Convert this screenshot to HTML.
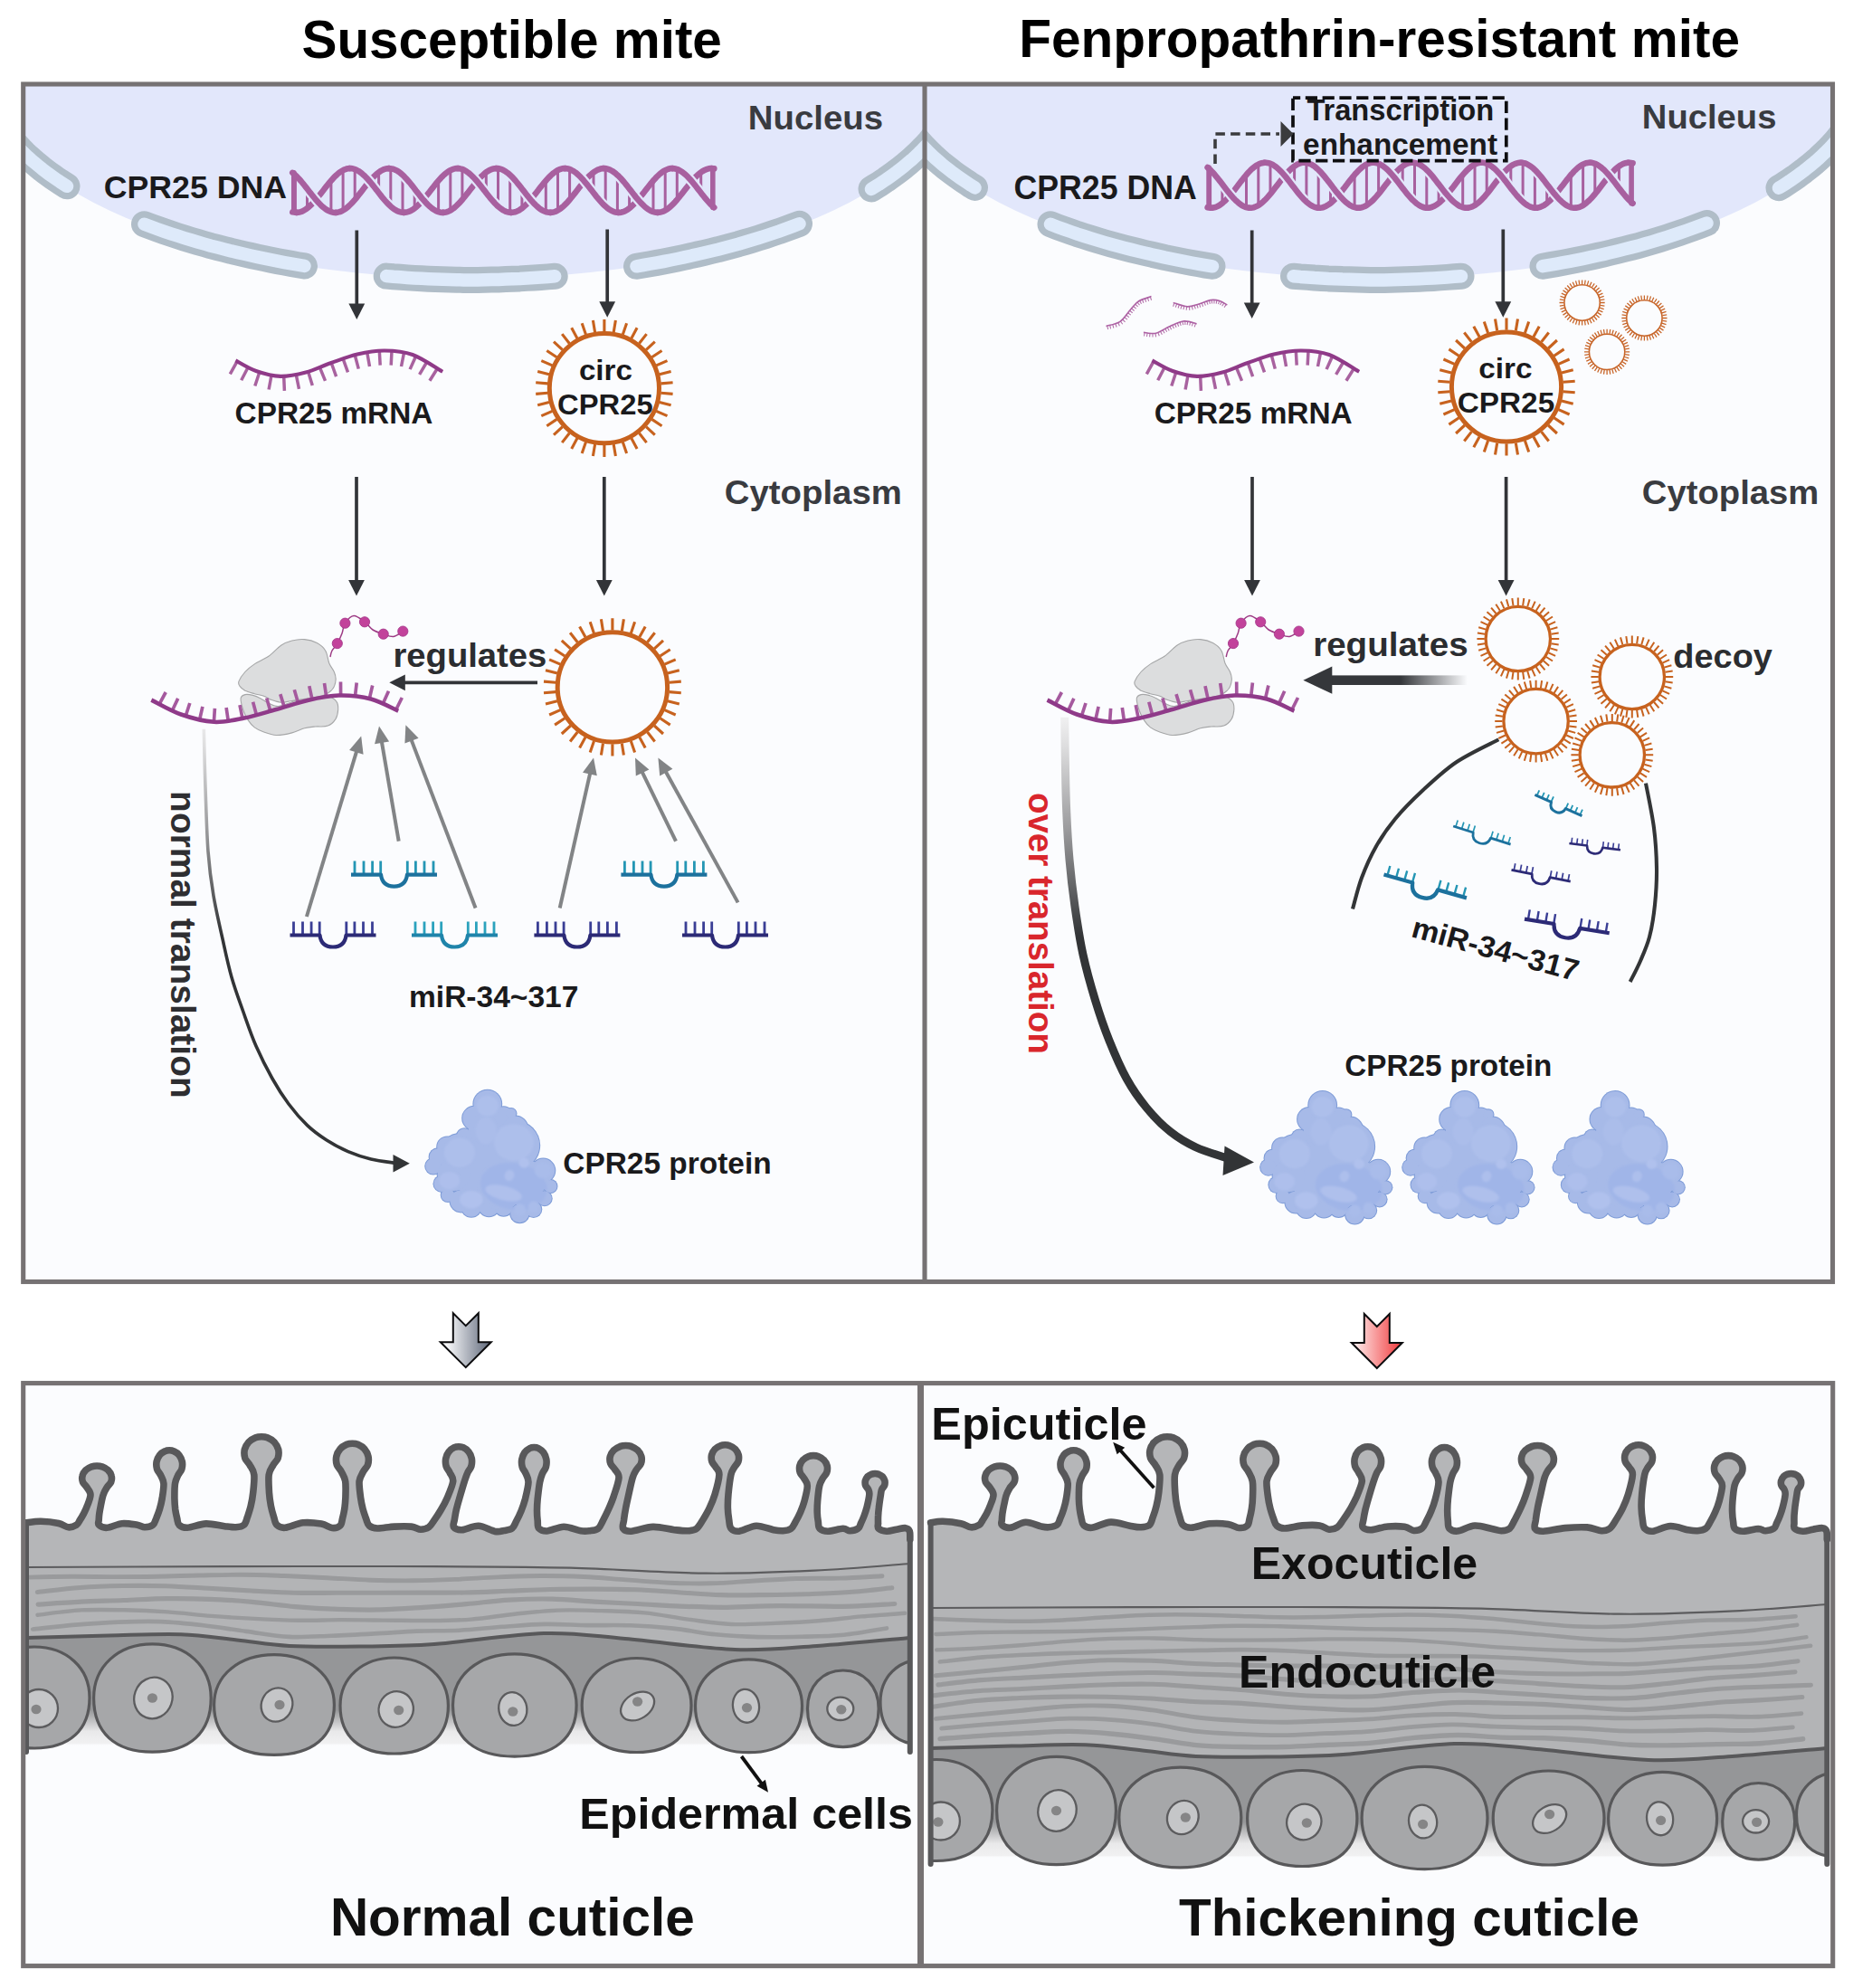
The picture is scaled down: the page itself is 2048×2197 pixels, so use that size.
<!DOCTYPE html>
<html><head><meta charset="utf-8"><title>circCPR25 model</title>
<style>html,body{margin:0;padding:0;background:#fff}svg{display:block}text{font-family:"Liberation Sans",sans-serif}</style></head>
<body>
<svg width="2048" height="2197" viewBox="0 0 2048 2197">
<defs>
<clipPath id="clipL"><rect x="25.5" y="93" width="996.5" height="400"/></clipPath>
<clipPath id="clipR"><rect x="1022" y="93" width="1003.5" height="400"/></clipPath>
<linearGradient id="fadeR" gradientUnits="userSpaceOnUse" x1="1548" y1="0" x2="1622" y2="0"><stop offset="0" stop-color="#35373b"/><stop offset="1" stop-color="#35373b" stop-opacity="0"/></linearGradient>
<linearGradient id="gcurve" gradientUnits="userSpaceOnUse" x1="0" y1="795" x2="0" y2="1035"><stop offset="0" stop-color="#efeff0"/><stop offset="0.12" stop-color="#dededf"/><stop offset="0.5" stop-color="#9c9c9e"/><stop offset="1" stop-color="#323436"/></linearGradient>
<clipPath id="protclip"><circle cx="98.8" cy="38.5" r="15.4"/><circle cx="84.2" cy="54.2" r="13"/><circle cx="116.6" cy="52.6" r="11"/><circle cx="125" cy="48.9" r="5.5"/><circle cx="97.1" cy="68" r="19.4"/><circle cx="129.5" cy="84.2" r="26.7"/><circle cx="68" cy="91.5" r="20.2"/><circle cx="54.2" cy="85.8" r="11"/><circle cx="44" cy="97.1" r="9.4"/><circle cx="38.9" cy="107.2" r="8.7"/><circle cx="48.2" cy="126.6" r="8.7"/><circle cx="55" cy="139.2" r="7.3"/><circle cx="69.6" cy="145.7" r="12.1"/><circle cx="80.9" cy="152.2" r="11"/><circle cx="100.4" cy="150.9" r="11.7"/><circle cx="116.6" cy="152.2" r="10"/><circle cx="134.4" cy="159.5" r="10.2"/><circle cx="149.7" cy="154.9" r="8.6"/><circle cx="142.5" cy="140.8" r="14.6"/><circle cx="161.9" cy="142.8" r="7.8"/><circle cx="168.4" cy="129.5" r="7.1"/><circle cx="160.3" cy="112" r="13"/><circle cx="145.7" cy="121.4" r="19.4"/><circle cx="97.1" cy="113.3" r="35.6"/><circle cx="113.3" cy="129.5" r="25.9"/><circle cx="61.5" cy="116.6" r="17.8"/><circle cx="129.5" cy="65.6" r="13.8"/><circle cx="73.2" cy="74.1" r="8.4"/></clipPath>
<filter id="protblur" x="-20%" y="-20%" width="140%" height="140%"><feGaussianBlur stdDeviation="1.1"/></filter>
<g id="prot"><circle cx="98.8" cy="38.5" r="16.4" fill="#7d9bd7"/><circle cx="84.2" cy="54.2" r="14" fill="#7d9bd7"/><circle cx="116.6" cy="52.6" r="12" fill="#7d9bd7"/><circle cx="125" cy="48.9" r="6.5" fill="#7d9bd7"/><circle cx="97.1" cy="68" r="20.4" fill="#7d9bd7"/><circle cx="129.5" cy="84.2" r="27.7" fill="#7d9bd7"/><circle cx="68" cy="91.5" r="21.2" fill="#7d9bd7"/><circle cx="54.2" cy="85.8" r="12" fill="#7d9bd7"/><circle cx="44" cy="97.1" r="10.4" fill="#7d9bd7"/><circle cx="38.9" cy="107.2" r="9.7" fill="#7d9bd7"/><circle cx="48.2" cy="126.6" r="9.7" fill="#7d9bd7"/><circle cx="55" cy="139.2" r="8.3" fill="#7d9bd7"/><circle cx="69.6" cy="145.7" r="13.1" fill="#7d9bd7"/><circle cx="80.9" cy="152.2" r="12" fill="#7d9bd7"/><circle cx="100.4" cy="150.9" r="12.7" fill="#7d9bd7"/><circle cx="116.6" cy="152.2" r="11" fill="#7d9bd7"/><circle cx="134.4" cy="159.5" r="11.2" fill="#7d9bd7"/><circle cx="149.7" cy="154.9" r="9.6" fill="#7d9bd7"/><circle cx="142.5" cy="140.8" r="15.6" fill="#7d9bd7"/><circle cx="161.9" cy="142.8" r="8.8" fill="#7d9bd7"/><circle cx="168.4" cy="129.5" r="8.1" fill="#7d9bd7"/><circle cx="160.3" cy="112" r="14" fill="#7d9bd7"/><circle cx="145.7" cy="121.4" r="20.4" fill="#7d9bd7"/><circle cx="97.1" cy="113.3" r="36.6" fill="#7d9bd7"/><circle cx="113.3" cy="129.5" r="26.9" fill="#7d9bd7"/><circle cx="61.5" cy="116.6" r="18.8" fill="#7d9bd7"/><circle cx="129.5" cy="65.6" r="14.8" fill="#7d9bd7"/><circle cx="73.2" cy="74.1" r="9.4" fill="#7d9bd7"/><circle cx="98.8" cy="38.5" r="15.4" fill="#a7bae8"/><circle cx="84.2" cy="54.2" r="13" fill="#a7bae8"/><circle cx="116.6" cy="52.6" r="11" fill="#a7bae8"/><circle cx="125" cy="48.9" r="5.5" fill="#a7bae8"/><circle cx="97.1" cy="68" r="19.4" fill="#a7bae8"/><circle cx="129.5" cy="84.2" r="26.7" fill="#a7bae8"/><circle cx="68" cy="91.5" r="20.2" fill="#a7bae8"/><circle cx="54.2" cy="85.8" r="11" fill="#a7bae8"/><circle cx="44" cy="97.1" r="9.4" fill="#a7bae8"/><circle cx="38.9" cy="107.2" r="8.7" fill="#a7bae8"/><circle cx="48.2" cy="126.6" r="8.7" fill="#a7bae8"/><circle cx="55" cy="139.2" r="7.3" fill="#a7bae8"/><circle cx="69.6" cy="145.7" r="12.1" fill="#a7bae8"/><circle cx="80.9" cy="152.2" r="11" fill="#a7bae8"/><circle cx="100.4" cy="150.9" r="11.7" fill="#a7bae8"/><circle cx="116.6" cy="152.2" r="10" fill="#a7bae8"/><circle cx="134.4" cy="159.5" r="10.2" fill="#a7bae8"/><circle cx="149.7" cy="154.9" r="8.6" fill="#a7bae8"/><circle cx="142.5" cy="140.8" r="14.6" fill="#a7bae8"/><circle cx="161.9" cy="142.8" r="7.8" fill="#a7bae8"/><circle cx="168.4" cy="129.5" r="7.1" fill="#a7bae8"/><circle cx="160.3" cy="112" r="13" fill="#a7bae8"/><circle cx="145.7" cy="121.4" r="19.4" fill="#a7bae8"/><circle cx="97.1" cy="113.3" r="35.6" fill="#a7bae8"/><circle cx="113.3" cy="129.5" r="25.9" fill="#a7bae8"/><circle cx="61.5" cy="116.6" r="17.8" fill="#a7bae8"/><circle cx="129.5" cy="65.6" r="13.8" fill="#a7bae8"/><circle cx="73.2" cy="74.1" r="8.4" fill="#a7bae8"/><g clip-path="url(#protclip)"><g filter="url(#protblur)"><ellipse cx="127.9" cy="129.5" rx="37.2" ry="25.9" fill="#a0b5e8" transform="rotate(10 127.9 129.5)"/><ellipse cx="98.8" cy="40.5" rx="12.1" ry="11.3" fill="#adbfeb" transform="rotate(0 98.8 40.5)"/><ellipse cx="127.9" cy="80.9" rx="21.9" ry="20.2" fill="#adbfeb" transform="rotate(0 127.9 80.9)"/><ellipse cx="68" cy="92.3" rx="17" ry="16.2" fill="#adbfeb" transform="rotate(0 68 92.3)"/><ellipse cx="97.1" cy="68" rx="11.3" ry="14.6" fill="#abbdea" transform="rotate(0 97.1 68)"/><ellipse cx="116.6" cy="136.8" rx="20.7" ry="7.8" fill="#afc0ec" transform="rotate(14 116.6 136.8)"/><ellipse cx="80.9" cy="144.1" rx="12.6" ry="9.7" fill="#b0c1ed" transform="rotate(0 80.9 144.1)"/><ellipse cx="56.7" cy="123" rx="11.3" ry="9.7" fill="#aebfec" transform="rotate(0 56.7 123)"/><ellipse cx="160.3" cy="111.7" rx="9.4" ry="9.1" fill="#a9bcea" transform="rotate(0 160.3 111.7)"/><ellipse cx="139.2" cy="103.6" rx="5.8" ry="5.5" fill="#b0c1ed" transform="rotate(0 139.2 103.6)"/><ellipse cx="123" cy="117.4" rx="5.2" ry="6.2" fill="#adbfec" transform="rotate(20 123 117.4)"/><ellipse cx="134.4" cy="155.4" rx="6.5" ry="6.8" fill="#a9bcea" transform="rotate(0 134.4 155.4)"/><ellipse cx="149.7" cy="152.2" rx="5.8" ry="6.2" fill="#a9bcea" transform="rotate(0 149.7 152.2)"/></g></g></g>
<linearGradient id="gGray" x1="0" y1="0" x2="1" y2="0"><stop offset="0.15" stop-color="#f4f5f7"/><stop offset="1" stop-color="#5d6678"/></linearGradient>
<linearGradient id="gRed" x1="0" y1="0" x2="1" y2="0"><stop offset="0.1" stop-color="#fde3e3"/><stop offset="1" stop-color="#f0383a"/></linearGradient>
<linearGradient id="cl_fade" x1="0" y1="0" x2="0" y2="1"><stop offset="0" stop-color="#959698"/><stop offset="0.6" stop-color="#e9e9ea"/><stop offset="0.93" stop-color="#f1f1f2"/><stop offset="1" stop-color="#fbfcfe" stop-opacity="0"/></linearGradient>
<clipPath id="cl_clip"><rect x="29" y="1540" width="976.8" height="640"/></clipPath>
<linearGradient id="cr_fade" x1="0" y1="0" x2="0" y2="1"><stop offset="0" stop-color="#959698"/><stop offset="0.6" stop-color="#e9e9ea"/><stop offset="0.93" stop-color="#f1f1f2"/><stop offset="1" stop-color="#fbfcfe" stop-opacity="0"/></linearGradient>
<clipPath id="cr_clip"><rect x="1028.6" y="1540" width="990.7" height="640"/></clipPath>
</defs>
<rect x="25.5" y="93" width="996.5" height="1323.5" fill="#fbfcfe"/>
<rect x="1022" y="93" width="1003.5" height="1323.5" fill="#fbfcfe"/>
<rect x="25.5" y="1528.5" width="992" height="643.5" fill="#fbfcfe"/>
<rect x="1017.5" y="1528.5" width="1007.5" height="644.5" fill="#fbfcfe"/>
<g clip-path="url(#clipL)">
<ellipse cx="521" cy="78" rx="540" ry="230" fill="#e2e7fb"/>
<path d="M-20 76.8L-16.1 100.7L-12.2 113.3L-8.2 122.5L-4.3 130L-0.4 136.6L3.5 142.5L7.4 147.9L11.3 152.8L15.2 157.4L19.2 161.7L23.1 165.8L27 169.7L30.9 173.4L34.8 176.9L38.8 180.3L42.7 183.5L46.6 186.7L50.5 189.7L54.4 192.6L58.3 195.4L62.2 198.1L66.2 200.8L70.1 203.3L74 205.8" stroke="#b0bdc8" stroke-width="29" stroke-linecap="round" stroke-linejoin="round" fill="none"/>
<path d="M-20 76.8L-16.1 100.7L-12.2 113.3L-8.2 122.5L-4.3 130L-0.4 136.6L3.5 142.5L7.4 147.9L11.3 152.8L15.2 157.4L19.2 161.7L23.1 165.8L27 169.7L30.9 173.4L34.8 176.9L38.8 180.3L42.7 183.5L46.6 186.7L50.5 189.7L54.4 192.6L58.3 195.4L62.2 198.1L66.2 200.8L70.1 203.3L74 205.8" stroke="#deeafa" stroke-width="14.5" stroke-linecap="round" stroke-linejoin="round" fill="none"/>
<path d="M159.5 247.7L166.9 250.5L174.2 253.2L181.6 255.8L189 258.3L196.4 260.7L203.8 263.1L211.1 265.3L218.5 267.5L225.9 269.6L233.2 271.7L240.6 273.6L248 275.5L255.4 277.4L262.8 279.1L270.1 280.8L277.5 282.5L284.9 284.1L292.2 285.7L299.6 287.2L307 288.7L314.4 290.1L321.8 291.4L329.1 292.7L336.5 293.9" stroke="#b0bdc8" stroke-width="29" stroke-linecap="round" stroke-linejoin="round" fill="none"/>
<path d="M159.5 247.7L166.9 250.5L174.2 253.2L181.6 255.8L189 258.3L196.4 260.7L203.8 263.1L211.1 265.3L218.5 267.5L225.9 269.6L233.2 271.7L240.6 273.6L248 275.5L255.4 277.4L262.8 279.1L270.1 280.8L277.5 282.5L284.9 284.1L292.2 285.7L299.6 287.2L307 288.7L314.4 290.1L321.8 291.4L329.1 292.7L336.5 293.9" stroke="#deeafa" stroke-width="14.5" stroke-linecap="round" stroke-linejoin="round" fill="none"/>
<path d="M427.2 305.1L434.9 305.8L442.7 306.3L450.4 306.9L458.2 307.4L465.9 307.8L473.7 308.2L481.4 308.5L489.2 308.8L496.9 309L504.7 309.2L512.5 309.4L520.2 309.5L528 309.4L535.7 309.3L543.5 309.1L551.2 308.9L559 308.6L566.7 308.2L574.5 307.9L582.2 307.4L590 307L597.7 306.5L605.5 305.9L613.2 305.3" stroke="#b0bdc8" stroke-width="29" stroke-linecap="round" stroke-linejoin="round" fill="none"/>
<path d="M427.2 305.1L434.9 305.8L442.7 306.3L450.4 306.9L458.2 307.4L465.9 307.8L473.7 308.2L481.4 308.5L489.2 308.8L496.9 309L504.7 309.2L512.5 309.4L520.2 309.5L528 309.4L535.7 309.3L543.5 309.1L551.2 308.9L559 308.6L566.7 308.2L574.5 307.9L582.2 307.4L590 307L597.7 306.5L605.5 305.9L613.2 305.3" stroke="#deeafa" stroke-width="14.5" stroke-linecap="round" stroke-linejoin="round" fill="none"/>
<path d="M703.5 294.3L711 293L718.5 291.7L726 290.4L733.5 289L741 287.5L748.5 286L756 284.4L763.5 282.7L771 281L778.5 279.3L786 277.5L793.5 275.7L801 273.7L808.5 271.7L816 269.7L823.5 267.5L831 265.3L838.5 263L846 260.6L853.5 258.1L861 255.6L868.5 252.9L876 250.1L883.5 247.3" stroke="#b0bdc8" stroke-width="29" stroke-linecap="round" stroke-linejoin="round" fill="none"/>
<path d="M703.5 294.3L711 293L718.5 291.7L726 290.4L733.5 289L741 287.5L748.5 286L756 284.4L763.5 282.7L771 281L778.5 279.3L786 277.5L793.5 275.7L801 273.7L808.5 271.7L816 269.7L823.5 267.5L831 265.3L838.5 263L846 260.6L853.5 258.1L861 255.6L868.5 252.9L876 250.1L883.5 247.3" stroke="#deeafa" stroke-width="14.5" stroke-linecap="round" stroke-linejoin="round" fill="none"/>
<path d="M963 208.9L967 206.4L971.1 203.9L975.1 201.2L979.2 198.5L983.2 195.7L987.2 192.8L991.3 189.8L995.3 186.7L999.4 183.5L1003.4 180.1L1007.5 176.7L1011.5 173L1015.5 169.2L1019.6 165.1L1023.6 160.9L1027.7 156.4L1031.7 151.5L1035.8 146.3L1039.8 140.6L1043.8 134.3L1047.9 127.2L1051.9 118.8L1056 108.2L1060 90.8" stroke="#b0bdc8" stroke-width="29" stroke-linecap="round" stroke-linejoin="round" fill="none"/>
<path d="M963 208.9L967 206.4L971.1 203.9L975.1 201.2L979.2 198.5L983.2 195.7L987.2 192.8L991.3 189.8L995.3 186.7L999.4 183.5L1003.4 180.1L1007.5 176.7L1011.5 173L1015.5 169.2L1019.6 165.1L1023.6 160.9L1027.7 156.4L1031.7 151.5L1035.8 146.3L1039.8 140.6L1043.8 134.3L1047.9 127.2L1051.9 118.8L1056 108.2L1060 90.8" stroke="#deeafa" stroke-width="14.5" stroke-linecap="round" stroke-linejoin="round" fill="none"/>
</g>
<g clip-path="url(#clipR)">
<ellipse cx="1522" cy="78" rx="540" ry="230" fill="#e2e7fb"/>
<path d="M980 76.8L984.1 96.9L988.1 111.3L992.2 121.3L996.2 129.3L1000.3 136.2L1004.4 142.3L1008.4 147.9L1012.5 153L1016.6 157.8L1020.6 162.2L1024.7 166.4L1028.8 170.4L1032.8 174.2L1036.9 177.8L1040.9 181.3L1045 184.6L1049.1 187.8L1053.1 190.9L1057.2 193.9L1061.2 196.7L1065.3 199.5L1069.4 202.2L1073.4 204.9L1077.5 207.4" stroke="#b0bdc8" stroke-width="29" stroke-linecap="round" stroke-linejoin="round" fill="none"/>
<path d="M980 76.8L984.1 96.9L988.1 111.3L992.2 121.3L996.2 129.3L1000.3 136.2L1004.4 142.3L1008.4 147.9L1012.5 153L1016.6 157.8L1020.6 162.2L1024.7 166.4L1028.8 170.4L1032.8 174.2L1036.9 177.8L1040.9 181.3L1045 184.6L1049.1 187.8L1053.1 190.9L1057.2 193.9L1061.2 196.7L1065.3 199.5L1069.4 202.2L1073.4 204.9L1077.5 207.4" stroke="#deeafa" stroke-width="14.5" stroke-linecap="round" stroke-linejoin="round" fill="none"/>
<path d="M1161 247.8L1168.5 250.7L1175.9 253.4L1183.4 256L1190.8 258.6L1198.3 261L1205.8 263.4L1213.2 265.7L1220.7 267.9L1228.1 270L1235.6 272L1243 274L1250.5 275.9L1258 277.7L1265.4 279.5L1272.9 281.2L1280.3 282.9L1287.8 284.6L1295.2 286.1L1302.7 287.6L1310.2 289.1L1317.6 290.5L1325.1 291.8L1332.5 293.1L1340 294.3" stroke="#b0bdc8" stroke-width="29" stroke-linecap="round" stroke-linejoin="round" fill="none"/>
<path d="M1161 247.8L1168.5 250.7L1175.9 253.4L1183.4 256L1190.8 258.6L1198.3 261L1205.8 263.4L1213.2 265.7L1220.7 267.9L1228.1 270L1235.6 272L1243 274L1250.5 275.9L1258 277.7L1265.4 279.5L1272.9 281.2L1280.3 282.9L1287.8 284.6L1295.2 286.1L1302.7 287.6L1310.2 289.1L1317.6 290.5L1325.1 291.8L1332.5 293.1L1340 294.3" stroke="#deeafa" stroke-width="14.5" stroke-linecap="round" stroke-linejoin="round" fill="none"/>
<path d="M1429.5 305.2L1437.2 305.9L1445 306.4L1452.7 307L1460.4 307.4L1468.1 307.9L1475.9 308.2L1483.6 308.6L1491.3 308.8L1499.1 309.1L1506.8 309.3L1514.5 309.4L1522.2 309.5L1530 309.4L1537.7 309.3L1545.4 309.1L1553.2 308.8L1560.9 308.5L1568.6 308.2L1576.4 307.8L1584.1 307.4L1591.8 306.9L1599.5 306.4L1607.3 305.8L1615 305.2" stroke="#b0bdc8" stroke-width="29" stroke-linecap="round" stroke-linejoin="round" fill="none"/>
<path d="M1429.5 305.2L1437.2 305.9L1445 306.4L1452.7 307L1460.4 307.4L1468.1 307.9L1475.9 308.2L1483.6 308.6L1491.3 308.8L1499.1 309.1L1506.8 309.3L1514.5 309.4L1522.2 309.5L1530 309.4L1537.7 309.3L1545.4 309.1L1553.2 308.8L1560.9 308.5L1568.6 308.2L1576.4 307.8L1584.1 307.4L1591.8 306.9L1599.5 306.4L1607.3 305.8L1615 305.2" stroke="#deeafa" stroke-width="14.5" stroke-linecap="round" stroke-linejoin="round" fill="none"/>
<path d="M1705 294.2L1712.6 292.9L1720.1 291.6L1727.7 290.2L1735.2 288.8L1742.8 287.3L1750.4 285.8L1757.9 284.2L1765.5 282.5L1773.1 280.8L1780.6 279L1788.2 277.2L1795.8 275.3L1803.3 273.4L1810.9 271.4L1818.4 269.3L1826 267.1L1833.6 264.8L1841.1 262.5L1848.7 260L1856.2 257.5L1863.8 254.9L1871.4 252.2L1878.9 249.4L1886.5 246.5" stroke="#b0bdc8" stroke-width="29" stroke-linecap="round" stroke-linejoin="round" fill="none"/>
<path d="M1705 294.2L1712.6 292.9L1720.1 291.6L1727.7 290.2L1735.2 288.8L1742.8 287.3L1750.4 285.8L1757.9 284.2L1765.5 282.5L1773.1 280.8L1780.6 279L1788.2 277.2L1795.8 275.3L1803.3 273.4L1810.9 271.4L1818.4 269.3L1826 267.1L1833.6 264.8L1841.1 262.5L1848.7 260L1856.2 257.5L1863.8 254.9L1871.4 252.2L1878.9 249.4L1886.5 246.5" stroke="#deeafa" stroke-width="14.5" stroke-linecap="round" stroke-linejoin="round" fill="none"/>
<path d="M1966 207.7L1969.9 205.3L1973.8 202.8L1977.8 200.2L1981.7 197.5L1985.6 194.8L1989.5 191.9L1993.4 189L1997.3 185.9L2001.2 182.8L2005.2 179.5L2009.1 176.1L2013 172.5L2016.9 168.8L2020.8 164.9L2024.8 160.7L2028.7 156.4L2032.6 151.7L2036.5 146.6L2040.4 141.2L2044.3 135.2L2048.2 128.4L2052.2 120.5L2056.1 110.8L2060 96.6" stroke="#b0bdc8" stroke-width="29" stroke-linecap="round" stroke-linejoin="round" fill="none"/>
<path d="M1966 207.7L1969.9 205.3L1973.8 202.8L1977.8 200.2L1981.7 197.5L1985.6 194.8L1989.5 191.9L1993.4 189L1997.3 185.9L2001.2 182.8L2005.2 179.5L2009.1 176.1L2013 172.5L2016.9 168.8L2020.8 164.9L2024.8 160.7L2028.7 156.4L2032.6 151.7L2036.5 146.6L2040.4 141.2L2044.3 135.2L2048.2 128.4L2052.2 120.5L2056.1 110.8L2060 96.6" stroke="#deeafa" stroke-width="14.5" stroke-linecap="round" stroke-linejoin="round" fill="none"/>
</g>
<text x="333.4" y="63.5" font-size="59.5" font-weight="bold" fill="#000" text-anchor="start" textLength="464.5" lengthAdjust="spacingAndGlyphs" >Susceptible mite</text>
<text x="1126.2" y="63" font-size="59.5" font-weight="bold" fill="#000" text-anchor="start" textLength="796.8" lengthAdjust="spacingAndGlyphs" >Fenpropathrin-resistant mite</text>
<text x="826.8" y="143.3" font-size="37" font-weight="bold" fill="#393b40" text-anchor="start" textLength="149.3" lengthAdjust="spacingAndGlyphs" >Nucleus</text>
<text x="1814.8" y="142" font-size="37" font-weight="bold" fill="#393b40" text-anchor="start" textLength="148.6" lengthAdjust="spacingAndGlyphs" >Nucleus</text>
<text x="114.8" y="219.4" font-size="35.7" font-weight="bold" fill="#1a1a1c" text-anchor="start" textLength="202.2" lengthAdjust="spacingAndGlyphs" >CPR25 DNA</text>
<text x="1120.5" y="219.6" font-size="36" font-weight="bold" fill="#1a1a1c" text-anchor="start" textLength="202.2" lengthAdjust="spacingAndGlyphs" >CPR25 DNA</text>
<path d="M326.3 194.4V233.8M339.5 209.6V229.2M365.9 200.7V233.1M379.1 189.2V231.5M392.2 188.1V219.6M418.6 191.4V212.1M431.8 187.2V227.1M445 194.4V233.8M458.2 209.6V229.2M484.6 200.7V233.1M497.8 189.2V231.5M510.9 188.1V219.6M537.3 191.4V212.1M550.5 187.2V227.1M563.7 194.4V233.8M576.9 209.6V229.2M603.3 200.7V233.1M616.5 189.2V231.5M629.6 188.1V219.6M656 191.4V212.1M669.2 187.2V227.1M682.4 194.4V233.8M695.6 209.6V229.2M722 200.7V233.1M735.2 189.2V231.5M748.3 188.1V219.6M774.7 191.4V212.1M787.9 187.2V227.1" stroke="#a8609f" stroke-width="3" fill="none"/>
<path d="M327.8 234.9L329.3 234.8L330.8 234.5L332.3 234.1L333.8 233.6L335.3 232.9L336.8 232L338.3 231.1L339.8 229.9L341.3 228.7L342.8 227.4L344.3 225.9L345.8 224.4L347.3 222.7L348.8 221L350.3 219.2L351.8 217.4L353.3 215.5L354.8 213.6L356.3 211.7L357.8 209.8L359.3 207.8L360.8 205.9L362.3 204L363.8 202.2L365.3 200.4L366.8 198.7L368.3 197L369.8 195.4L371.3 194L372.8 192.6L374.3 191.3L375.8 190.2L377.3 189.2L378.8 188.3L380.3 187.6L381.8 187L383.3 186.5L384.8 186.3L386.3 186.1" stroke="#a8609f" stroke-width="6.6" fill="none" stroke-linecap="round"/>
<path d="M446.3 234.9L447.8 234.8L449.3 234.6L450.8 234.2L452.3 233.7L453.8 233L455.3 232.2L456.8 231.2L458.3 230.1L459.8 228.9L461.3 227.6L462.8 226.1L464.3 224.6L465.8 223L467.3 221.3L468.8 219.5L470.3 217.7L471.8 215.8L473.3 213.9L474.8 212L476.3 210L477.8 208.1L479.3 206.2L480.8 204.3L482.3 202.4L483.8 200.6L485.3 198.9L486.8 197.2L488.3 195.6L489.8 194.1L491.3 192.8L492.8 191.5L494.3 190.3L495.8 189.3L497.3 188.4L498.8 187.7L500.3 187.1L501.8 186.6L503.3 186.3L504.8 186.1L506.3 186.1" stroke="#a8609f" stroke-width="6.6" fill="none" stroke-linecap="round"/>
<path d="M564.8 234.9L566.3 234.8L567.8 234.6L569.3 234.3L570.8 233.7L572.3 233.1L573.8 232.3L575.3 231.3L576.8 230.3L578.3 229.1L579.8 227.7L581.3 226.3L582.8 224.8L584.3 223.2L585.8 221.5L587.3 219.7L588.8 217.9L590.3 216L591.8 214.1L593.3 212.2L594.8 210.3L596.3 208.3L597.8 206.4L599.3 204.5L600.8 202.7L602.3 200.9L603.8 199.1L605.3 197.4L606.8 195.8L608.3 194.3L609.8 192.9L611.3 191.7L612.8 190.5L614.3 189.4L615.8 188.5L617.3 187.8L618.8 187.1L620.3 186.6L621.8 186.3L623.3 186.1L624.8 186.1" stroke="#a8609f" stroke-width="6.6" fill="none" stroke-linecap="round"/>
<path d="M683.3 234.9L684.8 234.9L686.3 234.7L687.8 234.3L689.3 233.8L690.8 233.2L692.3 232.4L693.8 231.5L695.3 230.4L696.8 229.2L698.3 227.9L699.8 226.5L701.3 225L702.8 223.4L704.3 221.7L705.8 220L707.3 218.2L708.8 216.3L710.3 214.4L711.8 212.5L713.3 210.5L714.8 208.6L716.3 206.7L717.8 204.8L719.3 202.9L720.8 201.1L722.3 199.3L723.8 197.7L725.3 196L726.8 194.5L728.3 193.1L729.8 191.8L731.3 190.6L732.8 189.6L734.3 188.6L735.8 187.9L737.3 187.2L738.8 186.7L740.3 186.3L741.8 186.1L743.3 186.1" stroke="#a8609f" stroke-width="6.6" fill="none" stroke-linecap="round"/>
<path d="M371.3 234.9L372.8 234.7L374.3 234.4L375.8 234L377.3 233.4L378.8 232.7L380.3 231.8L381.8 230.8L383.3 229.6L384.8 228.4L386.3 227L387.8 225.5L389.3 223.9L390.8 222.3L392.3 220.6L393.8 218.8L395.3 216.9L396.8 215L398.3 213.1L399.8 211.2L401.3 209.2L402.8 207.3L404.3 205.4L405.8 203.5L407.3 201.7L408.8 199.9L410.3 198.2L411.8 196.6L413.3 195L414.8 193.6L416.3 192.2L417.8 191L419.3 189.9L420.8 188.9L422.3 188.1L423.8 187.4L425.3 186.9L426.8 186.4L428.3 186.2L429.8 186.1" stroke="#a8609f" stroke-width="6.6" fill="none" stroke-linecap="round"/>
<path d="M489.8 234.9L491.3 234.8L492.8 234.5L494.3 234.1L495.8 233.5L497.3 232.8L498.8 231.9L500.3 230.9L501.8 229.8L503.3 228.5L504.8 227.2L506.3 225.7L507.8 224.2L509.3 222.5L510.8 220.8L512.3 219L513.8 217.2L515.3 215.3L516.8 213.4L518.3 211.4L519.8 209.5L521.3 207.6L522.8 205.7L524.3 203.8L525.8 201.9L527.3 200.2L528.8 198.4L530.3 196.8L531.8 195.2L533.3 193.8L534.8 192.4L536.3 191.2L537.8 190L539.3 189.1L540.8 188.2L542.3 187.5L543.8 186.9L545.3 186.5L546.8 186.2L548.3 186.1" stroke="#a8609f" stroke-width="6.6" fill="none" stroke-linecap="round"/>
<path d="M608.3 234.9L609.8 234.8L611.3 234.5L612.8 234.1L614.3 233.6L615.8 232.9L617.3 232L618.8 231.1L620.3 229.9L621.8 228.7L623.3 227.4L624.8 225.9L626.3 224.4L627.8 222.7L629.3 221L630.8 219.2L632.3 217.4L633.8 215.5L635.3 213.6L636.8 211.7L638.3 209.8L639.8 207.8L641.3 205.9L642.8 204L644.3 202.2L645.8 200.4L647.3 198.7L648.8 197L650.3 195.4L651.8 194L653.3 192.6L654.8 191.3L656.3 190.2L657.8 189.2L659.3 188.3L660.8 187.6L662.3 187L663.8 186.5L665.3 186.3L666.8 186.1" stroke="#a8609f" stroke-width="6.6" fill="none" stroke-linecap="round"/>
<path d="M726.8 234.9L728.3 234.8L729.8 234.6L731.3 234.2L732.8 233.7L734.3 233L735.8 232.2L737.3 231.2L738.8 230.1L740.3 228.9L741.8 227.6L743.3 226.1L744.8 224.6L746.3 223L747.8 221.3L749.3 219.5L750.8 217.7L752.3 215.8L753.8 213.9L755.3 212L756.8 210L758.3 208.1L759.8 206.2L761.3 204.3L762.8 202.4L764.3 200.6L765.8 198.9L767.3 197.2L768.8 195.6L770.3 194.1L771.8 192.8L773.3 191.5L774.8 190.3L776.3 189.3L777.8 188.4L779.3 187.7L780.8 187.1L782.3 186.6L783.8 186.3L785.3 186.1L786.8 186.1" stroke="#a8609f" stroke-width="6.6" fill="none" stroke-linecap="round"/>
<path d="M323.3 234.3L324.8 234.6L326.3 234.8" stroke="#e2e7fb" stroke-width="11.1" fill="none"/>
<path d="M399.8 191.6L401.3 192.9L402.8 194.2L404.3 195.7L405.8 197.3L407.3 199L408.8 200.7L410.3 202.5L411.8 204.4L413.3 206.3L414.8 208.2L416.3 210.1L417.8 212.1L419.3 214L420.8 215.9L422.3 217.8L423.8 219.6L425.3 221.4L426.8 223.1L428.3 224.7L429.8 226.2L431.3 227.7" stroke="#e2e7fb" stroke-width="11.1" fill="none"/>
<path d="M518.3 191.4L519.8 192.7L521.3 194.1L522.8 195.5L524.3 197.1L525.8 198.8L527.3 200.5L528.8 202.3L530.3 204.1L531.8 206L533.3 208L534.8 209.9L536.3 211.8L537.8 213.8L539.3 215.7L540.8 217.5L542.3 219.4L543.8 221.1L545.3 222.8L546.8 224.5L548.3 226L549.8 227.5L551.3 228.8" stroke="#e2e7fb" stroke-width="11.1" fill="none"/>
<path d="M636.8 191.2L638.3 192.5L639.8 193.9L641.3 195.3L642.8 196.9L644.3 198.5L645.8 200.3L647.3 202.1L648.8 203.9L650.3 205.8L651.8 207.7L653.3 209.6L654.8 211.6L656.3 213.5L657.8 215.4L659.3 217.3L660.8 219.1L662.3 220.9L663.8 222.6L665.3 224.3L666.8 225.8L668.3 227.3L669.8 228.6" stroke="#e2e7fb" stroke-width="11.1" fill="none"/>
<path d="M753.8 190L755.3 191.1L756.8 192.3L758.3 193.7L759.8 195.1L761.3 196.7L762.8 198.3L764.3 200L765.8 201.8L767.3 203.7L768.8 205.5L770.3 207.4L771.8 209.4L773.3 211.3L774.8 213.2L776.3 215.2L777.8 217" stroke="#e2e7fb" stroke-width="11.1" fill="none"/>
<path d="M333.8 201.5L335.3 203.3L336.8 205.2L338.3 207.1L339.8 209L341.3 210.9L342.8 212.9L344.3 214.8L345.8 216.7L347.3 218.5L348.8 220.3L350.3 222.1L351.8 223.7L353.3 225.3L354.8 226.8L356.3 228.2L357.8 229.5L359.3 230.6" stroke="#e2e7fb" stroke-width="11.1" fill="none"/>
<path d="M443.3 191.9L444.8 193.2L446.3 194.6L447.8 196.2L449.3 197.8L450.8 199.5L452.3 201.2L453.8 203L455.3 204.9L456.8 206.8L458.3 208.7L459.8 210.7L461.3 212.6L462.8 214.5L464.3 216.4L465.8 218.3L467.3 220.1L468.8 221.8L470.3 223.5L471.8 225.1L473.3 226.6L474.8 228" stroke="#e2e7fb" stroke-width="11.1" fill="none"/>
<path d="M561.8 191.7L563.3 193L564.8 194.4L566.3 195.9L567.8 197.5L569.3 199.2L570.8 201L572.3 202.8L573.8 204.6L575.3 206.5L576.8 208.5L578.3 210.4L579.8 212.3L581.3 214.3L582.8 216.2L584.3 218L585.8 219.8L587.3 221.6L588.8 223.3L590.3 224.9L591.8 226.4L593.3 227.8" stroke="#e2e7fb" stroke-width="11.1" fill="none"/>
<path d="M680.3 191.6L681.8 192.9L683.3 194.2L684.8 195.7L686.3 197.3L687.8 199L689.3 200.7L690.8 202.5L692.3 204.4L693.8 206.3L695.3 208.2L696.8 210.1L698.3 212.1L699.8 214L701.3 215.9L702.8 217.8L704.3 219.6L705.8 221.4L707.3 223.1L708.8 224.7L710.3 226.2L711.8 227.7" stroke="#e2e7fb" stroke-width="11.1" fill="none"/>
<path d="M786.8 186.1L788.3 186.3" stroke="#e2e7fb" stroke-width="11.1" fill="none"/>
<path d="M323.3 234.3L324.8 234.6L326.3 234.8L327.8 234.9" stroke="#a8609f" stroke-width="6.6" fill="none" stroke-linecap="round"/>
<path d="M386.3 186.1L387.8 186.1L389.3 186.3L390.8 186.6L392.3 187.1L393.8 187.7L395.3 188.5L396.8 189.4L398.3 190.4L399.8 191.6L401.3 192.9L402.8 194.2L404.3 195.7L405.8 197.3L407.3 199L408.8 200.7L410.3 202.5L411.8 204.4L413.3 206.3L414.8 208.2L416.3 210.1L417.8 212.1L419.3 214L420.8 215.9L422.3 217.8L423.8 219.6L425.3 221.4L426.8 223.1L428.3 224.7L429.8 226.2L431.3 227.7L432.8 229L434.3 230.2L435.8 231.3L437.3 232.2L438.8 233L440.3 233.7L441.8 234.2L443.3 234.6L444.8 234.8L446.3 234.9" stroke="#a8609f" stroke-width="6.6" fill="none" stroke-linecap="round"/>
<path d="M506.3 186.1L507.8 186.3L509.3 186.6L510.8 187L512.3 187.6L513.8 188.4L515.3 189.2L516.8 190.3L518.3 191.4L519.8 192.7L521.3 194.1L522.8 195.5L524.3 197.1L525.8 198.8L527.3 200.5L528.8 202.3L530.3 204.1L531.8 206L533.3 208L534.8 209.9L536.3 211.8L537.8 213.8L539.3 215.7L540.8 217.5L542.3 219.4L543.8 221.1L545.3 222.8L546.8 224.5L548.3 226L549.8 227.5L551.3 228.8L552.8 230L554.3 231.1L555.8 232.1L557.3 232.9L558.8 233.6L560.3 234.2L561.8 234.6L563.3 234.8L564.8 234.9" stroke="#a8609f" stroke-width="6.6" fill="none" stroke-linecap="round"/>
<path d="M624.8 186.1L626.3 186.2L627.8 186.5L629.3 186.9L630.8 187.5L632.3 188.3L633.8 189.1L635.3 190.1L636.8 191.2L638.3 192.5L639.8 193.9L641.3 195.3L642.8 196.9L644.3 198.5L645.8 200.3L647.3 202.1L648.8 203.9L650.3 205.8L651.8 207.7L653.3 209.6L654.8 211.6L656.3 213.5L657.8 215.4L659.3 217.3L660.8 219.1L662.3 220.9L663.8 222.6L665.3 224.3L666.8 225.8L668.3 227.3L669.8 228.6L671.3 229.9L672.8 231L674.3 232L675.8 232.8L677.3 233.5L678.8 234.1L680.3 234.5L681.8 234.8L683.3 234.9" stroke="#a8609f" stroke-width="6.6" fill="none" stroke-linecap="round"/>
<path d="M743.3 186.1L744.8 186.2L746.3 186.5L747.8 186.9L749.3 187.4L750.8 188.2L752.3 189L753.8 190L755.3 191.1L756.8 192.3L758.3 193.7L759.8 195.1L761.3 196.7L762.8 198.3L764.3 200L765.8 201.8L767.3 203.7L768.8 205.5L770.3 207.4L771.8 209.4L773.3 211.3L774.8 213.2L776.3 215.2L777.8 217L779.3 218.9L780.8 220.7L782.3 222.4L783.8 224.1L785.3 225.6L786.8 227.1L788.3 228.5L789.3 229.3" stroke="#a8609f" stroke-width="6.6" fill="none" stroke-linecap="round"/>
<path d="M323.3 190.9L324.8 192.1L326.3 193.4L327.8 194.8L329.3 196.4L330.8 198L332.3 199.7L333.8 201.5L335.3 203.3L336.8 205.2L338.3 207.1L339.8 209L341.3 210.9L342.8 212.9L344.3 214.8L345.8 216.7L347.3 218.5L348.8 220.3L350.3 222.1L351.8 223.7L353.3 225.3L354.8 226.8L356.3 228.2L357.8 229.5L359.3 230.6L360.8 231.7L362.3 232.6L363.8 233.3L365.3 233.9L366.8 234.4L368.3 234.7L369.8 234.9L371.3 234.9" stroke="#a8609f" stroke-width="6.6" fill="none" stroke-linecap="round"/>
<path d="M429.8 186.1L431.3 186.2L432.8 186.4L434.3 186.7L435.8 187.2L437.3 187.9L438.8 188.7L440.3 189.6L441.8 190.7L443.3 191.9L444.8 193.2L446.3 194.6L447.8 196.2L449.3 197.8L450.8 199.5L452.3 201.2L453.8 203L455.3 204.9L456.8 206.8L458.3 208.7L459.8 210.7L461.3 212.6L462.8 214.5L464.3 216.4L465.8 218.3L467.3 220.1L468.8 221.8L470.3 223.5L471.8 225.1L473.3 226.6L474.8 228L476.3 229.3L477.8 230.5L479.3 231.5L480.8 232.4L482.3 233.2L483.8 233.9L485.3 234.3L486.8 234.7L488.3 234.9L489.8 234.9" stroke="#a8609f" stroke-width="6.6" fill="none" stroke-linecap="round"/>
<path d="M548.3 186.1L549.8 186.1L551.3 186.3L552.8 186.7L554.3 187.2L555.8 187.8L557.3 188.6L558.8 189.5L560.3 190.6L561.8 191.7L563.3 193L564.8 194.4L566.3 195.9L567.8 197.5L569.3 199.2L570.8 201L572.3 202.8L573.8 204.6L575.3 206.5L576.8 208.5L578.3 210.4L579.8 212.3L581.3 214.3L582.8 216.2L584.3 218L585.8 219.8L587.3 221.6L588.8 223.3L590.3 224.9L591.8 226.4L593.3 227.8L594.8 229.1L596.3 230.3L597.8 231.4L599.3 232.3L600.8 233.1L602.3 233.8L603.8 234.3L605.3 234.6L606.8 234.8L608.3 234.9" stroke="#a8609f" stroke-width="6.6" fill="none" stroke-linecap="round"/>
<path d="M666.8 186.1L668.3 186.1L669.8 186.3L671.3 186.6L672.8 187.1L674.3 187.7L675.8 188.5L677.3 189.4L678.8 190.4L680.3 191.6L681.8 192.9L683.3 194.2L684.8 195.7L686.3 197.3L687.8 199L689.3 200.7L690.8 202.5L692.3 204.4L693.8 206.3L695.3 208.2L696.8 210.1L698.3 212.1L699.8 214L701.3 215.9L702.8 217.8L704.3 219.6L705.8 221.4L707.3 223.1L708.8 224.7L710.3 226.2L711.8 227.7L713.3 229L714.8 230.2L716.3 231.3L717.8 232.2L719.3 233L720.8 233.7L722.3 234.2L723.8 234.6L725.3 234.8L726.8 234.9" stroke="#a8609f" stroke-width="6.6" fill="none" stroke-linecap="round"/>
<path d="M786.8 186.1L788.3 186.3L789.3 186.4" stroke="#a8609f" stroke-width="6.6" fill="none" stroke-linecap="round"/>
<path d="M324.8 190.9V234.3M787.8 186.4V229.3" stroke="#a8609f" stroke-width="5.6" stroke-linecap="round" fill="none"/>
<path d="M1337.6 188.7V228.7M1350.9 204.5V223.6M1377.5 194.2V228.1M1390.8 182.6V225.9M1404 181.8V213.4M1430.6 184.7V206.9M1443.9 180.9V222.1M1457.2 188.7V228.7M1470.5 204.5V223.6M1497.1 194.2V228.1M1510.4 182.6V225.9M1523.6 181.8V213.4M1550.2 184.7V206.9M1563.5 180.9V222.1M1576.8 188.7V228.7M1590.1 204.5V223.6M1616.7 194.2V228.1M1630 182.6V225.9M1643.2 181.8V213.4M1669.8 184.7V206.9M1683.1 180.9V222.1M1696.4 188.7V228.7M1709.7 204.5V223.6M1736.3 194.2V228.1M1749.6 182.6V225.9M1762.8 181.8V213.4M1789.4 184.7V206.9M1802.7 180.9V222.1" stroke="#a8609f" stroke-width="3" fill="none"/>
<path d="M1339.1 229.7L1340.6 229.5L1342.1 229.3L1343.6 228.8L1345.1 228.2L1346.6 227.5L1348.1 226.6L1349.6 225.6L1351.1 224.4L1352.6 223.1L1354.1 221.8L1355.6 220.3L1357.1 218.7L1358.6 217L1360.1 215.3L1361.6 213.4L1363.1 211.6L1364.6 209.7L1366.1 207.7L1367.6 205.8L1369.1 203.8L1370.6 201.8L1372.1 199.9L1373.6 198L1375.1 196.1L1376.6 194.3L1378.1 192.5L1379.6 190.8L1381.1 189.2L1382.6 187.7L1384.1 186.3L1385.6 185.1L1387.1 183.9L1388.6 182.9L1390.1 182L1391.6 181.2L1393.1 180.6L1394.6 180.2L1396.1 179.9L1397.6 179.7" stroke="#a8609f" stroke-width="6.6" fill="none" stroke-linecap="round"/>
<path d="M1457.6 229.7L1459.1 229.7L1460.6 229.5L1462.1 229.2L1463.6 228.7L1465.1 228L1466.6 227.2L1468.1 226.3L1469.6 225.3L1471.1 224.1L1472.6 222.8L1474.1 221.4L1475.6 219.9L1477.1 218.2L1478.6 216.6L1480.1 214.8L1481.6 212.9L1483.1 211.1L1484.6 209.1L1486.1 207.2L1487.6 205.2L1489.1 203.3L1490.6 201.3L1492.1 199.4L1493.6 197.5L1495.1 195.6L1496.6 193.8L1498.1 192L1499.6 190.4L1501.1 188.8L1502.6 187.4L1504.1 186L1505.6 184.7L1507.1 183.6L1508.6 182.6L1510.1 181.8L1511.6 181.1L1513.1 180.5L1514.6 180.1L1516.1 179.8L1517.6 179.7" stroke="#a8609f" stroke-width="6.6" fill="none" stroke-linecap="round"/>
<path d="M1577.6 229.7L1579.1 229.6L1580.6 229.4L1582.1 229L1583.6 228.5L1585.1 227.8L1586.6 227L1588.1 226.1L1589.6 225L1591.1 223.8L1592.6 222.4L1594.1 221L1595.6 219.4L1597.1 217.8L1598.6 216.1L1600.1 214.3L1601.6 212.5L1603.1 210.6L1604.6 208.6L1606.1 206.7L1607.6 204.7L1609.1 202.7L1610.6 200.8L1612.1 198.8L1613.6 196.9L1615.1 195.1L1616.6 193.3L1618.1 191.6L1619.6 190L1621.1 188.4L1622.6 187L1624.1 185.6L1625.6 184.4L1627.1 183.3L1628.6 182.4L1630.1 181.6L1631.6 180.9L1633.1 180.4L1634.6 180L1636.1 179.8L1637.6 179.7" stroke="#a8609f" stroke-width="6.6" fill="none" stroke-linecap="round"/>
<path d="M1697.6 229.7L1699.1 229.6L1700.6 229.3L1702.1 228.9L1703.6 228.3L1705.1 227.6L1706.6 226.8L1708.1 225.8L1709.6 224.7L1711.1 223.4L1712.6 222L1714.1 220.6L1715.6 219L1717.1 217.4L1718.6 215.6L1720.1 213.8L1721.6 211.9L1723.1 210L1724.6 208.1L1726.1 206.1L1727.6 204.2L1729.1 202.2L1730.6 200.3L1732.1 198.3L1733.6 196.5L1735.1 194.6L1736.6 192.8L1738.1 191.2L1739.6 189.5L1741.1 188L1742.6 186.6L1744.1 185.3L1745.6 184.1L1747.1 183.1L1748.6 182.2L1750.1 181.4L1751.6 180.7L1753.1 180.2L1754.6 179.9L1756.1 179.7L1757.6 179.7" stroke="#a8609f" stroke-width="6.6" fill="none" stroke-linecap="round"/>
<path d="M1381.1 229.7L1382.6 229.7L1384.1 229.5L1385.6 229.2L1387.1 228.7L1388.6 228.1L1390.1 227.3L1391.6 226.4L1393.1 225.3L1394.6 224.2L1396.1 222.9L1397.6 221.5L1399.1 220L1400.6 218.4L1402.1 216.7L1403.6 214.9L1405.1 213.1L1406.6 211.2L1408.1 209.3L1409.6 207.3L1411.1 205.4L1412.6 203.4L1414.1 201.4L1415.6 199.5L1417.1 197.6L1418.6 195.7L1420.1 193.9L1421.6 192.2L1423.1 190.5L1424.6 188.9L1426.1 187.4L1427.6 186.1L1429.1 184.8L1430.6 183.7L1432.1 182.7L1433.6 181.8L1435.1 181.1L1436.6 180.5L1438.1 180.1L1439.6 179.8L1441.1 179.7" stroke="#a8609f" stroke-width="6.6" fill="none" stroke-linecap="round"/>
<path d="M1501.1 229.7L1502.6 229.6L1504.1 229.4L1505.6 229.1L1507.1 228.5L1508.6 227.9L1510.1 227.1L1511.6 226.1L1513.1 225L1514.6 223.8L1516.1 222.5L1517.6 221.1L1519.1 219.5L1520.6 217.9L1522.1 216.2L1523.6 214.4L1525.1 212.6L1526.6 210.7L1528.1 208.8L1529.6 206.8L1531.1 204.8L1532.6 202.9L1534.1 200.9L1535.6 199L1537.1 197.1L1538.6 195.2L1540.1 193.4L1541.6 191.7L1543.1 190.1L1544.6 188.5L1546.1 187.1L1547.6 185.7L1549.1 184.5L1550.6 183.4L1552.1 182.4L1553.6 181.6L1555.1 180.9L1556.6 180.4L1558.1 180L1559.6 179.8L1561.1 179.7" stroke="#a8609f" stroke-width="6.6" fill="none" stroke-linecap="round"/>
<path d="M1621.1 229.7L1622.6 229.6L1624.1 229.3L1625.6 228.9L1627.1 228.4L1628.6 227.7L1630.1 226.8L1631.6 225.9L1633.1 224.7L1634.6 223.5L1636.1 222.1L1637.6 220.7L1639.1 219.1L1640.6 217.5L1642.1 215.7L1643.6 213.9L1645.1 212.1L1646.6 210.2L1648.1 208.2L1649.6 206.3L1651.1 204.3L1652.6 202.3L1654.1 200.4L1655.6 198.5L1657.1 196.6L1658.6 194.7L1660.1 193L1661.6 191.3L1663.1 189.6L1664.6 188.1L1666.1 186.7L1667.6 185.4L1669.1 184.2L1670.6 183.1L1672.1 182.2L1673.6 181.4L1675.1 180.8L1676.6 180.3L1678.1 179.9L1679.6 179.7L1681.1 179.7" stroke="#a8609f" stroke-width="6.6" fill="none" stroke-linecap="round"/>
<path d="M1741.1 229.7L1742.6 229.5L1744.1 229.3L1745.6 228.8L1747.1 228.2L1748.6 227.5L1750.1 226.6L1751.6 225.6L1753.1 224.4L1754.6 223.1L1756.1 221.8L1757.6 220.3L1759.1 218.7L1760.6 217L1762.1 215.3L1763.6 213.4L1765.1 211.6L1766.6 209.7L1768.1 207.7L1769.6 205.8L1771.1 203.8L1772.6 201.8L1774.1 199.9L1775.6 198L1777.1 196.1L1778.6 194.3L1780.1 192.5L1781.6 190.8L1783.1 189.2L1784.6 187.7L1786.1 186.3L1787.6 185.1L1789.1 183.9L1790.6 182.9L1792.1 182L1793.6 181.2L1795.1 180.6L1796.6 180.2L1798.1 179.9L1799.6 179.7" stroke="#a8609f" stroke-width="6.6" fill="none" stroke-linecap="round"/>
<path d="M1334.6 229.2L1336.1 229.5L1337.6 229.7" stroke="#e2e7fb" stroke-width="11.1" fill="none"/>
<path d="M1411.1 185.1L1412.6 186.4L1414.1 187.8L1415.6 189.3L1417.1 190.9L1418.6 192.6L1420.1 194.4L1421.6 196.2L1423.1 198.1L1424.6 200L1426.1 201.9L1427.6 203.9L1429.1 205.9L1430.6 207.8L1432.1 209.8L1433.6 211.7L1435.1 213.6L1436.6 215.4L1438.1 217.1L1439.6 218.8L1441.1 220.4L1442.6 221.9" stroke="#e2e7fb" stroke-width="11.1" fill="none"/>
<path d="M1531.1 185.5L1532.6 186.8L1534.1 188.2L1535.6 189.8L1537.1 191.4L1538.6 193.1L1540.1 194.9L1541.6 196.7L1543.1 198.6L1544.6 200.5L1546.1 202.5L1547.6 204.4L1549.1 206.4L1550.6 208.4L1552.1 210.3L1553.6 212.2L1555.1 214.1L1556.6 215.9L1558.1 217.6L1559.6 219.2L1561.1 220.8L1562.6 222.2" stroke="#e2e7fb" stroke-width="11.1" fill="none"/>
<path d="M1651.1 185.8L1652.6 187.2L1654.1 188.6L1655.6 190.2L1657.1 191.8L1658.6 193.5L1660.1 195.3L1661.6 197.2L1663.1 199.1L1664.6 201L1666.1 203L1667.6 205L1669.1 206.9L1670.6 208.9L1672.1 210.8L1673.6 212.7L1675.1 214.5L1676.6 216.3L1678.1 218L1679.6 219.6L1681.1 221.2L1682.6 222.6" stroke="#e2e7fb" stroke-width="11.1" fill="none"/>
<path d="M1768.1 183.8L1769.6 184.9L1771.1 186.2L1772.6 187.5L1774.1 189L1775.6 190.6L1777.1 192.3L1778.6 194L1780.1 195.8L1781.6 197.7L1783.1 199.6L1784.6 201.6L1786.1 203.5L1787.6 205.5L1789.1 207.5L1790.6 209.4L1792.1 211.3L1793.6 213.2" stroke="#e2e7fb" stroke-width="11.1" fill="none"/>
<path d="M1345.1 196.1L1346.6 198L1348.1 199.9L1349.6 201.8L1351.1 203.8L1352.6 205.8L1354.1 207.7L1355.6 209.7L1357.1 211.6L1358.6 213.4L1360.1 215.3L1361.6 217L1363.1 218.7L1364.6 220.3L1366.1 221.8L1367.6 223.1L1369.1 224.4" stroke="#e2e7fb" stroke-width="11.1" fill="none"/>
<path d="M1454.6 185.4L1456.1 186.7L1457.6 188.1L1459.1 189.6L1460.6 191.3L1462.1 193L1463.6 194.7L1465.1 196.6L1466.6 198.5L1468.1 200.4L1469.6 202.3L1471.1 204.3L1472.6 206.3L1474.1 208.2L1475.6 210.2L1477.1 212.1L1478.6 213.9L1480.1 215.7L1481.6 217.5L1483.1 219.1L1484.6 220.7L1486.1 222.1" stroke="#e2e7fb" stroke-width="11.1" fill="none"/>
<path d="M1574.6 185.7L1576.1 187.1L1577.6 188.5L1579.1 190.1L1580.6 191.7L1582.1 193.4L1583.6 195.2L1585.1 197.1L1586.6 199L1588.1 200.9L1589.6 202.9L1591.1 204.8L1592.6 206.8L1594.1 208.8L1595.6 210.7L1597.1 212.6L1598.6 214.4L1600.1 216.2L1601.6 217.9L1603.1 219.5L1604.6 221.1L1606.1 222.5" stroke="#e2e7fb" stroke-width="11.1" fill="none"/>
<path d="M1694.6 186.1L1696.1 187.4L1697.6 188.9L1699.1 190.5L1700.6 192.2L1702.1 193.9L1703.6 195.7L1705.1 197.6L1706.6 199.5L1708.1 201.4L1709.6 203.4L1711.1 205.4L1712.6 207.3L1714.1 209.3L1715.6 211.2L1717.1 213.1L1718.6 214.9L1720.1 216.7L1721.6 218.4L1723.1 220L1724.6 221.5L1726.1 222.9" stroke="#e2e7fb" stroke-width="11.1" fill="none"/>
<path d="M1801.1 179.7L1802.6 179.9" stroke="#e2e7fb" stroke-width="11.1" fill="none"/>
<path d="M1334.6 229.2L1336.1 229.5L1337.6 229.7L1339.1 229.7" stroke="#a8609f" stroke-width="6.6" fill="none" stroke-linecap="round"/>
<path d="M1397.6 179.7L1399.1 179.7L1400.6 179.9L1402.1 180.2L1403.6 180.7L1405.1 181.3L1406.6 182L1408.1 182.9L1409.6 184L1411.1 185.1L1412.6 186.4L1414.1 187.8L1415.6 189.3L1417.1 190.9L1418.6 192.6L1420.1 194.4L1421.6 196.2L1423.1 198.1L1424.6 200L1426.1 201.9L1427.6 203.9L1429.1 205.9L1430.6 207.8L1432.1 209.8L1433.6 211.7L1435.1 213.6L1436.6 215.4L1438.1 217.1L1439.6 218.8L1441.1 220.4L1442.6 221.9L1444.1 223.2L1445.6 224.5L1447.1 225.6L1448.6 226.7L1450.1 227.5L1451.6 228.3L1453.1 228.8L1454.6 229.3L1456.1 229.6L1457.6 229.7" stroke="#a8609f" stroke-width="6.6" fill="none" stroke-linecap="round"/>
<path d="M1517.6 179.7L1519.1 179.7L1520.6 180L1522.1 180.3L1523.6 180.8L1525.1 181.5L1526.6 182.3L1528.1 183.2L1529.6 184.3L1531.1 185.5L1532.6 186.8L1534.1 188.2L1535.6 189.8L1537.1 191.4L1538.6 193.1L1540.1 194.9L1541.6 196.7L1543.1 198.6L1544.6 200.5L1546.1 202.5L1547.6 204.4L1549.1 206.4L1550.6 208.4L1552.1 210.3L1553.6 212.2L1555.1 214.1L1556.6 215.9L1558.1 217.6L1559.6 219.2L1561.1 220.8L1562.6 222.2L1564.1 223.6L1565.6 224.8L1567.1 225.9L1568.6 226.9L1570.1 227.7L1571.6 228.4L1573.1 229L1574.6 229.4L1576.1 229.6L1577.6 229.7" stroke="#a8609f" stroke-width="6.6" fill="none" stroke-linecap="round"/>
<path d="M1637.6 179.7L1639.1 179.8L1640.6 180L1642.1 180.4L1643.6 181L1645.1 181.7L1646.6 182.5L1648.1 183.5L1649.6 184.6L1651.1 185.8L1652.6 187.2L1654.1 188.6L1655.6 190.2L1657.1 191.8L1658.6 193.5L1660.1 195.3L1661.6 197.2L1663.1 199.1L1664.6 201L1666.1 203L1667.6 205L1669.1 206.9L1670.6 208.9L1672.1 210.8L1673.6 212.7L1675.1 214.5L1676.6 216.3L1678.1 218L1679.6 219.6L1681.1 221.2L1682.6 222.6L1684.1 223.9L1685.6 225.1L1687.1 226.2L1688.6 227.1L1690.1 227.9L1691.6 228.6L1693.1 229.1L1694.6 229.4L1696.1 229.7L1697.6 229.7" stroke="#a8609f" stroke-width="6.6" fill="none" stroke-linecap="round"/>
<path d="M1757.6 179.7L1759.1 179.8L1760.6 180.1L1762.1 180.6L1763.6 181.1L1765.1 181.9L1766.6 182.7L1768.1 183.8L1769.6 184.9L1771.1 186.2L1772.6 187.5L1774.1 189L1775.6 190.6L1777.1 192.3L1778.6 194L1780.1 195.8L1781.6 197.7L1783.1 199.6L1784.6 201.6L1786.1 203.5L1787.6 205.5L1789.1 207.5L1790.6 209.4L1792.1 211.3L1793.6 213.2L1795.1 215L1796.6 216.8L1798.1 218.5L1799.6 220.1L1801.1 221.6L1802.6 223L1804.1 224.3L1804.6 224.7" stroke="#a8609f" stroke-width="6.6" fill="none" stroke-linecap="round"/>
<path d="M1334.6 185.1L1336.1 186.3L1337.6 187.7L1339.1 189.2L1340.6 190.8L1342.1 192.5L1343.6 194.3L1345.1 196.1L1346.6 198L1348.1 199.9L1349.6 201.8L1351.1 203.8L1352.6 205.8L1354.1 207.7L1355.6 209.7L1357.1 211.6L1358.6 213.4L1360.1 215.3L1361.6 217L1363.1 218.7L1364.6 220.3L1366.1 221.8L1367.6 223.1L1369.1 224.4L1370.6 225.6L1372.1 226.6L1373.6 227.5L1375.1 228.2L1376.6 228.8L1378.1 229.3L1379.6 229.5L1381.1 229.7" stroke="#a8609f" stroke-width="6.6" fill="none" stroke-linecap="round"/>
<path d="M1441.1 179.7L1442.6 179.7L1444.1 179.9L1445.6 180.3L1447.1 180.8L1448.6 181.4L1450.1 182.2L1451.6 183.1L1453.1 184.2L1454.6 185.4L1456.1 186.7L1457.6 188.1L1459.1 189.6L1460.6 191.3L1462.1 193L1463.6 194.7L1465.1 196.6L1466.6 198.5L1468.1 200.4L1469.6 202.3L1471.1 204.3L1472.6 206.3L1474.1 208.2L1475.6 210.2L1477.1 212.1L1478.6 213.9L1480.1 215.7L1481.6 217.5L1483.1 219.1L1484.6 220.7L1486.1 222.1L1487.6 223.5L1489.1 224.7L1490.6 225.9L1492.1 226.8L1493.6 227.7L1495.1 228.4L1496.6 228.9L1498.1 229.3L1499.6 229.6L1501.1 229.7" stroke="#a8609f" stroke-width="6.6" fill="none" stroke-linecap="round"/>
<path d="M1561.1 179.7L1562.6 179.8L1564.1 180L1565.6 180.4L1567.1 180.9L1568.6 181.6L1570.1 182.4L1571.6 183.4L1573.1 184.5L1574.6 185.7L1576.1 187.1L1577.6 188.5L1579.1 190.1L1580.6 191.7L1582.1 193.4L1583.6 195.2L1585.1 197.1L1586.6 199L1588.1 200.9L1589.6 202.9L1591.1 204.8L1592.6 206.8L1594.1 208.8L1595.6 210.7L1597.1 212.6L1598.6 214.4L1600.1 216.2L1601.6 217.9L1603.1 219.5L1604.6 221.1L1606.1 222.5L1607.6 223.8L1609.1 225L1610.6 226.1L1612.1 227.1L1613.6 227.9L1615.1 228.5L1616.6 229.1L1618.1 229.4L1619.6 229.6L1621.1 229.7" stroke="#a8609f" stroke-width="6.6" fill="none" stroke-linecap="round"/>
<path d="M1681.1 179.7L1682.6 179.8L1684.1 180.1L1685.6 180.5L1687.1 181.1L1688.6 181.8L1690.1 182.7L1691.6 183.7L1693.1 184.8L1694.6 186.1L1696.1 187.4L1697.6 188.9L1699.1 190.5L1700.6 192.2L1702.1 193.9L1703.6 195.7L1705.1 197.6L1706.6 199.5L1708.1 201.4L1709.6 203.4L1711.1 205.4L1712.6 207.3L1714.1 209.3L1715.6 211.2L1717.1 213.1L1718.6 214.9L1720.1 216.7L1721.6 218.4L1723.1 220L1724.6 221.5L1726.1 222.9L1727.6 224.2L1729.1 225.3L1730.6 226.4L1732.1 227.3L1733.6 228.1L1735.1 228.7L1736.6 229.2L1738.1 229.5L1739.6 229.7L1741.1 229.7" stroke="#a8609f" stroke-width="6.6" fill="none" stroke-linecap="round"/>
<path d="M1799.6 179.7L1801.1 179.7L1802.6 179.9L1804.1 180.2L1804.6 180.3" stroke="#a8609f" stroke-width="6.6" fill="none" stroke-linecap="round"/>
<path d="M1336.1 185.1V229.2M1803.1 180.3V224.7" stroke="#a8609f" stroke-width="5.6" stroke-linecap="round" fill="none"/>
<rect x="1429" y="108.2" width="235.8" height="69.4" fill="none" stroke="#0e0e10" stroke-width="3.7" stroke-dasharray="13.2 5.6" stroke-dashoffset="5"/>
<text x="1444.4" y="133.2" font-size="32.3" font-weight="bold" fill="#1a1a1c" text-anchor="start" textLength="206.7" lengthAdjust="spacingAndGlyphs" >Transcription</text>
<text x="1440.1" y="171" font-size="32.3" font-weight="bold" fill="#1a1a1c" text-anchor="start" textLength="214.9" lengthAdjust="spacingAndGlyphs" >enhancement</text>
<path d="M1343 181V148H1414" fill="none" stroke="#3a3b3d" stroke-width="3.6" stroke-dasharray="10.5 6.2"/>
<path d="M1429.5 148L1415.5 134V162Z" fill="#3a3b3d"/>
<line x1="394.3" y1="254.5" x2="394.3" y2="336.5" stroke="#323438" stroke-width="3.7" />
<path d="M394.3 353L385.4 335.5L403.2 335.5Z" fill="#323438"/>
<line x1="671.2" y1="253.5" x2="671.2" y2="334.3" stroke="#323438" stroke-width="3.7" />
<path d="M671.2 350.8L662.3 333.3L680.1 333.3Z" fill="#323438"/>
<line x1="1383.7" y1="254.5" x2="1383.7" y2="335.5" stroke="#323438" stroke-width="3.7" />
<path d="M1383.7 352L1374.8 334.5L1392.6 334.5Z" fill="#323438"/>
<line x1="1661.3" y1="253.5" x2="1661.3" y2="334.3" stroke="#323438" stroke-width="3.7" />
<path d="M1661.3 350.8L1652.4 333.3L1670.2 333.3Z" fill="#323438"/>
<line x1="394" y1="527" x2="394" y2="642" stroke="#323438" stroke-width="3.7" />
<path d="M394 658.5L385.1 641L402.9 641Z" fill="#323438"/>
<line x1="667.8" y1="527" x2="667.8" y2="642" stroke="#323438" stroke-width="3.7" />
<path d="M667.8 658.5L658.9 641L676.7 641Z" fill="#323438"/>
<line x1="1384" y1="527" x2="1384" y2="642" stroke="#323438" stroke-width="3.7" />
<path d="M1384 658.5L1375.1 641L1392.9 641Z" fill="#323438"/>
<line x1="1664.6" y1="527" x2="1664.6" y2="642" stroke="#323438" stroke-width="3.7" />
<path d="M1664.6 658.5L1655.7 641L1673.5 641Z" fill="#323438"/>
<path d="M262.1 399.3L254.3 413.3M274.1 406L266.7 420.2M286.8 411.3L281.8 426.5M300 414.8L297.1 430.5M313.7 415.9L314.4 431.9M327.3 414.1L330.5 429.8M340.6 410.8L345.3 426M353.4 406L359.5 420.8M366.2 401L371.6 416.1M379.1 396.3L384.5 411.4M392.2 392.2L396.3 407.6M405.7 389.3L408.5 405M419.3 387.6L420.2 403.6M433 387.7L432.2 403.7M446.6 389.4L443.5 405M459.7 393.5L453.1 408.1M471.8 400L463.6 413.8M483.4 407.2L474.9 420.8" stroke="#a8629f" stroke-width="3.5" fill="none"/>
<path d="M260.4 398.4C264.2 400.3 274.7 407.1 283 410C291.3 412.9 300.8 415.6 310 415.9C319.2 416.1 328.8 413.9 338 411.5C347.2 409.1 355.8 404.6 365.3 401.3C374.8 398 385.1 393.8 395 391.5C404.9 389.2 414.8 387.4 425 387.5C435.2 387.6 445.3 388.1 456 392C466.7 395.9 483.7 407.7 489.2 410.8" stroke="#8f3a88" stroke-width="4.1" fill="none" stroke-linecap="butt"/>
<path d="M1275.1 399.3L1267.3 413.3M1287.1 406L1279.7 420.2M1299.8 411.3L1294.8 426.5M1313 414.8L1310.1 430.5M1326.7 415.9L1327.4 431.9M1340.3 414.1L1343.5 429.8M1353.6 410.8L1358.3 426M1366.4 406L1372.5 420.8M1379.2 401L1384.6 416.1M1392.1 396.3L1397.5 411.4M1405.2 392.2L1409.3 407.6M1418.7 389.3L1421.5 405M1432.3 387.6L1433.2 403.6M1446 387.7L1445.2 403.7M1459.6 389.4L1456.5 405M1472.7 393.5L1466.1 408.1M1484.8 400L1476.6 413.8M1496.4 407.2L1487.9 420.8" stroke="#a8629f" stroke-width="3.5" fill="none"/>
<path d="M1273.4 398.4C1277.2 400.3 1287.7 407.1 1296 410C1304.3 412.9 1313.8 415.6 1323 415.9C1332.2 416.1 1341.8 413.9 1351 411.5C1360.2 409.1 1368.8 404.6 1378.3 401.3C1387.8 398 1398 393.8 1408 391.5C1418 389.2 1427.8 387.4 1438 387.5C1448.2 387.6 1458.3 388.1 1469 392C1479.7 395.9 1496.7 407.7 1502.2 410.8" stroke="#8f3a88" stroke-width="4.1" fill="none" stroke-linecap="butt"/>
<text x="259.6" y="467.6" font-size="33" font-weight="bold" fill="#1a1a1c" text-anchor="start" textLength="218.8" lengthAdjust="spacingAndGlyphs" >CPR25 mRNA</text>
<text x="1275.7" y="467.8" font-size="33" font-weight="bold" fill="#1a1a1c" text-anchor="start" textLength="219" lengthAdjust="spacingAndGlyphs" >CPR25 mRNA</text>
<path d="M1223.7 360.1L1224.7 364M1226.7 359.4L1227.6 363.3M1229.8 358.6L1230.8 362.5M1232.8 357.7L1234.1 361.5M1235.7 356.6L1237.4 360.2M1238.4 355L1240.7 358.3M1240.7 353L1243.5 355.8M1242.8 350.6L1245.9 353.2M1244.8 348.2L1247.9 350.6M1246.6 345.7L1249.8 348.1M1248.5 343.2L1251.7 345.7M1250.6 340.8L1253.6 343.5M1252.6 338.5L1255.7 341.1M1254.7 336.1L1257.6 338.9M1257 334L1259.5 337.1M1259.6 332.3L1261.5 335.8M1262.4 331L1263.9 334.7M1265.4 329.9L1266.7 333.7M1268.3 328.9L1269.6 332.8M1271.3 328L1272.6 331.8" stroke="#b472ab" stroke-width="1.1" fill="none"/>
<path d="M1222.5 360.4C1225.1 359.5 1233.4 358.4 1238 355.3C1242.6 352.2 1246.5 345.2 1250 341.5C1253.5 337.8 1255 335.1 1258.7 332.8C1262.5 330.5 1270.2 328.5 1272.5 327.6" stroke="#ad62a4" stroke-width="1.6" fill="none" stroke-linecap="butt"/>
<path d="M1297.9 334.9L1296.6 338.7M1300.6 335.8L1299.3 339.6M1303.3 336.8L1302.1 340.5M1306.1 337.6L1304.9 341.5M1308.8 338.3L1307.9 342.2M1311.6 338.8L1311.2 342.8M1314.5 338.9L1314.8 342.9M1317.3 338.4L1318.3 342.3M1320.1 337.6L1321.3 341.4M1322.8 336.7L1324.1 340.5M1325.6 335.8L1326.7 339.7M1328.3 334.9L1329.6 338.7M1330.9 333.9L1332.4 337.6M1333.6 332.9L1335 336.6M1336.4 332L1337.4 335.9M1339.2 331.5L1339.6 335.5M1342 331.4L1341.9 335.4M1344.9 331.7L1344.2 335.6M1347.7 332.4L1346.5 336.2M1350.3 333.5L1348.5 337.1M1352.8 334.9L1350.7 338.3M1355.2 336.4L1353.1 339.8" stroke="#b472ab" stroke-width="1.1" fill="none"/>
<path d="M1296.7 334.5C1299.3 335.2 1307.6 338.6 1312.3 338.9C1317 339.1 1320.7 337.2 1325 336C1329.3 334.8 1334.4 332.2 1338.2 331.6C1342 331 1345 331.6 1348 332.5C1351 333.4 1354.9 336.3 1356.3 337.1" stroke="#ad62a4" stroke-width="1.6" fill="none" stroke-linecap="butt"/>
<path d="M1265.1 367.5L1264.5 371.5M1268.1 368L1267.5 372M1271 368.4L1270.6 372.4M1274 368.6L1274 372.6M1277 368.3L1277.6 372.3M1279.8 367.5L1281.3 371.2M1282.5 366.3L1284.4 369.8M1285.2 364.8L1287.1 368.3M1287.7 363.3L1289.7 366.8M1290.3 361.9L1292.2 365.4M1293 360.5L1294.6 364.2M1295.7 359.3L1297.4 363M1298.4 358.1L1300.1 361.8M1301.2 357L1302.7 360.7M1304 355.9L1305.2 359.8M1306.9 355.2L1307.7 359.1M1309.8 354.9L1309.9 358.9M1312.8 355.1L1312.1 359.1M1315.7 355.8L1314.7 359.7M1318.6 356.6L1317.3 360.4M1321.4 357.6L1320.2 361.4" stroke="#b472ab" stroke-width="1.1" fill="none"/>
<path d="M1263.9 367.4C1266.2 367.5 1272.8 369.4 1277.7 368.2C1282.6 367 1288.1 362.6 1293.3 360.4C1298.5 358.2 1303.9 355.3 1308.8 354.9C1313.7 354.5 1320.3 357.4 1322.6 357.9" stroke="#ad62a4" stroke-width="1.6" fill="none" stroke-linecap="butt"/>
<path d="M667.9 366.3L667.9 353.1M678.2 367.2L680.4 354.1M688.3 369.7L692.6 357.2M697.8 373.9L704.1 362.3M706.5 379.5L714.6 369.1M714.1 386.6L723.8 377.6M720.5 394.8L731.5 387.5M725.4 403.9L737.5 398.6M728.8 413.7L741.6 410.4M730.5 423.9L743.6 422.8M730.5 434.3L743.6 435.4M728.8 444.5L741.6 447.8M725.4 454.3L737.5 459.6M720.5 463.4L731.5 470.7M714.1 471.6L723.8 480.6M706.5 478.7L714.6 489.1M697.8 484.3L704.1 495.9M688.3 488.5L692.6 501M678.2 491L680.4 504.1M667.9 491.9L667.9 505.1M657.6 491L655.4 504.1M647.5 488.5L643.2 501M638 484.3L631.7 495.9M629.3 478.7L621.2 489.1M621.7 471.6L612 480.6M615.3 463.4L604.3 470.7M610.4 454.3L598.3 459.6M607 444.5L594.2 447.8M605.3 434.3L592.2 435.4M605.3 423.9L592.2 422.8M607 413.7L594.2 410.4M610.4 403.9L598.3 398.6M615.3 394.8L604.3 387.5M621.7 386.6L612 377.6M629.3 379.5L621.2 369.1M638 373.9L631.7 362.3M647.5 369.7L643.2 357.2M657.6 367.2L655.4 354.1" stroke="#c7621e" stroke-width="3.1" fill="none"/>
<circle cx="667.9" cy="429.1" r="60.6" stroke="#c7621e" stroke-width="5" fill="none"/>
<path d="M1665 364.7L1665 351.5M1675.3 365.6L1677.5 352.5M1685.4 368.1L1689.7 355.6M1694.9 372.3L1701.2 360.7M1703.6 377.9L1711.7 367.5M1711.2 385L1720.9 376M1717.6 393.2L1728.6 385.9M1722.5 402.3L1734.6 397M1725.9 412.1L1738.7 408.8M1727.6 422.3L1740.7 421.2M1727.6 432.7L1740.7 433.8M1725.9 442.9L1738.7 446.2M1722.5 452.7L1734.6 458M1717.6 461.8L1728.6 469.1M1711.2 470L1720.9 479M1703.6 477.1L1711.7 487.5M1694.9 482.7L1701.2 494.3M1685.4 486.9L1689.7 499.4M1675.3 489.4L1677.5 502.5M1665 490.3L1665 503.5M1654.7 489.4L1652.5 502.5M1644.6 486.9L1640.3 499.4M1635.1 482.7L1628.8 494.3M1626.4 477.1L1618.3 487.5M1618.8 470L1609.1 479M1612.4 461.8L1601.4 469.1M1607.5 452.7L1595.4 458M1604.1 442.9L1591.3 446.2M1602.4 432.7L1589.3 433.8M1602.4 422.3L1589.3 421.2M1604.1 412.1L1591.3 408.8M1607.5 402.3L1595.4 397M1612.4 393.2L1601.4 385.9M1618.8 385L1609.1 376M1626.4 377.9L1618.3 367.5M1635.1 372.3L1628.8 360.7M1644.6 368.1L1640.3 355.6M1654.7 365.6L1652.5 352.5" stroke="#c7621e" stroke-width="3.1" fill="none"/>
<circle cx="1665" cy="427.5" r="60.6" stroke="#c7621e" stroke-width="5" fill="none"/>
<text x="639.9" y="420.1" font-size="32" font-weight="bold" fill="#1a1a1c" text-anchor="start" textLength="59.1" lengthAdjust="spacingAndGlyphs" >circ</text>
<text x="616.1" y="458" font-size="32" font-weight="bold" fill="#1a1a1c" text-anchor="start" textLength="105.6" lengthAdjust="spacingAndGlyphs" >CPR25</text>
<text x="1634.3" y="418.3" font-size="32" font-weight="bold" fill="#1a1a1c" text-anchor="start" textLength="59.3" lengthAdjust="spacingAndGlyphs" >circ</text>
<text x="1610.7" y="455.6" font-size="32" font-weight="bold" fill="#1a1a1c" text-anchor="start" textLength="107.5" lengthAdjust="spacingAndGlyphs" >CPR25</text>
<path d="M1748.6 314.3L1748.6 309.4M1751.5 314.5L1752.2 309.7M1754.3 315.1L1755.7 310.4M1757 316.1L1759 311.7M1759.5 317.5L1762.2 313.4M1761.8 319.2L1765 315.5M1763.9 321.3L1767.6 318.1M1765.6 323.6L1769.7 320.9M1767 326.1L1771.4 324.1M1768 328.8L1772.7 327.4M1768.6 331.6L1773.4 330.9M1768.8 334.5L1773.7 334.5M1768.6 337.4L1773.4 338.1M1768 340.2L1772.7 341.6M1767 342.9L1771.4 344.9M1765.6 345.4L1769.7 348.1M1763.9 347.7L1767.6 350.9M1761.8 349.8L1765 353.5M1759.5 351.5L1762.2 355.6M1757 352.9L1759 357.3M1754.3 353.9L1755.7 358.6M1751.5 354.5L1752.2 359.3M1748.6 354.7L1748.6 359.6M1745.7 354.5L1745 359.3M1742.9 353.9L1741.5 358.6M1740.2 352.9L1738.2 357.3M1737.7 351.5L1735 355.6M1735.4 349.8L1732.2 353.5M1733.3 347.7L1729.6 350.9M1731.6 345.4L1727.5 348.1M1730.2 342.9L1725.8 344.9M1729.2 340.2L1724.5 341.6M1728.6 337.4L1723.8 338.1M1728.4 334.5L1723.5 334.5M1728.6 331.6L1723.8 330.9M1729.2 328.8L1724.5 327.4M1730.2 326.1L1725.8 324.1M1731.6 323.6L1727.5 320.9M1733.3 321.3L1729.6 318.1M1735.4 319.2L1732.2 315.5M1737.7 317.5L1735 313.4M1740.2 316.1L1738.2 311.7M1742.9 315.1L1741.5 310.4M1745.7 314.5L1745 309.7" stroke="#c8662a" stroke-width="1.3" fill="none"/>
<circle cx="1748.6" cy="334.5" r="19.7" stroke="#c8662a" stroke-width="1.6" fill="none"/>
<path d="M1817.4 331.3L1817.4 326.4M1820.3 331.5L1821 326.7M1823.1 332.1L1824.5 327.4M1825.8 333.1L1827.8 328.7M1828.3 334.5L1831 330.4M1830.6 336.2L1833.8 332.5M1832.7 338.3L1836.4 335.1M1834.4 340.6L1838.5 337.9M1835.8 343.1L1840.2 341.1M1836.8 345.8L1841.5 344.4M1837.4 348.6L1842.2 347.9M1837.6 351.5L1842.5 351.5M1837.4 354.4L1842.2 355.1M1836.8 357.2L1841.5 358.6M1835.8 359.9L1840.2 361.9M1834.4 362.4L1838.5 365.1M1832.7 364.7L1836.4 367.9M1830.6 366.8L1833.8 370.5M1828.3 368.5L1831 372.6M1825.8 369.9L1827.8 374.3M1823.1 370.9L1824.5 375.6M1820.3 371.5L1821 376.3M1817.4 371.7L1817.4 376.6M1814.5 371.5L1813.8 376.3M1811.7 370.9L1810.3 375.6M1809 369.9L1807 374.3M1806.5 368.5L1803.8 372.6M1804.2 366.8L1801 370.5M1802.1 364.7L1798.4 367.9M1800.4 362.4L1796.3 365.1M1799 359.9L1794.6 361.9M1798 357.2L1793.3 358.6M1797.4 354.4L1792.6 355.1M1797.2 351.5L1792.3 351.5M1797.4 348.6L1792.6 347.9M1798 345.8L1793.3 344.4M1799 343.1L1794.6 341.1M1800.4 340.6L1796.3 337.9M1802.1 338.3L1798.4 335.1M1804.2 336.2L1801 332.5M1806.5 334.5L1803.8 330.4M1809 333.1L1807 328.7M1811.7 332.1L1810.3 327.4M1814.5 331.5L1813.8 326.7" stroke="#c8662a" stroke-width="1.3" fill="none"/>
<circle cx="1817.4" cy="351.5" r="19.7" stroke="#c8662a" stroke-width="1.6" fill="none"/>
<path d="M1776.1 368.6L1776.1 363.7M1779 368.8L1779.7 364M1781.8 369.4L1783.2 364.7M1784.5 370.4L1786.5 366M1787 371.8L1789.7 367.7M1789.3 373.5L1792.5 369.8M1791.4 375.6L1795.1 372.4M1793.1 377.9L1797.2 375.2M1794.5 380.4L1798.9 378.4M1795.5 383.1L1800.2 381.7M1796.1 385.9L1800.9 385.2M1796.3 388.8L1801.2 388.8M1796.1 391.7L1800.9 392.4M1795.5 394.5L1800.2 395.9M1794.5 397.2L1798.9 399.2M1793.1 399.7L1797.2 402.4M1791.4 402L1795.1 405.2M1789.3 404.1L1792.5 407.8M1787 405.8L1789.7 409.9M1784.5 407.2L1786.5 411.6M1781.8 408.2L1783.2 412.9M1779 408.8L1779.7 413.6M1776.1 409L1776.1 413.9M1773.2 408.8L1772.5 413.6M1770.4 408.2L1769 412.9M1767.7 407.2L1765.7 411.6M1765.2 405.8L1762.5 409.9M1762.9 404.1L1759.7 407.8M1760.8 402L1757.1 405.2M1759.1 399.7L1755 402.4M1757.7 397.2L1753.3 399.2M1756.7 394.5L1752 395.9M1756.1 391.7L1751.3 392.4M1755.9 388.8L1751 388.8M1756.1 385.9L1751.3 385.2M1756.7 383.1L1752 381.7M1757.7 380.4L1753.3 378.4M1759.1 377.9L1755 375.2M1760.8 375.6L1757.1 372.4M1762.9 373.5L1759.7 369.8M1765.2 371.8L1762.5 367.7M1767.7 370.4L1765.7 366M1770.4 369.4L1769 364.7M1773.2 368.8L1772.5 364" stroke="#c8662a" stroke-width="1.3" fill="none"/>
<circle cx="1776.1" cy="388.8" r="19.7" stroke="#c8662a" stroke-width="1.6" fill="none"/>
<text x="800.8" y="556.8" font-size="37.5" font-weight="bold" fill="#393b40" text-anchor="start" textLength="196" lengthAdjust="spacingAndGlyphs" >Cytoplasm</text>
<text x="1814.8" y="557.3" font-size="37.5" font-weight="bold" fill="#393b40" text-anchor="start" textLength="195.5" lengthAdjust="spacingAndGlyphs" >Cytoplasm</text>
<path d="M266.1 771.9C266.4 768.9 268.7 768.2 270.9 767.6C273.1 767 276.7 767.7 279.5 768.4C282.4 769.2 285.3 770.5 288.2 771.9C291 773.3 293.6 775.6 296.8 777.1C300 778.5 303.4 780.5 307.2 780.5C310.9 780.5 314.9 778.5 319.3 777.1C323.6 775.6 328.2 773.3 333.1 771.9C338 770.5 343.7 768.9 348.6 768.4C353.5 768 358.5 768.2 362.4 769.3C366.3 770.5 370.1 772.9 371.9 775.4C373.8 777.8 373.8 780.8 373.7 784C373.5 787.2 372.9 791.3 371.1 794.4C369.2 797.4 366.2 800.7 362.4 802.1C358.7 803.6 352.9 802.6 348.6 803C344.3 803.4 340.8 803.6 336.5 804.7C332.2 805.9 327.9 808.6 322.7 809.9C317.5 811.2 310.6 812.6 305.4 812.5C300.3 812.3 295.7 810.5 291.6 809C287.6 807.6 284.1 806 281.3 803.9C278.4 801.7 276.4 799.1 274.4 796.1C272.3 793.1 270.6 789.7 269.2 785.7C267.8 781.7 265.8 774.9 266.1 771.9Z" fill="#dcddde" stroke="#a6a7a8" stroke-width="1.1"/>
<path d="M264 752.9C265 750.3 268 745.7 270.9 742.5C273.8 739.4 276.9 736.8 281.3 733.9C285.6 731 291.9 728.7 296.8 725.3C301.7 721.8 306.3 716.1 310.6 713.2C314.9 710.3 318.4 709.1 322.7 708C327 706.9 331.9 706.2 336.5 706.6C341.1 707 346.5 708.5 350.3 710.6C354.2 712.7 357.6 715.5 359.8 719.2C362.1 723 362.2 729.2 363.8 733C365.4 736.9 368.1 739.5 369.3 742.5C370.6 745.6 371.4 748 371.1 751.2C370.8 754.3 369.9 758.7 367.6 761.5C365.3 764.4 361.9 766.7 357.3 768.4C352.6 770.2 345.7 770.9 340 771.9C334.2 772.9 327.6 773.8 322.7 774.5C317.8 775.2 314.4 776.4 310.6 776.2C306.9 776.1 303.4 774.8 300.3 773.6C297.1 772.5 294.8 770.5 291.6 769.3C288.5 768.2 284.7 767.7 281.3 766.7C277.8 765.7 273.6 764.7 270.9 763.3C268.2 761.8 266 759.8 264.9 758.1C263.7 756.4 263 755.5 264 752.9Z" fill="#dcddde" stroke="#a6a7a8" stroke-width="1.1"/>
<path d="M176.1 778.2L183.2 765M190.3 785.5L196.7 771.9M205.2 791.3L209.8 777M220.6 795.5L223.9 780.8M236.4 797.8L237.4 782.8M252.3 796.9L250.1 782.1M268 793.9L265 779.2M283.5 790.2L279.6 775.8M298.9 785.9L294.7 771.4M314.2 781.4L309.8 767.1M329.5 776.7L325.3 762.3M345 772.9L341.8 758.2M360.7 769.9L358.5 755M376.6 768.6L376.5 753.6M392.5 769.4L394.2 754.5M408.3 772.1L411.7 757.5M423.3 777.5L429.5 763.8M437.6 784.5L444.3 771" stroke="#a5599e" stroke-width="3.7" fill="none"/>
<path d="M167.3 773.6C172.8 776.2 188.5 785.5 200 789.5C211.5 793.5 224.7 797.1 236.4 797.8C248.1 798.5 258.5 795.8 270 793.5C281.5 791.2 293.7 787.2 305.4 784C317.1 780.8 328.5 776.6 340 774C351.5 771.4 362.8 768.9 374.5 768.6C386.2 768.4 399.1 769.6 410 772.5C420.9 775.4 435.2 783.5 440.2 785.7" stroke="#8f3a89" stroke-width="4.5" fill="none" stroke-linecap="butt"/>
<path d="M365 726C365.3 724.8 365.7 721.5 367 719C368.3 716.5 371 714.3 372.8 711.1C374.6 707.9 376.6 703.7 378 700C379.4 696.3 379.2 692 381.4 688.7C383.6 685.5 387.4 680.7 391 680.5C394.6 680.3 399.5 684.7 403 687.3C406.5 689.9 408.6 693.8 412 696C415.4 698.2 419.9 699.5 423.7 700.7C427.5 702 431.4 704 435 703.5C438.6 703 443.6 698.6 445.3 697.6" fill="none" stroke="#9c3a84" stroke-width="1.5"/>
<circle cx="372.8" cy="711.1" r="5.6" fill="#c2429b" stroke="#a5388a" stroke-width="0.9"/>
<circle cx="381.4" cy="688.7" r="5.6" fill="#c2429b" stroke="#a5388a" stroke-width="0.9"/>
<circle cx="403" cy="687.3" r="5.6" fill="#c2429b" stroke="#a5388a" stroke-width="0.9"/>
<circle cx="423.7" cy="700.7" r="5.6" fill="#c2429b" stroke="#a5388a" stroke-width="0.9"/>
<circle cx="445.3" cy="697.6" r="5.6" fill="#c2429b" stroke="#a5388a" stroke-width="0.9"/>
<path d="M1256.3 771.9C1256.6 768.9 1258.9 768.2 1261.1 767.6C1263.3 767 1266.9 767.7 1269.7 768.4C1272.6 769.2 1275.5 770.5 1278.4 771.9C1281.2 773.3 1283.8 775.6 1287 777.1C1290.2 778.5 1293.6 780.5 1297.4 780.5C1301.1 780.5 1305.1 778.5 1309.5 777.1C1313.8 775.6 1318.4 773.3 1323.3 771.9C1328.2 770.5 1333.9 768.9 1338.8 768.4C1343.7 768 1348.7 768.2 1352.6 769.3C1356.5 770.5 1360.3 772.9 1362.1 775.4C1364 777.8 1364 780.8 1363.9 784C1363.7 787.2 1363.1 791.3 1361.3 794.4C1359.4 797.4 1356.4 800.7 1352.6 802.1C1348.9 803.6 1343.1 802.6 1338.8 803C1334.5 803.4 1331 803.6 1326.7 804.7C1322.4 805.9 1318.1 808.6 1312.9 809.9C1307.7 811.2 1300.8 812.6 1295.6 812.5C1290.5 812.3 1285.9 810.5 1281.8 809C1277.8 807.6 1274.3 806 1271.5 803.9C1268.6 801.7 1266.6 799.1 1264.6 796.1C1262.5 793.1 1260.8 789.7 1259.4 785.7C1258 781.7 1256 774.9 1256.3 771.9Z" fill="#dcddde" stroke="#a6a7a8" stroke-width="1.1"/>
<path d="M1254.2 752.9C1255.2 750.3 1258.2 745.7 1261.1 742.5C1264 739.4 1267.1 736.8 1271.5 733.9C1275.8 731 1282.1 728.7 1287 725.3C1291.9 721.8 1296.5 716.1 1300.8 713.2C1305.1 710.3 1308.6 709.1 1312.9 708C1317.2 706.9 1322.1 706.2 1326.7 706.6C1331.3 707 1336.7 708.5 1340.5 710.6C1344.4 712.7 1347.8 715.5 1350 719.2C1352.3 723 1352.4 729.2 1354 733C1355.6 736.9 1358.3 739.5 1359.5 742.5C1360.8 745.6 1361.6 748 1361.3 751.2C1361 754.3 1360.1 758.7 1357.8 761.5C1355.5 764.4 1352.1 766.7 1347.5 768.4C1342.8 770.2 1335.9 770.9 1330.2 771.9C1324.4 772.9 1317.8 773.8 1312.9 774.5C1308 775.2 1304.6 776.4 1300.8 776.2C1297.1 776.1 1293.6 774.8 1290.5 773.6C1287.3 772.5 1285 770.5 1281.8 769.3C1278.7 768.2 1274.9 767.7 1271.5 766.7C1268 765.7 1263.8 764.7 1261.1 763.3C1258.4 761.8 1256.2 759.8 1255.1 758.1C1253.9 756.4 1253.2 755.5 1254.2 752.9Z" fill="#dcddde" stroke="#a6a7a8" stroke-width="1.1"/>
<path d="M1166.3 778.2L1173.4 765M1180.5 785.5L1186.9 771.9M1195.4 791.3L1200 777M1210.8 795.5L1214.1 780.8M1226.6 797.8L1227.6 782.8M1242.5 796.9L1240.3 782.1M1258.2 793.9L1255.2 779.2M1273.7 790.2L1269.8 775.8M1289.1 785.9L1284.9 771.4M1304.4 781.4L1300 767.1M1319.7 776.7L1315.5 762.3M1335.2 772.9L1332 758.2M1350.9 769.9L1348.7 755M1366.8 768.6L1366.7 753.6M1382.7 769.4L1384.4 754.5M1398.5 772.1L1401.9 757.5M1413.5 777.5L1419.7 763.8M1427.8 784.5L1434.5 771" stroke="#a5599e" stroke-width="3.7" fill="none"/>
<path d="M1157.5 773.6C1163 776.2 1178.7 785.5 1190.2 789.5C1201.7 793.5 1214.9 797.1 1226.6 797.8C1238.3 798.5 1248.7 795.8 1260.2 793.5C1271.7 791.2 1283.9 787.2 1295.6 784C1307.3 780.8 1318.7 776.6 1330.2 774C1341.7 771.4 1353 768.9 1364.7 768.6C1376.4 768.4 1389.2 769.6 1400.2 772.5C1411.2 775.4 1425.4 783.5 1430.4 785.7" stroke="#8f3a89" stroke-width="4.5" fill="none" stroke-linecap="butt"/>
<path d="M1355.2 726C1355.5 724.8 1355.9 721.5 1357.2 719C1358.5 716.5 1361.2 714.3 1363 711.1C1364.8 707.9 1366.8 703.7 1368.2 700C1369.6 696.3 1369.4 692 1371.6 688.7C1373.8 685.5 1377.6 680.7 1381.2 680.5C1384.8 680.3 1389.7 684.7 1393.2 687.3C1396.7 689.9 1398.8 693.8 1402.2 696C1405.7 698.2 1410.1 699.5 1413.9 700.7C1417.7 702 1421.6 704 1425.2 703.5C1428.8 703 1433.8 698.6 1435.5 697.6" fill="none" stroke="#9c3a84" stroke-width="1.5"/>
<circle cx="1363" cy="711.1" r="5.6" fill="#c2429b" stroke="#a5388a" stroke-width="0.9"/>
<circle cx="1371.6" cy="688.7" r="5.6" fill="#c2429b" stroke="#a5388a" stroke-width="0.9"/>
<circle cx="1393.2" cy="687.3" r="5.6" fill="#c2429b" stroke="#a5388a" stroke-width="0.9"/>
<circle cx="1413.9" cy="700.7" r="5.6" fill="#c2429b" stroke="#a5388a" stroke-width="0.9"/>
<circle cx="1435.5" cy="697.6" r="5.6" fill="#c2429b" stroke="#a5388a" stroke-width="0.9"/>
<text x="434.4" y="736.5" font-size="37.2" font-weight="bold" fill="#2b2d30" text-anchor="start" textLength="170" lengthAdjust="spacingAndGlyphs" >regulates</text>
<line x1="594" y1="754.3" x2="446.8" y2="754.3" stroke="#323438" stroke-width="3.7" />
<path d="M430.3 754.3L447.8 745.4L447.8 763.2Z" fill="#323438"/>
<path d="M676.9 696.5L676.9 683.2M687.3 697.4L689.4 684.2M697.3 699.9L701.6 687.3M706.8 704.1L713.2 692.4M715.5 709.8L723.7 699.3M723.2 716.8L733 707.8M729.6 725L740.7 717.7M734.5 734.1L746.7 728.8M737.9 744L750.8 740.7M739.6 754.2L752.8 753.1M739.6 764.6L752.8 765.7M737.9 774.8L750.8 778.1M734.5 784.7L746.7 790M729.6 793.8L740.7 801.1M723.2 802L733 811M715.5 809L723.7 819.5M706.8 814.7L713.2 826.4M697.3 818.9L701.6 831.5M687.3 821.4L689.4 834.6M676.9 822.3L676.9 835.6M666.5 821.4L664.4 834.6M656.5 818.9L652.2 831.5M647 814.7L640.6 826.4M638.3 809L630.1 819.5M630.6 802L620.8 811M624.2 793.8L613.1 801.1M619.3 784.7L607.1 790M615.9 774.8L603 778.1M614.2 764.6L601 765.7M614.2 754.2L601 753.1M615.9 744L603 740.7M619.3 734.1L607.1 728.8M624.2 725L613.1 717.7M630.6 716.8L620.8 707.8M638.3 709.8L630.1 699.3M647 704.1L640.6 692.4M656.5 699.9L652.2 687.3M666.5 697.4L664.4 684.2" stroke="#c7621e" stroke-width="3.1" fill="none"/>
<circle cx="676.9" cy="759.4" r="60.7" stroke="#c7621e" stroke-width="5" fill="none"/>
<text x="1451.2" y="725.3" font-size="37.5" font-weight="bold" fill="#2b2d30" text-anchor="start" textLength="171.4" lengthAdjust="spacingAndGlyphs" >regulates</text>
<rect x="1468" y="746.4" width="156" height="10.6" fill="url(#fadeR)"/>
<path d="M1440.4 751.7L1472.3 736.6V766.8Z" fill="#35373b"/>
<path d="M1677.8 669L1677.8 660.6M1683.1 669.3L1684.3 661.1M1688.2 670.5L1690.6 662.4M1693.2 672.3L1696.7 664.7M1697.8 674.8L1702.3 667.8M1702.1 678L1707.5 671.7M1705.8 681.7L1712.1 676.3M1709 686L1716 681.5M1711.5 690.6L1719.1 687.1M1713.3 695.6L1721.4 693.2M1714.5 700.7L1722.7 699.5M1714.8 706L1723.2 706M1714.5 711.3L1722.7 712.5M1713.3 716.4L1721.4 718.8M1711.5 721.4L1719.1 724.9M1709 726L1716 730.5M1705.8 730.3L1712.1 735.7M1702.1 734L1707.5 740.3M1697.8 737.2L1702.3 744.2M1693.2 739.7L1696.7 747.3M1688.2 741.5L1690.6 749.6M1683.1 742.7L1684.3 750.9M1677.8 743L1677.8 751.4M1672.5 742.7L1671.3 750.9M1667.4 741.5L1665 749.6M1662.4 739.7L1658.9 747.3M1657.8 737.2L1653.3 744.2M1653.5 734L1648.1 740.3M1649.8 730.3L1643.5 735.7M1646.6 726L1639.6 730.5M1644.1 721.4L1636.5 724.9M1642.3 716.4L1634.2 718.8M1641.1 711.3L1632.9 712.5M1640.8 706L1632.4 706M1641.1 700.7L1632.9 699.5M1642.3 695.6L1634.2 693.2M1644.1 690.6L1636.5 687.1M1646.6 686L1639.6 681.5M1649.8 681.7L1643.5 676.3M1653.5 678L1648.1 671.7M1657.8 674.8L1653.3 667.8M1662.4 672.3L1658.9 664.7M1667.4 670.5L1665 662.4M1672.5 669.3L1671.3 661.1" stroke="#c7621e" stroke-width="2" fill="none"/>
<circle cx="1677.8" cy="706" r="35.7" stroke="#c7621e" stroke-width="3.3" fill="#fbfcfe"/>
<path d="M1803.8 711L1803.8 702.6M1809.1 711.3L1810.3 703.1M1814.2 712.5L1816.6 704.4M1819.2 714.3L1822.7 706.7M1823.8 716.8L1828.3 709.8M1828.1 720L1833.5 713.7M1831.8 723.7L1838.1 718.3M1835 728L1842 723.5M1837.5 732.6L1845.1 729.1M1839.3 737.6L1847.4 735.2M1840.5 742.7L1848.7 741.5M1840.8 748L1849.2 748M1840.5 753.3L1848.7 754.5M1839.3 758.4L1847.4 760.8M1837.5 763.4L1845.1 766.9M1835 768L1842 772.5M1831.8 772.3L1838.1 777.7M1828.1 776L1833.5 782.3M1823.8 779.2L1828.3 786.2M1819.2 781.7L1822.7 789.3M1814.2 783.5L1816.6 791.6M1809.1 784.7L1810.3 792.9M1803.8 785L1803.8 793.4M1798.5 784.7L1797.3 792.9M1793.4 783.5L1791 791.6M1788.4 781.7L1784.9 789.3M1783.8 779.2L1779.3 786.2M1779.5 776L1774.1 782.3M1775.8 772.3L1769.5 777.7M1772.6 768L1765.6 772.5M1770.1 763.4L1762.5 766.9M1768.3 758.4L1760.2 760.8M1767.1 753.3L1758.9 754.5M1766.8 748L1758.4 748M1767.1 742.7L1758.9 741.5M1768.3 737.6L1760.2 735.2M1770.1 732.6L1762.5 729.1M1772.6 728L1765.6 723.5M1775.8 723.7L1769.5 718.3M1779.5 720L1774.1 713.7M1783.8 716.8L1779.3 709.8M1788.4 714.3L1784.9 706.7M1793.4 712.5L1791 704.4M1798.5 711.3L1797.3 703.1" stroke="#c7621e" stroke-width="2" fill="none"/>
<circle cx="1803.8" cy="748" r="35.7" stroke="#c7621e" stroke-width="3.3" fill="#fbfcfe"/>
<path d="M1697.6 760.1L1697.6 751.7M1702.9 760.4L1704.1 752.2M1708 761.6L1710.4 753.5M1713 763.4L1716.5 755.8M1717.6 765.9L1722.1 758.9M1721.9 769.1L1727.3 762.8M1725.6 772.8L1731.9 767.4M1728.8 777.1L1735.8 772.6M1731.3 781.7L1738.9 778.2M1733.1 786.7L1741.2 784.3M1734.3 791.8L1742.5 790.6M1734.6 797.1L1743 797.1M1734.3 802.4L1742.5 803.6M1733.1 807.5L1741.2 809.9M1731.3 812.5L1738.9 816M1728.8 817.1L1735.8 821.6M1725.6 821.4L1731.9 826.8M1721.9 825.1L1727.3 831.4M1717.6 828.3L1722.1 835.3M1713 830.8L1716.5 838.4M1708 832.6L1710.4 840.7M1702.9 833.8L1704.1 842M1697.6 834.1L1697.6 842.5M1692.3 833.8L1691.1 842M1687.2 832.6L1684.8 840.7M1682.2 830.8L1678.7 838.4M1677.6 828.3L1673.1 835.3M1673.3 825.1L1667.9 831.4M1669.6 821.4L1663.3 826.8M1666.4 817.1L1659.4 821.6M1663.9 812.5L1656.3 816M1662.1 807.5L1654 809.9M1660.9 802.4L1652.7 803.6M1660.5 797.1L1652.2 797.1M1660.9 791.8L1652.7 790.6M1662.1 786.7L1654 784.3M1663.9 781.7L1656.3 778.2M1666.4 777.1L1659.4 772.6M1669.6 772.8L1663.3 767.4M1673.3 769.1L1667.9 762.8M1677.6 765.9L1673.1 758.9M1682.2 763.4L1678.7 755.8M1687.2 761.6L1684.8 753.5M1692.3 760.4L1691.1 752.2" stroke="#c7621e" stroke-width="2" fill="none"/>
<circle cx="1697.6" cy="797.1" r="35.7" stroke="#c7621e" stroke-width="3.3" fill="#fbfcfe"/>
<path d="M1781.8 797.2L1781.8 788.9M1787.1 797.6L1788.3 789.4M1792.2 798.8L1794.6 790.7M1797.2 800.6L1800.7 793M1801.8 803.1L1806.3 796.1M1806.1 806.3L1811.5 800M1809.8 810L1816.1 804.6M1813 814.3L1820 809.8M1815.5 818.9L1823.1 815.4M1817.3 823.9L1825.4 821.5M1818.5 829L1826.7 827.8M1818.8 834.3L1827.2 834.3M1818.5 839.6L1826.7 840.8M1817.3 844.7L1825.4 847.1M1815.5 849.7L1823.1 853.2M1813 854.3L1820 858.8M1809.8 858.6L1816.1 864M1806.1 862.3L1811.5 868.6M1801.8 865.5L1806.3 872.5M1797.2 868L1800.7 875.6M1792.2 869.8L1794.6 877.9M1787.1 871L1788.3 879.2M1781.8 871.3L1781.8 879.7M1776.5 871L1775.3 879.2M1771.4 869.8L1769 877.9M1766.4 868L1762.9 875.6M1761.8 865.5L1757.3 872.5M1757.5 862.3L1752.1 868.6M1753.8 858.6L1747.5 864M1750.6 854.3L1743.6 858.8M1748.1 849.7L1740.5 853.2M1746.3 844.7L1738.2 847.1M1745.1 839.6L1736.9 840.8M1744.8 834.3L1736.4 834.3M1745.1 829L1736.9 827.8M1746.3 823.9L1738.2 821.5M1748.1 818.9L1740.5 815.4M1750.6 814.3L1743.6 809.8M1753.8 810L1747.5 804.6M1757.5 806.3L1752.1 800M1761.8 803.1L1757.3 796.1M1766.4 800.6L1762.9 793M1771.4 798.8L1769 790.7M1776.5 797.6L1775.3 789.4" stroke="#c7621e" stroke-width="2" fill="none"/>
<circle cx="1781.8" cy="834.3" r="35.7" stroke="#c7621e" stroke-width="3.3" fill="#fbfcfe"/>
<text x="1849.3" y="738.2" font-size="37.5" font-weight="bold" fill="#2b2d30" text-anchor="start" textLength="109.6" lengthAdjust="spacingAndGlyphs" >decoy</text>
<line x1="338.9" y1="1013" x2="394.1" y2="830.4" stroke="#828486" stroke-width="4" />
<path d="M399.2 813.6L401.6 833.7L386.1 829Z" fill="#828486"/>
<line x1="440.7" y1="929.7" x2="421.9" y2="819.9" stroke="#828486" stroke-width="4" />
<path d="M419 802.6L430.1 819.5L414.1 822.2Z" fill="#828486"/>
<line x1="525.6" y1="1003.5" x2="454.6" y2="817.6" stroke="#828486" stroke-width="4" />
<path d="M448.4 801.3L462.6 815.7L447.4 821.5Z" fill="#828486"/>
<line x1="618.7" y1="1003.5" x2="652.2" y2="854.5" stroke="#828486" stroke-width="4" />
<path d="M656 837.4L659.8 857.2L644 853.7Z" fill="#828486"/>
<line x1="747" y1="929.7" x2="709.7" y2="853.1" stroke="#828486" stroke-width="4" />
<path d="M702 837.4L717.4 850.5L702.8 857.6Z" fill="#828486"/>
<line x1="815.6" y1="997.4" x2="735.8" y2="852.7" stroke="#828486" stroke-width="4" />
<path d="M727.4 837.4L743.4 849.7L729.2 857.5Z" fill="#828486"/>
<g transform="translate(320.5 1033.5) rotate(0) scale(1)" fill="none" stroke-linejoin="round"><path d="M4 0V-15M14 0V-15M23.6 0V-15M32.7 0V-15M62.3 0V-15M71.4 0V-15M81 0V-15M91 0V-15" stroke="#3a3e95" stroke-width="2.8"/><path d="M0 0H33C34 9 39.5 13 47.5 13C55.5 13 61 9 62 0H95" stroke="#2c2a76" stroke-width="4.2"/></g>
<g transform="translate(388 966.6) rotate(0) scale(1)" fill="none" stroke-linejoin="round"><path d="M4 0V-15M14 0V-15M23.6 0V-15M32.7 0V-15M62.3 0V-15M71.4 0V-15M81 0V-15M91 0V-15" stroke="#2496b4" stroke-width="2.8"/><path d="M0 0H33C34 9 39.5 13 47.5 13C55.5 13 61 9 62 0H95" stroke="#1c719d" stroke-width="4.2"/></g>
<g transform="translate(455 1033.5) rotate(0) scale(1)" fill="none" stroke-linejoin="round"><path d="M4 0V-15M14 0V-15M23.6 0V-15M32.7 0V-15M62.3 0V-15M71.4 0V-15M81 0V-15M91 0V-15" stroke="#2ba2bd" stroke-width="2.8"/><path d="M0 0H33C34 9 39.5 13 47.5 13C55.5 13 61 9 62 0H95" stroke="#1f84aa" stroke-width="4.2"/></g>
<g transform="translate(590.4 1033.5) rotate(0) scale(1)" fill="none" stroke-linejoin="round"><path d="M4 0V-15M14 0V-15M23.6 0V-15M32.7 0V-15M62.3 0V-15M71.4 0V-15M81 0V-15M91 0V-15" stroke="#3a3e95" stroke-width="2.8"/><path d="M0 0H33C34 9 39.5 13 47.5 13C55.5 13 61 9 62 0H95" stroke="#2c2a76" stroke-width="4.2"/></g>
<g transform="translate(686.4 966.6) rotate(0) scale(1)" fill="none" stroke-linejoin="round"><path d="M4 0V-15M14 0V-15M23.6 0V-15M32.7 0V-15M62.3 0V-15M71.4 0V-15M81 0V-15M91 0V-15" stroke="#2496b4" stroke-width="2.8"/><path d="M0 0H33C34 9 39.5 13 47.5 13C55.5 13 61 9 62 0H95" stroke="#1c719d" stroke-width="4.2"/></g>
<g transform="translate(754 1033.5) rotate(0) scale(1)" fill="none" stroke-linejoin="round"><path d="M4 0V-15M14 0V-15M23.6 0V-15M32.7 0V-15M62.3 0V-15M71.4 0V-15M81 0V-15M91 0V-15" stroke="#3a3e95" stroke-width="2.8"/><path d="M0 0H33C34 9 39.5 13 47.5 13C55.5 13 61 9 62 0H95" stroke="#2c2a76" stroke-width="4.2"/></g>
<text x="452" y="1113.1" font-size="32.5" font-weight="bold" fill="#1a1a1c" text-anchor="start" textLength="187.4" lengthAdjust="spacingAndGlyphs" >miR-34~317</text>
<g transform="translate(1696.4 878.4) rotate(24) scale(0.6)" fill="none" stroke-linejoin="round"><path d="M4 0V-11M14 0V-11M23.6 0V-11M32.7 0V-11M62.3 0V-11M71.4 0V-11M81 0V-11M91 0V-11" stroke="#2496b4" stroke-width="3"/><path d="M0 0H33C34 9 39.5 13 47.5 13C55.5 13 61 9 62 0H95" stroke="#1c719d" stroke-width="5"/></g>
<g transform="translate(1606.2 913) rotate(17.6) scale(0.7)" fill="none" stroke-linejoin="round"><path d="M4 0V-11M14 0V-11M23.6 0V-11M32.7 0V-11M62.3 0V-11M71.4 0V-11M81 0V-11M91 0V-11" stroke="#2496b4" stroke-width="2.4"/><path d="M0 0H33C34 9 39.5 13 47.5 13C55.5 13 61 9 62 0H95" stroke="#1c719d" stroke-width="4"/></g>
<g transform="translate(1734.4 932) rotate(7.3) scale(0.6)" fill="none" stroke-linejoin="round"><path d="M4 0V-11M14 0V-11M23.6 0V-11M32.7 0V-11M62.3 0V-11M71.4 0V-11M81 0V-11M91 0V-11" stroke="#3a3e95" stroke-width="2.7"/><path d="M0 0H33C34 9 39.5 13 47.5 13C55.5 13 61 9 62 0H95" stroke="#2c2a76" stroke-width="4.4"/></g>
<g transform="translate(1670.5 961.3) rotate(11.2) scale(0.7)" fill="none" stroke-linejoin="round"><path d="M4 0V-11M14 0V-11M23.6 0V-11M32.7 0V-11M62.3 0V-11M71.4 0V-11M81 0V-11M91 0V-11" stroke="#3a3e95" stroke-width="2.5"/><path d="M0 0H33C34 9 39.5 13 47.5 13C55.5 13 61 9 62 0H95" stroke="#2c2a76" stroke-width="4"/></g>
<g transform="translate(1529.5 966.5) rotate(15.8) scale(1)" fill="none" stroke-linejoin="round"><path d="M4 0V-11M14 0V-11M23.6 0V-11M32.7 0V-11M62.3 0V-11M71.4 0V-11M81 0V-11M91 0V-11" stroke="#2496b4" stroke-width="2.4"/><path d="M0 0H33C34 9 39.5 13 47.5 13C55.5 13 61 9 62 0H95" stroke="#1c719d" stroke-width="4.3"/></g>
<g transform="translate(1685 1015.6) rotate(9.5) scale(1)" fill="none" stroke-linejoin="round"><path d="M4 0V-11M14 0V-11M23.6 0V-11M32.7 0V-11M62.3 0V-11M71.4 0V-11M81 0V-11M91 0V-11" stroke="#3a3e95" stroke-width="2.4"/><path d="M0 0H33C34 9 39.5 13 47.5 13C55.5 13 61 9 62 0H95" stroke="#2c2a76" stroke-width="4.2"/></g>
<text transform="translate(1560.6 1035.6) rotate(15.1)" x="-2.2" y="0" font-size="33" font-weight="bold" fill="#1a1a1c" textLength="189.4" lengthAdjust="spacingAndGlyphs">miR-34~317</text>
<path d="M1656.3 817.3C1648.6 821.4 1623.9 832.7 1610 842C1596.1 851.3 1584 862.8 1572.7 873.3C1561.4 883.8 1550.6 894.6 1542 905C1533.4 915.4 1527.1 924.6 1520.9 935.4C1514.7 946.2 1509.3 958.5 1505 970C1500.7 981.5 1496.7 998.8 1495 1004.5" fill="none" stroke="#333537" stroke-width="4.1"/>
<path d="M1819 865.7C1820.5 873.9 1826 899.4 1828 915C1830 930.6 1830.8 945.4 1831 959.6C1831.2 973.8 1830.3 987.3 1829 1000C1827.7 1012.7 1825.7 1025.3 1823 1035.6C1820.3 1045.9 1816.5 1053.8 1813 1062C1809.5 1070.2 1803.6 1081.2 1801.7 1085" fill="none" stroke="#333537" stroke-width="4.1"/>
<path d="M225.3 805.8C225.6 816.5 226.2 847.5 227 870C227.8 892.5 228.5 921 230 941C231.5 961 233.3 973.9 236 990C238.7 1006.1 242.7 1022.6 246 1037.6C249.3 1052.6 252.2 1066.6 256 1080C259.8 1093.4 264.3 1105.3 268.8 1118C273.3 1130.7 277.6 1143.7 283 1156C288.4 1168.3 295 1181.3 301 1192C307 1202.7 312.6 1211.4 319 1220C325.4 1228.6 332.6 1236.9 339.6 1243.6C346.6 1250.3 353.5 1255.2 361 1260C368.5 1264.8 376.5 1269.1 384.7 1272.6C392.9 1276.1 401.3 1278.9 410 1281C418.7 1283.1 432.5 1284.6 437 1285.3" fill="none" stroke="url(#gcurve)" stroke-width="3.6"/>
<path d="M452.8 1285.8L434.5 1276V1295.6Z" fill="#323436"/>
<path d="M1176.7 792.8C1176.8 802.3 1177.2 832.4 1177.5 850C1177.8 867.6 1178 881.5 1178.8 898.2C1179.5 914.9 1180.5 932.7 1182 950C1183.5 967.3 1185.5 984.3 1188 1001.8C1190.5 1019.3 1193.2 1037.7 1197 1055C1200.8 1072.3 1205.7 1089.6 1210.5 1105.4C1215.3 1121.2 1220.2 1135.6 1226 1150C1231.8 1164.4 1238.2 1179.5 1245 1191.8C1251.8 1204.1 1258.9 1214.2 1267 1224C1275.1 1233.8 1284.2 1243.2 1293.4 1250.5C1302.6 1257.8 1311.7 1263.2 1322 1268C1332.3 1272.8 1349.5 1277.6 1355 1279.5" fill="none" stroke="url(#gcurve)" stroke-width="9"/>
<path d="M1386 1284.6L1353.5 1266.5L1351.5 1299Z" fill="#323436"/>
<text transform="translate(189.3 876.6) rotate(90)" x="-2.5" y="0" font-size="38.5" font-weight="bold" fill="#2e2e31" textLength="339.6" lengthAdjust="spacingAndGlyphs">normal translation</text>
<text transform="translate(1136.8 877.4) rotate(90)" x="-1.5" y="0" font-size="38.5" font-weight="bold" fill="#d9262c" textLength="288.8" lengthAdjust="spacingAndGlyphs">over translation</text>
<use href="#prot" x="440" y="1181.6"/>
<text x="622.3" y="1296.6" font-size="33" font-weight="bold" fill="#1a1a1c" text-anchor="start" textLength="230.3" lengthAdjust="spacingAndGlyphs" >CPR25 protein</text>
<use href="#prot" x="1362.9" y="1182.8"/>
<use href="#prot" x="1520" y="1182.8"/>
<use href="#prot" x="1686.3" y="1182.8"/>
<text x="1486.3" y="1189.4" font-size="33" font-weight="bold" fill="#1a1a1c" text-anchor="start" textLength="228.9" lengthAdjust="spacingAndGlyphs" >CPR25 protein</text>
<path d="M500.8 1451.2L514.8 1465.2L528.8 1451.2L528.8 1483.2L542.8 1483.2L514.8 1511.2L486.8 1483.2L500.8 1483.2Z" fill="url(#gGray)" stroke="#0c0c0e" stroke-width="2" stroke-linejoin="miter"/>
<path d="M1507.8 1452L1521.8 1466L1535.8 1452L1535.8 1484L1549.8 1484L1521.8 1512L1493.8 1484L1507.8 1484Z" fill="url(#gRed)" stroke="#0c0c0e" stroke-width="2" stroke-linejoin="miter"/>
<path d="M29 1682.8C31.7 1682.5 39 1681.2 45 1681.3C51 1681.4 59.7 1682.4 64.8 1683.5C69.8 1684.6 72.2 1687.5 75.5 1687.8C78.8 1688.1 82.4 1686.6 84.5 1685.3C86.6 1684 86.9 1682.1 88.3 1679.9C89.7 1677.8 91.2 1675.2 92.6 1672.6C94 1669.9 95.3 1667.3 96.5 1663.8C97.8 1660.4 100.1 1655.1 100 1651.8C100 1648.5 97.6 1646.2 96.1 1643.9C94.7 1641.6 92.3 1640.1 91.5 1637.9C90.7 1635.8 90.5 1633.1 91.1 1630.9C91.6 1628.6 93.2 1626.2 94.9 1624.5C96.7 1622.9 99.5 1621.6 101.5 1620.8C103.5 1620.1 105.2 1620 107.1 1620C109 1620 110.7 1620.1 112.7 1620.8C114.7 1621.6 117.5 1622.9 119.3 1624.5C121 1626.2 122.6 1628.6 123.1 1630.9C123.7 1633.1 123.5 1635.8 122.7 1637.9C121.9 1640.1 119.5 1641.6 118.1 1643.9C116.6 1646.2 115.3 1648.5 114.2 1651.8C113 1655.1 112.1 1660.4 111.4 1663.8C110.7 1667.3 110.2 1669.9 109.8 1672.6C109.4 1675.2 109.3 1677.8 109.2 1679.9C109.1 1682.1 107.8 1683.9 109.3 1685.3C110.8 1686.7 114 1688.6 118.3 1688.3C122.6 1688 129.5 1684.2 135 1683.7C140.6 1683.2 147.6 1684.7 151.8 1685.3C155.9 1686 157.1 1687.8 160 1687.8C162.9 1687.8 166.9 1686.9 169 1685.3C171.1 1683.7 171.4 1680.9 172.7 1678C173.9 1675.1 175.3 1671.5 176.4 1667.9C177.5 1664.2 178.4 1660.7 179.2 1656C179.9 1651.2 181.2 1643.7 180.9 1639.5C180.6 1635.2 178.8 1633 177.6 1630.3C176.3 1627.7 174.2 1626 173.5 1623.5C172.8 1621 172.6 1617.9 173.1 1615.3C173.6 1612.7 175 1610 176.5 1608C178 1606.1 180.5 1604.6 182.3 1603.8C184.1 1602.9 185.6 1602.8 187.2 1602.8C188.8 1602.8 190.3 1602.9 192.1 1603.8C193.9 1604.6 196.4 1606.1 197.9 1608C199.4 1610 200.8 1612.7 201.3 1615.3C201.8 1617.9 201.6 1621 200.9 1623.5C200.2 1626 198.1 1627.7 196.8 1630.3C195.6 1633 194.2 1635.2 193.5 1639.5C192.8 1643.7 192.9 1651.2 192.9 1656C193 1660.7 193.3 1664.2 193.7 1667.9C194.2 1671.5 195 1675.1 195.7 1678C196.4 1680.9 196.1 1683.6 198 1685.3C199.9 1687 202.1 1688.5 207 1688.3C211.9 1688.1 220.8 1684.2 227.7 1683.9C234.5 1683.7 242.8 1686.1 248.3 1686.7C253.8 1687.4 257.1 1688 260.6 1687.8C264.1 1687.6 267.5 1687.2 269.6 1685.3C271.7 1683.4 272.2 1679.9 273.5 1676.4C274.7 1672.9 276.2 1668.6 277.2 1664.2C278.3 1659.7 279.1 1655.5 279.7 1649.7C280.3 1644 281.4 1634.8 280.8 1629.7C280.2 1624.6 277.9 1622.3 276.2 1619.3C274.6 1616.2 271.8 1614.3 270.8 1611.4C269.9 1608.5 269.7 1605 270.3 1602C271 1599.1 272.8 1595.9 274.8 1593.7C276.8 1591.5 280.1 1589.8 282.5 1588.8C284.8 1587.8 286.8 1587.7 289 1587.7C291.2 1587.7 293.2 1587.8 295.5 1588.8C297.9 1589.8 301.2 1591.5 303.2 1593.7C305.2 1595.9 307 1599.1 307.7 1602C308.3 1605 308.1 1608.5 307.2 1611.4C306.2 1614.3 303.4 1616.2 301.8 1619.3C300.1 1622.3 297.9 1624.6 297.2 1629.7C296.5 1634.8 297.2 1644 297.5 1649.7C297.9 1655.5 298.6 1659.7 299.4 1664.2C300.2 1668.6 301.5 1672.9 302.6 1676.4C303.7 1679.9 303.9 1683.3 306 1685.3C308.1 1687.3 310.1 1688.7 315 1688.3C319.9 1687.9 328.4 1683.5 335.1 1682.8C341.8 1682.1 349.9 1683.2 355.3 1684.1C360.6 1685.1 363.5 1688.2 367 1688.5C370.5 1688.9 374.1 1687.8 376 1686C377.9 1684.3 377.7 1681.3 378.5 1678.2C379.3 1675.1 380.2 1671.3 380.8 1667.4C381.3 1663.5 381.7 1659.7 381.9 1654.6C382 1649.6 382.4 1641.6 381.7 1637C380.9 1632.3 378.9 1629.6 377.4 1626.6C375.8 1623.5 373.2 1621.6 372.3 1618.8C371.4 1615.9 371.2 1612.4 371.8 1609.5C372.4 1606.5 374.1 1603.4 376 1601.2C377.9 1599 381 1597.3 383.2 1596.3C385.5 1595.3 387.3 1595.2 389.4 1595.2C391.5 1595.2 393.3 1595.3 395.6 1596.3C397.8 1597.3 400.9 1599 402.8 1601.2C404.7 1603.4 406.4 1606.5 407 1609.5C407.6 1612.4 407.4 1615.9 406.5 1618.8C405.6 1621.6 403 1623.5 401.4 1626.6C399.9 1629.6 397.6 1632.3 397.1 1637C396.7 1641.6 397.9 1649.6 398.5 1654.6C399.2 1659.7 400 1663.5 401 1667.4C402 1671.3 403.4 1675.1 404.5 1678.2C405.7 1681.3 405.9 1684.2 408 1686C410.1 1687.8 412.4 1688.9 417 1689C421.6 1689.2 429.5 1687.4 435.8 1687.1C442.1 1686.8 449.8 1686.6 454.6 1687.1C459.5 1687.6 461.8 1690.1 465 1690.2C468.2 1690.2 471.5 1689.4 474 1687.7C476.5 1685.9 478 1682.8 480.2 1679.6C482.5 1676.4 485.1 1672.5 487.4 1668.5C489.8 1664.4 492 1660.6 494.2 1655.4C496.4 1650.2 500.2 1641.8 500.7 1637.2C501.2 1632.6 498.5 1630.4 497.2 1627.6C496 1624.8 493.9 1623.1 493.1 1620.4C492.4 1617.8 492.2 1614.6 492.7 1611.8C493.2 1609.1 494.6 1606.2 496.2 1604.2C497.7 1602.2 500.2 1600.6 502 1599.7C503.8 1598.8 505.3 1598.7 507 1598.7C508.7 1598.7 510.2 1598.8 512 1599.7C513.8 1600.6 516.3 1602.2 517.8 1604.2C519.4 1606.2 520.8 1609.1 521.3 1611.8C521.8 1614.6 521.6 1617.8 520.9 1620.4C520.1 1623.1 518 1624.8 516.8 1627.6C515.5 1630.4 514.8 1632.6 513.3 1637.2C511.8 1641.8 509.4 1650.2 507.9 1655.4C506.4 1660.6 505.3 1664.4 504.3 1668.5C503.4 1672.5 502.8 1676.4 502.3 1679.6C501.8 1682.8 500.1 1685.8 501.5 1687.7C502.9 1689.5 505.9 1690.9 510.5 1690.7C515.1 1690.4 522.7 1686 528.8 1686.3C534.9 1686.6 542.4 1691.6 547.1 1692.4C551.8 1693.3 553.9 1692 557 1691.5C560.1 1690.9 563.7 1690.7 566 1689C568.3 1687.2 569.1 1684 570.8 1680.8C572.5 1677.6 574.4 1673.7 576.1 1669.6C577.7 1665.5 579.1 1661.6 580.5 1656.4C581.8 1651.1 583.9 1642.7 584 1638C584.1 1633.4 582.2 1631.2 581.1 1628.4C579.9 1625.6 577.9 1623.9 577.2 1621.2C576.5 1618.6 576.3 1615.4 576.8 1612.6C577.3 1609.9 578.6 1607 580 1605C581.5 1603 583.9 1601.4 585.6 1600.5C587.3 1599.6 588.7 1599.5 590.3 1599.5C591.9 1599.5 593.3 1599.6 595 1600.5C596.7 1601.4 599.1 1603 600.6 1605C602 1607 603.3 1609.9 603.8 1612.6C604.3 1615.4 604.1 1618.6 603.4 1621.2C602.7 1623.9 600.7 1625.6 599.5 1628.4C598.4 1631.2 597.5 1633.4 596.6 1638C595.7 1642.7 594.8 1651.1 594.2 1656.4C593.7 1661.6 593.5 1665.5 593.5 1669.6C593.5 1673.7 593.8 1677.6 594.2 1680.8C594.5 1684 593.8 1687.1 595.5 1689C597.2 1690.8 599.9 1692.2 604.5 1692C609.1 1691.7 617 1687.4 623.2 1687.3C629.4 1687.3 637.1 1691.1 641.9 1691.8C646.8 1692.5 649 1692.1 652.2 1691.7C655.4 1691.3 658.8 1691.1 661.2 1689.2C663.6 1687.3 664.6 1683.8 666.5 1680.2C668.4 1676.6 670.6 1672.3 672.6 1667.8C674.6 1663.3 676.5 1659 678.4 1653.2C680.3 1647.4 683.8 1637.8 684 1633C684.2 1628.2 681.3 1626.7 679.8 1624.2C678.2 1621.6 675.7 1620 674.8 1617.5C673.9 1615.1 673.7 1612.1 674.3 1609.6C674.9 1607.1 676.6 1604.4 678.4 1602.6C680.3 1600.7 683.4 1599.3 685.5 1598.4C687.7 1597.6 689.6 1597.5 691.6 1597.5C693.6 1597.5 695.5 1597.6 697.7 1598.4C699.8 1599.3 702.9 1600.7 704.8 1602.6C706.6 1604.4 708.3 1607.1 708.9 1609.6C709.5 1612.1 709.3 1615.1 708.4 1617.5C707.5 1620 705 1621.6 703.4 1624.2C701.9 1626.7 700.7 1628.2 699.2 1633C697.7 1637.8 695.8 1647.4 694.5 1653.2C693.2 1659 692.2 1663.3 691.4 1667.8C690.5 1672.3 689.9 1676.6 689.5 1680.2C689 1683.8 687.3 1687.2 688.7 1689.2C690.1 1691.2 692.2 1692.5 697.7 1692.2C703.2 1691.9 713.6 1687.6 721.6 1687.4C729.5 1687.1 738.8 1690 745.4 1690.7C752 1691.4 756.9 1692 761 1691.7C765.1 1691.4 767.4 1691.2 770 1689.2C772.6 1687.2 774.4 1683.5 776.8 1679.7C779.1 1675.9 781.9 1671.4 784.1 1666.6C786.3 1661.9 788.4 1657.3 790.2 1651.1C792 1645 794.7 1634.7 794.9 1629.7C795 1624.8 792.5 1623.9 791.2 1621.6C789.9 1619.2 787.7 1617.6 786.9 1615.4C786.2 1613.1 786 1610.4 786.5 1608C787.1 1605.7 788.5 1603.2 790.1 1601.5C791.7 1599.8 794.3 1598.4 796.2 1597.7C798.1 1596.9 799.7 1596.8 801.4 1596.8C803.1 1596.8 804.7 1596.9 806.6 1597.7C808.5 1598.4 811.1 1599.8 812.7 1601.5C814.3 1603.2 815.7 1605.7 816.3 1608C816.8 1610.4 816.6 1613.1 815.9 1615.4C815.1 1617.6 812.9 1619.2 811.6 1621.6C810.3 1623.9 809 1624.8 807.9 1629.7C806.8 1634.7 805.6 1645 805 1651.1C804.4 1657.3 804.3 1661.9 804.4 1666.6C804.5 1671.4 805.1 1675.9 805.7 1679.7C806.3 1683.5 806.1 1687.1 808 1689.2C809.9 1691.3 812.3 1692.7 817 1692.2C821.7 1691.7 829.6 1686.5 835.9 1686.2C842.3 1686 850 1689.8 854.9 1690.7C859.8 1691.6 862.1 1691.9 865.4 1691.7C868.7 1691.5 872.1 1690.9 874.4 1689.2C876.7 1687.5 877.6 1684.6 879.3 1681.6C881 1678.7 883 1675 884.6 1671.3C886.2 1667.5 887.7 1663.9 889 1659C890.3 1654.1 892.4 1646.2 892.3 1642C892.3 1637.8 890 1636.1 888.6 1633.7C887.3 1631.3 885.1 1629.7 884.3 1627.4C883.5 1625.2 883.3 1622.4 883.8 1620C884.4 1617.7 885.8 1615.1 887.5 1613.4C889.1 1611.6 891.8 1610.3 893.7 1609.5C895.6 1608.7 897.2 1608.6 899 1608.6C900.8 1608.6 902.4 1608.7 904.3 1609.5C906.2 1610.3 908.9 1611.6 910.5 1613.4C912.2 1615.1 913.6 1617.7 914.2 1620C914.7 1622.4 914.5 1625.2 913.7 1627.4C912.9 1629.7 910.7 1631.3 909.4 1633.7C908 1636.1 906.6 1637.8 905.7 1642C904.7 1646.2 904 1654.1 903.6 1659C903.2 1663.9 903.1 1667.5 903.2 1671.3C903.3 1675 903.8 1678.7 904.3 1681.6C904.7 1684.6 904.2 1687.4 906 1689.2C907.8 1691 910.7 1692.2 915 1692.2C919.3 1692.2 927.6 1689.4 931.7 1689.3C935.8 1689.2 936.6 1691.7 939.4 1691.7C942.2 1691.7 946.4 1690.6 948.4 1689.2C950.4 1687.8 950.5 1685.6 951.6 1683.2C952.7 1680.9 954 1678 955.1 1675C956.2 1672.1 957.2 1669.2 958.2 1665.3C959.1 1661.5 960.5 1655.1 960.8 1651.9C961.1 1648.7 960.4 1647.8 959.7 1646.1C959 1644.4 957.2 1643.3 956.6 1641.7C956.1 1640.1 956 1638.1 956.3 1636.5C956.7 1634.9 957.8 1633.1 958.9 1631.8C960.1 1630.6 962 1629.7 963.3 1629.1C964.7 1628.6 965.8 1628.5 967.1 1628.5C968.4 1628.5 969.5 1628.6 970.9 1629.1C972.2 1629.7 974.1 1630.6 975.3 1631.8C976.4 1633.1 977.5 1634.9 977.9 1636.5C978.2 1638.1 978.1 1640.1 977.6 1641.7C977 1643.3 975.2 1644.4 974.5 1646.1C973.8 1647.8 973.9 1648.7 973.4 1651.9C972.9 1655.1 971.9 1661.5 971.5 1665.3C971 1669.2 970.7 1672.1 970.6 1675C970.4 1678 970.5 1680.9 970.5 1683.2C970.6 1685.6 969.4 1687.7 971 1689.2C972.6 1690.7 976.7 1692 980 1692.2C983.3 1692.4 987.5 1690.8 991 1690.2C994.5 1689.6 998.4 1688.4 1000.8 1688.7C1003.2 1689 1004.5 1690.1 1005.3 1692.2C1006.1 1694.3 1005.7 1699.7 1005.8 1701.2L1005.8 1896L29 1896Z" fill="#b5b6b8"/>
<path d="M29 1732L35.9 1732L44.5 1731.9L54.5 1731.9L65.9 1731.8L78.2 1731.8L91.5 1731.7L105.6 1731.7L120.1 1731.6L135 1731.6L150 1731.5L165.7 1731.4L182.7 1731.4L200.6 1731.3L219.2 1731.3L238.2 1731.2L257.3 1731.1L276.3 1731.1L295 1731.1L312.9 1731L330 1731L346.2 1731L361.9 1731L377.2 1731L392.2 1731L406.9 1731L421.4 1731L435.9 1731L450.5 1731.1L465.1 1731.1L480 1731.2L495 1731.3L510 1731.3L525 1731.4L540 1731.5L555 1731.6L570 1731.7L585 1731.9L600 1732.1L615 1732.4L630 1732.7L645.1 1733.2L660.5 1733.8L675.9 1734.5L691.4 1735.2L706.9 1736L722.2 1736.7L737.2 1737.4L751.9 1738L766.2 1738.4L780 1738.7L793.3 1738.8L806.1 1738.8L818.7 1738.6L830.8 1738.4L842.8 1738.1L854.5 1737.7L866 1737.2L877.4 1736.7L888.7 1736.2L900 1735.7L911.6 1735.1L923.8 1734.3L936.1 1733.5L948.4 1732.6L960.4 1731.7L971.8 1730.8L982.3 1729.9L991.6 1729.1L999.6 1728.5L1005.8 1728L1005.8 1810L999.6 1810.6L991.6 1811.3L982.1 1812.2L971.5 1813.2L960.1 1814.2L948.2 1815.3L936.2 1816.4L924.4 1817.4L913.3 1818.3L903 1819L893.6 1819.7L884.5 1820.4L875.8 1821.1L867.2 1821.7L858.6 1822.3L850 1822.8L841.1 1823.1L831.9 1823.3L822.3 1823.3L812 1823L801 1822.4L789.2 1821.5L776.9 1820.4L764.3 1819.1L751.4 1817.6L738.6 1816.1L726 1814.7L713.7 1813.3L702 1812L691 1811L680.9 1810.1L671.5 1809.1L662.7 1808.2L654.3 1807.3L646 1806.5L637.7 1805.8L629.3 1805.3L620.5 1805L611.1 1804.8L601 1805L590 1805.5L578.1 1806.4L565.7 1807.6L552.9 1809L539.9 1810.5L526.9 1812L514.3 1813.5L502.1 1814.9L490.6 1816.1L480 1817L470.3 1817.6L461.4 1818.2L453 1818.5L445 1818.8L437.4 1819L430 1819.2L422.7 1819.3L415.3 1819.3L407.8 1819.4L400 1819.5L391.9 1819.6L383.6 1819.7L375.3 1819.8L366.9 1819.8L358.6 1819.8L350.4 1819.8L342.4 1819.7L334.6 1819.5L327.1 1819.3L320 1819L313.3 1818.6L307.1 1818.1L301.1 1817.5L295.4 1816.8L289.9 1816.1L284.4 1815.4L279 1814.6L273.5 1813.9L267.9 1813.2L262 1812.5L256 1811.8L250.1 1811.1L244.3 1810.4L238.4 1809.6L232.4 1808.9L226.3 1808.2L220 1807.6L213.6 1807.1L206.9 1806.6L200 1806.3L192.8 1806.1L185.3 1806L177.7 1806.1L169.8 1806.2L161.8 1806.4L153.7 1806.6L145.4 1806.8L137 1807.1L128.5 1807.3L120 1807.5L110.9 1807.7L101 1808L90.6 1808.2L80 1808.5L69.5 1808.8L59.4 1809.1L50 1809.4L41.6 1809.6L34.5 1809.8L29 1810Z" fill="#b3b4b6"/>
<path d="M31.8 1743.1C39.6 1742.9 63.2 1742.3 78.9 1742.3C94.6 1742.2 110.4 1742.6 126.1 1742.6C141.8 1742.6 157.5 1742.5 173.3 1742.2C189 1742 204.7 1741.3 220.4 1741C236.1 1740.7 251.9 1740.2 267.6 1740.3C283.3 1740.4 299 1741 314.7 1741.5C330.5 1742.1 346.2 1742.9 361.9 1743.7C377.6 1744.5 393.3 1745.7 409.1 1746.2C424.8 1746.7 440.5 1746.9 456.2 1746.8C471.9 1746.7 487.7 1746.1 503.4 1745.4C519.1 1744.8 534.8 1743.5 550.5 1742.9C566.3 1742.2 582 1741.5 597.7 1741.5C613.4 1741.4 629.1 1741.8 644.9 1742.5C660.6 1743.2 676.3 1744.8 692 1745.9C707.7 1747 723.5 1748.5 739.2 1749.2C754.9 1749.8 770.6 1750.2 786.3 1749.8C802.1 1749.5 817.8 1747.9 833.5 1747C849.2 1746.1 864.9 1745 880.7 1744.5C896.4 1744 912.1 1744.5 927.8 1744.1C943.5 1743.6 967.1 1742.1 975 1741.7" fill="none" stroke="#999a9c" stroke-width="4.9" stroke-linecap="round"/>
<path d="M41.4 1759.5C49.3 1758.7 72.9 1755.6 88.6 1754.5C104.3 1753.3 120.1 1752.8 135.8 1752.5C151.6 1752.2 167.3 1752.3 183.1 1752.7C198.8 1753.2 214.5 1754.3 230.3 1755.2C246 1756.1 261.8 1757.1 277.5 1758C293.2 1758.8 309 1759.9 324.7 1760.2C340.5 1760.6 356.2 1760.3 371.9 1760.3C387.7 1760.3 403.4 1760.3 419.2 1760.2C434.9 1760.2 450.6 1760.1 466.4 1760.1C482.1 1760.1 497.9 1760.3 513.6 1760C529.4 1759.7 545.1 1758.9 560.8 1758.3C576.6 1757.7 592.3 1756.9 608.1 1756.5C623.8 1756.2 639.5 1756.1 655.3 1756.1C671 1756.1 686.8 1756.2 702.5 1756.8C718.2 1757.4 734 1758.7 749.7 1759.7C765.5 1760.7 781.2 1762.1 796.9 1762.6C812.7 1763.1 828.4 1762.8 844.2 1762.6C859.9 1762.5 875.6 1762.3 891.4 1761.8C907.1 1761.2 922.9 1760.7 938.6 1759.5C954.4 1758.4 978 1755.5 985.8 1754.7" fill="none" stroke="#999a9c" stroke-width="5.1" stroke-linecap="round"/>
<path d="M42.1 1773.1C49.9 1772.6 73.6 1770.9 89.4 1770.1C105.2 1769.4 120.9 1769.1 136.7 1768.5C152.5 1767.9 168.3 1766.8 184.1 1766.6C199.8 1766.4 215.6 1766.6 231.4 1767.3C247.2 1767.9 263 1769 278.7 1770.4C294.5 1771.8 310.3 1774.2 326.1 1775.6C341.9 1776.9 357.6 1777.8 373.4 1778.4C389.2 1778.9 405 1779.3 420.7 1778.9C436.5 1778.6 452.3 1777.4 468.1 1776.4C483.9 1775.3 499.6 1774 515.4 1772.7C531.2 1771.3 547 1769 562.8 1768.1C578.5 1767.2 594.3 1766.8 610.1 1767.1C625.9 1767.5 641.7 1769.2 657.4 1770.1C673.2 1771 689 1771.7 704.8 1772.5C720.5 1773.3 736.3 1774.5 752.1 1775.1C767.9 1775.7 783.7 1776.3 799.4 1776.3C815.2 1776.2 831 1775 846.8 1774.8C862.6 1774.5 878.3 1774.8 894.1 1774.9C909.9 1774.9 925.7 1775.6 941.5 1775.2C957.2 1774.8 980.9 1772.9 988.8 1772.5" fill="none" stroke="#999a9c" stroke-width="5.2" stroke-linecap="round"/>
<path d="M41.5 1784.8C49.5 1783.9 73.5 1780.3 89.5 1779.4C105.4 1778.5 121.4 1779 137.4 1779.3C153.4 1779.7 169.4 1780.4 185.3 1781.4C201.3 1782.5 217.3 1784.6 233.3 1785.9C249.2 1787.1 265.2 1788.1 281.2 1788.9C297.2 1789.8 313.1 1790.6 329.1 1790.8C345.1 1791 361.1 1790.2 377 1790.1C393 1790.1 409 1790.4 425 1790.6C440.9 1790.7 456.9 1791.2 472.9 1791C488.9 1790.9 504.8 1790.9 520.8 1789.6C536.8 1788.4 552.8 1785.4 568.7 1783.7C584.7 1782.1 600.7 1780.2 616.7 1779.6C632.7 1779 648.6 1779.7 664.6 1780.1C680.6 1780.6 696.6 1780.9 712.5 1782.4C728.5 1784 744.5 1787.5 760.5 1789.6C776.4 1791.6 792.4 1794.3 808.4 1795C824.4 1795.7 840.3 1794.5 856.3 1793.9C872.3 1793.3 888.3 1792.6 904.2 1791.3C920.2 1790.1 936.2 1787.9 952.2 1786.4C968.1 1785 992.1 1783.4 1000.1 1782.8" fill="none" stroke="#999a9c" stroke-width="4.4" stroke-linecap="round"/>
<path d="M36.2 1800.5C44.1 1799.7 67.7 1796.9 83.4 1795.6C99.2 1794.3 114.9 1793.2 130.6 1792.6C146.3 1792 162.1 1791.5 177.8 1792.1C193.5 1792.7 209.3 1794.5 225 1796.3C240.7 1798.1 256.4 1800.8 272.2 1802.9C287.9 1805 303.6 1808.1 319.4 1808.9C335.1 1809.7 350.8 1808.3 366.5 1807.7C382.3 1807.2 398 1806.3 413.7 1805.4C429.5 1804.6 445.2 1803.3 460.9 1802.6C476.7 1802 492.4 1802.5 508.1 1801.7C523.8 1800.9 539.6 1798.9 555.3 1797.8C571 1796.7 586.8 1795.2 602.5 1794.9C618.2 1794.6 633.9 1795.9 649.7 1796.1C665.4 1796.3 681.1 1795.7 696.9 1796.3C712.6 1796.8 728.3 1797.9 744 1799.6C759.8 1801.3 775.5 1804.7 791.2 1806.3C807 1807.9 822.7 1808.7 838.4 1809.1C854.2 1809.5 869.9 1809.2 885.6 1808.8C901.3 1808.4 917.1 1808.2 932.8 1806.7C948.5 1805.1 972.1 1800.6 980 1799.4" fill="none" stroke="#999a9c" stroke-width="4.6" stroke-linecap="round"/>
<path d="M29 1810L34.5 1809.8L41.6 1809.6L50 1809.4L59.4 1809.1L69.5 1808.8L80 1808.5L90.6 1808.2L101 1808L110.9 1807.7L120 1807.5L128.5 1807.3L137 1807.1L145.4 1806.8L153.7 1806.6L161.8 1806.4L169.8 1806.2L177.7 1806.1L185.3 1806L192.8 1806.1L200 1806.3L206.9 1806.6L213.6 1807.1L220 1807.6L226.3 1808.2L232.4 1808.9L238.4 1809.6L244.3 1810.4L250.1 1811.1L256 1811.8L262 1812.5L267.9 1813.2L273.5 1813.9L279 1814.6L284.4 1815.4L289.9 1816.1L295.4 1816.8L301.1 1817.5L307.1 1818.1L313.3 1818.6L320 1819L327.1 1819.3L334.6 1819.5L342.4 1819.7L350.4 1819.8L358.6 1819.8L366.9 1819.8L375.3 1819.8L383.6 1819.7L391.9 1819.6L400 1819.5L407.8 1819.4L415.3 1819.3L422.7 1819.3L430 1819.2L437.4 1819L445 1818.8L453 1818.5L461.4 1818.2L470.3 1817.6L480 1817L490.6 1816.1L502.1 1814.9L514.3 1813.5L526.9 1812L539.9 1810.5L552.9 1809L565.7 1807.6L578.1 1806.4L590 1805.5L601 1805L611.1 1804.8L620.5 1805L629.3 1805.3L637.7 1805.8L646 1806.5L654.3 1807.3L662.7 1808.2L671.5 1809.1L680.9 1810.1L691 1811L702 1812L713.7 1813.3L726 1814.7L738.6 1816.1L751.4 1817.6L764.3 1819.1L776.9 1820.4L789.2 1821.5L801 1822.4L812 1823L822.3 1823.3L831.9 1823.3L841.1 1823.1L850 1822.8L858.6 1822.3L867.2 1821.7L875.8 1821.1L884.5 1820.4L893.6 1819.7L903 1819L913.3 1818.3L924.4 1817.4L936.2 1816.4L948.2 1815.3L960.1 1814.2L971.5 1813.2L982.1 1812.2L991.6 1811.3L999.6 1810.6L1005.8 1810L1005.8 1890L29 1890Z" fill="#959698"/>
<rect x="29" y="1889.5" width="976.8" height="40" fill="url(#cl_fade)"/>
<path d="M29 1732C49.2 1731.9 99.8 1731.7 150 1731.5C200.2 1731.3 275 1731 330 1731C385 1731 430 1730.9 480 1731.2C530 1731.5 580 1731.5 630 1732.7C680 1734 735 1738.2 780 1738.7C825 1739.2 862.4 1737.5 900 1735.7C937.6 1733.9 988.2 1729.3 1005.8 1728" fill="none" stroke="#5c5c5e" stroke-width="2.2"/>
<path d="M29 1810C44.2 1809.6 91.5 1808.1 120 1807.5C148.5 1806.9 176.3 1805.5 200 1806.3C223.7 1807.1 242 1810.4 262 1812.5C282 1814.6 297 1817.8 320 1819C343 1820.2 373.3 1819.8 400 1819.5C426.7 1819.2 446.5 1819.4 480 1817C513.5 1814.6 565.8 1806 601 1805C636.2 1804 655.8 1808 691 1811C726.2 1814 776.7 1821.7 812 1823C847.3 1824.3 870.7 1821.2 903 1819C935.3 1816.8 988.7 1811.5 1005.8 1810" fill="none" stroke="#58585a" stroke-width="4" stroke-linecap="round"/>
<g clip-path="url(#cl_clip)">
<path d="M-23 1876C-23 1843.2 2.3 1820 38 1820C73.7 1820 99 1843.2 99 1876C99 1911.8 77 1932 38 1932C-1 1932 -23 1911.8 -23 1876Z" fill="#a6a7a9" stroke="#58585a" stroke-width="3.2"/>
<ellipse cx="43" cy="1888" rx="21" ry="21" fill="#c5c6c8" stroke="#5c5c5e" stroke-width="2.3" transform="rotate(0 43 1888)"/>
<ellipse cx="40" cy="1889" rx="5.6" ry="5.2" fill="#858586"/>
<path d="M103.6 1876.5C103.6 1841.6 130.5 1816.9 168.4 1816.9C206.3 1816.9 233.2 1841.6 233.2 1876.5C233.2 1914.6 209.9 1936.1 168.4 1936.1C126.9 1936.1 103.6 1914.6 103.6 1876.5Z" fill="#a6a7a9" stroke="#58585a" stroke-width="3.2"/>
<ellipse cx="169.4" cy="1876.5" rx="21" ry="23" fill="#c5c6c8" stroke="#5c5c5e" stroke-width="2.3" transform="rotate(20 169.4 1876.5)"/>
<ellipse cx="168.4" cy="1876.5" rx="5.6" ry="5.2" fill="#858586"/>
<path d="M236.6 1884C236.6 1851.6 264.2 1828.6 303 1828.6C341.8 1828.6 369.4 1851.6 369.4 1884C369.4 1919.5 345.5 1939.4 303 1939.4C260.5 1939.4 236.6 1919.5 236.6 1884Z" fill="#a6a7a9" stroke="#58585a" stroke-width="3.2"/>
<ellipse cx="306" cy="1884" rx="17" ry="19" fill="#c5c6c8" stroke="#5c5c5e" stroke-width="2.3" transform="rotate(25 306 1884)"/>
<ellipse cx="309" cy="1884" rx="5.6" ry="5.2" fill="#858586"/>
<path d="M376 1885C376 1854 400.8 1832 435.7 1832C470.6 1832 495.4 1854 495.4 1885C495.4 1918.9 473.9 1938 435.7 1938C397.5 1938 376 1918.9 376 1885Z" fill="#a6a7a9" stroke="#58585a" stroke-width="3.2"/>
<ellipse cx="437.7" cy="1889" rx="19" ry="20" fill="#c5c6c8" stroke="#5c5c5e" stroke-width="2.3" transform="rotate(25 437.7 1889)"/>
<ellipse cx="440.7" cy="1890" rx="5.6" ry="5.2" fill="#858586"/>
<path d="M500.5 1884.5C500.5 1851.4 528.8 1827.9 568.8 1827.9C608.8 1827.9 637.1 1851.4 637.1 1884.5C637.1 1920.7 612.5 1941.1 568.8 1941.1C525.1 1941.1 500.5 1920.7 500.5 1884.5Z" fill="#a6a7a9" stroke="#58585a" stroke-width="3.2"/>
<ellipse cx="566.8" cy="1888.5" rx="15.5" ry="18.5" fill="#c5c6c8" stroke="#5c5c5e" stroke-width="2.3" transform="rotate(-10 566.8 1888.5)"/>
<ellipse cx="566.8" cy="1891.5" rx="5.6" ry="5.2" fill="#858586"/>
<path d="M643.2 1884.5C643.2 1854.1 668.3 1832.5 703.6 1832.5C738.9 1832.5 764 1854.1 764 1884.5C764 1917.8 742.3 1936.5 703.6 1936.5C664.9 1936.5 643.2 1917.8 643.2 1884.5Z" fill="#a6a7a9" stroke="#58585a" stroke-width="3.2"/>
<ellipse cx="704.6" cy="1885.5" rx="20" ry="14" fill="#c5c6c8" stroke="#5c5c5e" stroke-width="2.3" transform="rotate(-32 704.6 1885.5)"/>
<ellipse cx="704.6" cy="1880.5" rx="5.6" ry="5.2" fill="#858586"/>
<path d="M768.5 1885.3C768.5 1855.2 793 1833.9 827.5 1833.9C862 1833.9 886.5 1855.2 886.5 1885.3C886.5 1918.2 865.3 1936.7 827.5 1936.7C789.7 1936.7 768.5 1918.2 768.5 1885.3Z" fill="#a6a7a9" stroke="#58585a" stroke-width="3.2"/>
<ellipse cx="824.5" cy="1885.3" rx="14.5" ry="18.5" fill="#c5c6c8" stroke="#5c5c5e" stroke-width="2.3" transform="rotate(-8 824.5 1885.3)"/>
<ellipse cx="825.5" cy="1887.3" rx="5.6" ry="5.2" fill="#858586"/>
<path d="M892.5 1888.3C892.5 1863.6 908.8 1846 931.8 1846C954.8 1846 971.1 1863.6 971.1 1888.3C971.1 1915.4 957 1930.6 931.8 1930.6C906.6 1930.6 892.5 1915.4 892.5 1888.3Z" fill="#a6a7a9" stroke="#58585a" stroke-width="3.2"/>
<ellipse cx="928.8" cy="1888.3" rx="14.5" ry="12.7" fill="#c5c6c8" stroke="#5c5c5e" stroke-width="2.3" transform="rotate(0 928.8 1888.3)"/>
<ellipse cx="929.8" cy="1889.3" rx="5.6" ry="5.2" fill="#858586"/>
<path d="M973 1881C973 1853.5 992.5 1834 1020 1834C1047.5 1834 1067 1853.5 1067 1881C1067 1911.1 1050.1 1928 1020 1928C989.9 1928 973 1911.1 973 1881Z" fill="#a6a7a9" stroke="#58585a" stroke-width="3.2"/>
</g>
<path d="M29 1682.8C31.7 1682.5 39 1681.2 45 1681.3C51 1681.4 59.7 1682.4 64.8 1683.5C69.8 1684.6 72.2 1687.5 75.5 1687.8C78.8 1688.1 82.4 1686.6 84.5 1685.3C86.6 1684 86.9 1682.1 88.3 1679.9C89.7 1677.8 91.2 1675.2 92.6 1672.6C94 1669.9 95.3 1667.3 96.5 1663.8C97.8 1660.4 100.1 1655.1 100 1651.8C100 1648.5 97.6 1646.2 96.1 1643.9C94.7 1641.6 92.3 1640.1 91.5 1637.9C90.7 1635.8 90.5 1633.1 91.1 1630.9C91.6 1628.6 93.2 1626.2 94.9 1624.5C96.7 1622.9 99.5 1621.6 101.5 1620.8C103.5 1620.1 105.2 1620 107.1 1620C109 1620 110.7 1620.1 112.7 1620.8C114.7 1621.6 117.5 1622.9 119.3 1624.5C121 1626.2 122.6 1628.6 123.1 1630.9C123.7 1633.1 123.5 1635.8 122.7 1637.9C121.9 1640.1 119.5 1641.6 118.1 1643.9C116.6 1646.2 115.3 1648.5 114.2 1651.8C113 1655.1 112.1 1660.4 111.4 1663.8C110.7 1667.3 110.2 1669.9 109.8 1672.6C109.4 1675.2 109.3 1677.8 109.2 1679.9C109.1 1682.1 107.8 1683.9 109.3 1685.3C110.8 1686.7 114 1688.6 118.3 1688.3C122.6 1688 129.5 1684.2 135 1683.7C140.6 1683.2 147.6 1684.7 151.8 1685.3C155.9 1686 157.1 1687.8 160 1687.8C162.9 1687.8 166.9 1686.9 169 1685.3C171.1 1683.7 171.4 1680.9 172.7 1678C173.9 1675.1 175.3 1671.5 176.4 1667.9C177.5 1664.2 178.4 1660.7 179.2 1656C179.9 1651.2 181.2 1643.7 180.9 1639.5C180.6 1635.2 178.8 1633 177.6 1630.3C176.3 1627.7 174.2 1626 173.5 1623.5C172.8 1621 172.6 1617.9 173.1 1615.3C173.6 1612.7 175 1610 176.5 1608C178 1606.1 180.5 1604.6 182.3 1603.8C184.1 1602.9 185.6 1602.8 187.2 1602.8C188.8 1602.8 190.3 1602.9 192.1 1603.8C193.9 1604.6 196.4 1606.1 197.9 1608C199.4 1610 200.8 1612.7 201.3 1615.3C201.8 1617.9 201.6 1621 200.9 1623.5C200.2 1626 198.1 1627.7 196.8 1630.3C195.6 1633 194.2 1635.2 193.5 1639.5C192.8 1643.7 192.9 1651.2 192.9 1656C193 1660.7 193.3 1664.2 193.7 1667.9C194.2 1671.5 195 1675.1 195.7 1678C196.4 1680.9 196.1 1683.6 198 1685.3C199.9 1687 202.1 1688.5 207 1688.3C211.9 1688.1 220.8 1684.2 227.7 1683.9C234.5 1683.7 242.8 1686.1 248.3 1686.7C253.8 1687.4 257.1 1688 260.6 1687.8C264.1 1687.6 267.5 1687.2 269.6 1685.3C271.7 1683.4 272.2 1679.9 273.5 1676.4C274.7 1672.9 276.2 1668.6 277.2 1664.2C278.3 1659.7 279.1 1655.5 279.7 1649.7C280.3 1644 281.4 1634.8 280.8 1629.7C280.2 1624.6 277.9 1622.3 276.2 1619.3C274.6 1616.2 271.8 1614.3 270.8 1611.4C269.9 1608.5 269.7 1605 270.3 1602C271 1599.1 272.8 1595.9 274.8 1593.7C276.8 1591.5 280.1 1589.8 282.5 1588.8C284.8 1587.8 286.8 1587.7 289 1587.7C291.2 1587.7 293.2 1587.8 295.5 1588.8C297.9 1589.8 301.2 1591.5 303.2 1593.7C305.2 1595.9 307 1599.1 307.7 1602C308.3 1605 308.1 1608.5 307.2 1611.4C306.2 1614.3 303.4 1616.2 301.8 1619.3C300.1 1622.3 297.9 1624.6 297.2 1629.7C296.5 1634.8 297.2 1644 297.5 1649.7C297.9 1655.5 298.6 1659.7 299.4 1664.2C300.2 1668.6 301.5 1672.9 302.6 1676.4C303.7 1679.9 303.9 1683.3 306 1685.3C308.1 1687.3 310.1 1688.7 315 1688.3C319.9 1687.9 328.4 1683.5 335.1 1682.8C341.8 1682.1 349.9 1683.2 355.3 1684.1C360.6 1685.1 363.5 1688.2 367 1688.5C370.5 1688.9 374.1 1687.8 376 1686C377.9 1684.3 377.7 1681.3 378.5 1678.2C379.3 1675.1 380.2 1671.3 380.8 1667.4C381.3 1663.5 381.7 1659.7 381.9 1654.6C382 1649.6 382.4 1641.6 381.7 1637C380.9 1632.3 378.9 1629.6 377.4 1626.6C375.8 1623.5 373.2 1621.6 372.3 1618.8C371.4 1615.9 371.2 1612.4 371.8 1609.5C372.4 1606.5 374.1 1603.4 376 1601.2C377.9 1599 381 1597.3 383.2 1596.3C385.5 1595.3 387.3 1595.2 389.4 1595.2C391.5 1595.2 393.3 1595.3 395.6 1596.3C397.8 1597.3 400.9 1599 402.8 1601.2C404.7 1603.4 406.4 1606.5 407 1609.5C407.6 1612.4 407.4 1615.9 406.5 1618.8C405.6 1621.6 403 1623.5 401.4 1626.6C399.9 1629.6 397.6 1632.3 397.1 1637C396.7 1641.6 397.9 1649.6 398.5 1654.6C399.2 1659.7 400 1663.5 401 1667.4C402 1671.3 403.4 1675.1 404.5 1678.2C405.7 1681.3 405.9 1684.2 408 1686C410.1 1687.8 412.4 1688.9 417 1689C421.6 1689.2 429.5 1687.4 435.8 1687.1C442.1 1686.8 449.8 1686.6 454.6 1687.1C459.5 1687.6 461.8 1690.1 465 1690.2C468.2 1690.2 471.5 1689.4 474 1687.7C476.5 1685.9 478 1682.8 480.2 1679.6C482.5 1676.4 485.1 1672.5 487.4 1668.5C489.8 1664.4 492 1660.6 494.2 1655.4C496.4 1650.2 500.2 1641.8 500.7 1637.2C501.2 1632.6 498.5 1630.4 497.2 1627.6C496 1624.8 493.9 1623.1 493.1 1620.4C492.4 1617.8 492.2 1614.6 492.7 1611.8C493.2 1609.1 494.6 1606.2 496.2 1604.2C497.7 1602.2 500.2 1600.6 502 1599.7C503.8 1598.8 505.3 1598.7 507 1598.7C508.7 1598.7 510.2 1598.8 512 1599.7C513.8 1600.6 516.3 1602.2 517.8 1604.2C519.4 1606.2 520.8 1609.1 521.3 1611.8C521.8 1614.6 521.6 1617.8 520.9 1620.4C520.1 1623.1 518 1624.8 516.8 1627.6C515.5 1630.4 514.8 1632.6 513.3 1637.2C511.8 1641.8 509.4 1650.2 507.9 1655.4C506.4 1660.6 505.3 1664.4 504.3 1668.5C503.4 1672.5 502.8 1676.4 502.3 1679.6C501.8 1682.8 500.1 1685.8 501.5 1687.7C502.9 1689.5 505.9 1690.9 510.5 1690.7C515.1 1690.4 522.7 1686 528.8 1686.3C534.9 1686.6 542.4 1691.6 547.1 1692.4C551.8 1693.3 553.9 1692 557 1691.5C560.1 1690.9 563.7 1690.7 566 1689C568.3 1687.2 569.1 1684 570.8 1680.8C572.5 1677.6 574.4 1673.7 576.1 1669.6C577.7 1665.5 579.1 1661.6 580.5 1656.4C581.8 1651.1 583.9 1642.7 584 1638C584.1 1633.4 582.2 1631.2 581.1 1628.4C579.9 1625.6 577.9 1623.9 577.2 1621.2C576.5 1618.6 576.3 1615.4 576.8 1612.6C577.3 1609.9 578.6 1607 580 1605C581.5 1603 583.9 1601.4 585.6 1600.5C587.3 1599.6 588.7 1599.5 590.3 1599.5C591.9 1599.5 593.3 1599.6 595 1600.5C596.7 1601.4 599.1 1603 600.6 1605C602 1607 603.3 1609.9 603.8 1612.6C604.3 1615.4 604.1 1618.6 603.4 1621.2C602.7 1623.9 600.7 1625.6 599.5 1628.4C598.4 1631.2 597.5 1633.4 596.6 1638C595.7 1642.7 594.8 1651.1 594.2 1656.4C593.7 1661.6 593.5 1665.5 593.5 1669.6C593.5 1673.7 593.8 1677.6 594.2 1680.8C594.5 1684 593.8 1687.1 595.5 1689C597.2 1690.8 599.9 1692.2 604.5 1692C609.1 1691.7 617 1687.4 623.2 1687.3C629.4 1687.3 637.1 1691.1 641.9 1691.8C646.8 1692.5 649 1692.1 652.2 1691.7C655.4 1691.3 658.8 1691.1 661.2 1689.2C663.6 1687.3 664.6 1683.8 666.5 1680.2C668.4 1676.6 670.6 1672.3 672.6 1667.8C674.6 1663.3 676.5 1659 678.4 1653.2C680.3 1647.4 683.8 1637.8 684 1633C684.2 1628.2 681.3 1626.7 679.8 1624.2C678.2 1621.6 675.7 1620 674.8 1617.5C673.9 1615.1 673.7 1612.1 674.3 1609.6C674.9 1607.1 676.6 1604.4 678.4 1602.6C680.3 1600.7 683.4 1599.3 685.5 1598.4C687.7 1597.6 689.6 1597.5 691.6 1597.5C693.6 1597.5 695.5 1597.6 697.7 1598.4C699.8 1599.3 702.9 1600.7 704.8 1602.6C706.6 1604.4 708.3 1607.1 708.9 1609.6C709.5 1612.1 709.3 1615.1 708.4 1617.5C707.5 1620 705 1621.6 703.4 1624.2C701.9 1626.7 700.7 1628.2 699.2 1633C697.7 1637.8 695.8 1647.4 694.5 1653.2C693.2 1659 692.2 1663.3 691.4 1667.8C690.5 1672.3 689.9 1676.6 689.5 1680.2C689 1683.8 687.3 1687.2 688.7 1689.2C690.1 1691.2 692.2 1692.5 697.7 1692.2C703.2 1691.9 713.6 1687.6 721.6 1687.4C729.5 1687.1 738.8 1690 745.4 1690.7C752 1691.4 756.9 1692 761 1691.7C765.1 1691.4 767.4 1691.2 770 1689.2C772.6 1687.2 774.4 1683.5 776.8 1679.7C779.1 1675.9 781.9 1671.4 784.1 1666.6C786.3 1661.9 788.4 1657.3 790.2 1651.1C792 1645 794.7 1634.7 794.9 1629.7C795 1624.8 792.5 1623.9 791.2 1621.6C789.9 1619.2 787.7 1617.6 786.9 1615.4C786.2 1613.1 786 1610.4 786.5 1608C787.1 1605.7 788.5 1603.2 790.1 1601.5C791.7 1599.8 794.3 1598.4 796.2 1597.7C798.1 1596.9 799.7 1596.8 801.4 1596.8C803.1 1596.8 804.7 1596.9 806.6 1597.7C808.5 1598.4 811.1 1599.8 812.7 1601.5C814.3 1603.2 815.7 1605.7 816.3 1608C816.8 1610.4 816.6 1613.1 815.9 1615.4C815.1 1617.6 812.9 1619.2 811.6 1621.6C810.3 1623.9 809 1624.8 807.9 1629.7C806.8 1634.7 805.6 1645 805 1651.1C804.4 1657.3 804.3 1661.9 804.4 1666.6C804.5 1671.4 805.1 1675.9 805.7 1679.7C806.3 1683.5 806.1 1687.1 808 1689.2C809.9 1691.3 812.3 1692.7 817 1692.2C821.7 1691.7 829.6 1686.5 835.9 1686.2C842.3 1686 850 1689.8 854.9 1690.7C859.8 1691.6 862.1 1691.9 865.4 1691.7C868.7 1691.5 872.1 1690.9 874.4 1689.2C876.7 1687.5 877.6 1684.6 879.3 1681.6C881 1678.7 883 1675 884.6 1671.3C886.2 1667.5 887.7 1663.9 889 1659C890.3 1654.1 892.4 1646.2 892.3 1642C892.3 1637.8 890 1636.1 888.6 1633.7C887.3 1631.3 885.1 1629.7 884.3 1627.4C883.5 1625.2 883.3 1622.4 883.8 1620C884.4 1617.7 885.8 1615.1 887.5 1613.4C889.1 1611.6 891.8 1610.3 893.7 1609.5C895.6 1608.7 897.2 1608.6 899 1608.6C900.8 1608.6 902.4 1608.7 904.3 1609.5C906.2 1610.3 908.9 1611.6 910.5 1613.4C912.2 1615.1 913.6 1617.7 914.2 1620C914.7 1622.4 914.5 1625.2 913.7 1627.4C912.9 1629.7 910.7 1631.3 909.4 1633.7C908 1636.1 906.6 1637.8 905.7 1642C904.7 1646.2 904 1654.1 903.6 1659C903.2 1663.9 903.1 1667.5 903.2 1671.3C903.3 1675 903.8 1678.7 904.3 1681.6C904.7 1684.6 904.2 1687.4 906 1689.2C907.8 1691 910.7 1692.2 915 1692.2C919.3 1692.2 927.6 1689.4 931.7 1689.3C935.8 1689.2 936.6 1691.7 939.4 1691.7C942.2 1691.7 946.4 1690.6 948.4 1689.2C950.4 1687.8 950.5 1685.6 951.6 1683.2C952.7 1680.9 954 1678 955.1 1675C956.2 1672.1 957.2 1669.2 958.2 1665.3C959.1 1661.5 960.5 1655.1 960.8 1651.9C961.1 1648.7 960.4 1647.8 959.7 1646.1C959 1644.4 957.2 1643.3 956.6 1641.7C956.1 1640.1 956 1638.1 956.3 1636.5C956.7 1634.9 957.8 1633.1 958.9 1631.8C960.1 1630.6 962 1629.7 963.3 1629.1C964.7 1628.6 965.8 1628.5 967.1 1628.5C968.4 1628.5 969.5 1628.6 970.9 1629.1C972.2 1629.7 974.1 1630.6 975.3 1631.8C976.4 1633.1 977.5 1634.9 977.9 1636.5C978.2 1638.1 978.1 1640.1 977.6 1641.7C977 1643.3 975.2 1644.4 974.5 1646.1C973.8 1647.8 973.9 1648.7 973.4 1651.9C972.9 1655.1 971.9 1661.5 971.5 1665.3C971 1669.2 970.7 1672.1 970.6 1675C970.4 1678 970.5 1680.9 970.5 1683.2C970.6 1685.6 969.4 1687.7 971 1689.2C972.6 1690.7 976.7 1692 980 1692.2C983.3 1692.4 987.5 1690.8 991 1690.2C994.5 1689.6 998.4 1688.4 1000.8 1688.7C1003.2 1689 1004.5 1690.1 1005.3 1692.2C1006.1 1694.3 1005.7 1699.7 1005.8 1701.2" fill="none" stroke="#58585a" stroke-width="7.6" stroke-linejoin="round" stroke-linecap="round"/>
<path d="M29 1682.8V1936M1005.8 1693.2V1936" stroke="#58585a" stroke-width="6" stroke-linecap="round" fill="none"/>
<path d="M1028.6 1682.8C1030.8 1682.5 1036.5 1681.1 1042 1681.3C1047.6 1681.5 1057 1682.7 1062.1 1683.8C1067.3 1684.9 1069.7 1687.5 1073.1 1687.8C1076.4 1688.1 1080 1686.6 1082.2 1685.3C1084.4 1684 1084.7 1682.1 1086.1 1679.9C1087.4 1677.8 1089.1 1675.2 1090.5 1672.6C1091.9 1669.9 1093.2 1667.3 1094.4 1663.8C1095.7 1660.4 1098.1 1655.1 1098 1651.8C1097.9 1648.5 1095.5 1646.2 1094 1643.9C1092.6 1641.6 1090.2 1640.1 1089.3 1637.9C1088.5 1635.8 1088.3 1633.1 1088.9 1630.9C1089.5 1628.6 1091 1626.2 1092.8 1624.5C1094.6 1622.9 1097.4 1621.6 1099.5 1620.8C1101.5 1620.1 1103.3 1620 1105.2 1620C1107.1 1620 1108.8 1620.1 1110.9 1620.8C1112.9 1621.6 1115.8 1622.9 1117.6 1624.5C1119.3 1626.2 1120.9 1628.6 1121.5 1630.9C1122.1 1633.1 1121.9 1635.8 1121 1637.9C1120.2 1640.1 1117.8 1641.6 1116.3 1643.9C1114.9 1646.2 1113.5 1648.5 1112.4 1651.8C1111.2 1655.1 1110.3 1660.4 1109.5 1663.8C1108.8 1667.3 1108.3 1669.9 1107.9 1672.6C1107.6 1675.2 1107.4 1677.8 1107.3 1679.9C1107.2 1682.1 1105.9 1683.9 1107.4 1685.3C1109 1686.7 1112.2 1688.8 1116.6 1688.3C1120.9 1687.8 1127.9 1682.6 1133.6 1682.3C1139.2 1682.1 1146.4 1686 1150.6 1686.9C1154.8 1687.8 1156 1688.1 1159 1687.8C1161.9 1687.5 1166 1686.9 1168.1 1685.3C1170.3 1683.7 1170.6 1680.9 1171.8 1678C1173.1 1675.1 1174.5 1671.5 1175.6 1667.9C1176.7 1664.2 1177.7 1660.7 1178.5 1656C1179.2 1651.2 1180.5 1643.7 1180.2 1639.5C1179.9 1635.2 1178.1 1633 1176.8 1630.3C1175.6 1627.7 1173.4 1626 1172.7 1623.5C1171.9 1621 1171.8 1617.9 1172.3 1615.3C1172.8 1612.7 1174.2 1610 1175.7 1608C1177.3 1606.1 1179.8 1604.6 1181.6 1603.8C1183.4 1602.9 1184.9 1602.8 1186.6 1602.8C1188.3 1602.8 1189.8 1602.9 1191.6 1603.8C1193.4 1604.6 1195.9 1606.1 1197.5 1608C1199 1610 1200.4 1612.7 1200.9 1615.3C1201.4 1617.9 1201.3 1621 1200.5 1623.5C1199.8 1626 1197.7 1627.7 1196.4 1630.3C1195.2 1633 1193.7 1635.2 1193 1639.5C1192.4 1643.7 1192.4 1651.2 1192.4 1656C1192.5 1660.7 1192.8 1664.2 1193.3 1667.9C1193.7 1671.5 1194.5 1675.1 1195.2 1678C1196 1680.9 1195.7 1683.6 1197.6 1685.3C1199.5 1687 1201.7 1688.8 1206.7 1688.3C1211.8 1687.8 1220.7 1682.4 1227.7 1682.1C1234.7 1681.7 1243.2 1685.3 1248.7 1686.2C1254.3 1687.2 1257.6 1688 1261.2 1687.8C1264.8 1687.6 1268.2 1687.2 1270.4 1685.3C1272.6 1683.4 1273 1679.9 1274.3 1676.4C1275.6 1672.9 1277.1 1668.6 1278.1 1664.2C1279.2 1659.7 1280.1 1655.5 1280.7 1649.7C1281.3 1644 1282.4 1634.8 1281.8 1629.7C1281.2 1624.6 1278.8 1622.3 1277.1 1619.3C1275.4 1616.2 1272.6 1614.3 1271.6 1611.4C1270.6 1608.5 1270.4 1605 1271.1 1602C1271.8 1599.1 1273.6 1595.9 1275.7 1593.7C1277.7 1591.5 1281.1 1589.8 1283.5 1588.8C1285.9 1587.8 1287.9 1587.7 1290.1 1587.7C1292.3 1587.7 1294.3 1587.8 1296.8 1588.8C1299.2 1589.8 1302.5 1591.5 1304.5 1593.7C1306.6 1595.9 1308.4 1599.1 1309.1 1602C1309.8 1605 1309.6 1608.5 1308.6 1611.4C1307.6 1614.3 1304.8 1616.2 1303.1 1619.3C1301.4 1622.3 1299.2 1624.6 1298.5 1629.7C1297.7 1634.8 1298.4 1644 1298.8 1649.7C1299.2 1655.5 1299.8 1659.7 1300.7 1664.2C1301.5 1668.6 1302.8 1672.9 1303.9 1676.4C1305 1679.9 1305.3 1683.3 1307.4 1685.3C1309.5 1687.3 1311.6 1688.5 1316.5 1688.3C1321.5 1688.1 1330.2 1684.5 1337 1683.8C1343.8 1683.2 1352.1 1683.6 1357.5 1684.4C1362.9 1685.1 1365.9 1688.3 1369.4 1688.5C1372.9 1688.8 1376.6 1687.8 1378.6 1686C1380.5 1684.3 1380.3 1681.3 1381.1 1678.2C1381.9 1675.1 1382.8 1671.3 1383.4 1667.4C1384 1663.5 1384.4 1659.7 1384.5 1654.6C1384.7 1649.6 1385.1 1641.6 1384.3 1637C1383.5 1632.3 1381.5 1629.6 1379.9 1626.6C1378.3 1623.5 1375.7 1621.6 1374.8 1618.8C1373.8 1615.9 1373.6 1612.4 1374.3 1609.5C1374.9 1606.5 1376.6 1603.4 1378.6 1601.2C1380.5 1599 1383.7 1597.3 1385.9 1596.3C1388.2 1595.3 1390.1 1595.2 1392.2 1595.2C1394.3 1595.2 1396.2 1595.3 1398.4 1596.3C1400.7 1597.3 1403.8 1599 1405.8 1601.2C1407.7 1603.4 1409.4 1606.5 1410.1 1609.5C1410.7 1612.4 1410.5 1615.9 1409.6 1618.8C1408.6 1621.6 1406 1623.5 1404.4 1626.6C1402.8 1629.6 1400.5 1632.3 1400 1637C1399.6 1641.6 1400.8 1649.6 1401.5 1654.6C1402.1 1659.7 1403 1663.5 1404 1667.4C1405 1671.3 1406.4 1675.1 1407.5 1678.2C1408.7 1681.3 1409 1684.2 1411.1 1686C1413.2 1687.8 1415.5 1689.1 1420.2 1689C1425 1689 1433 1686.5 1439.4 1685.9C1445.7 1685.4 1453.5 1685.2 1458.5 1685.9C1463.4 1686.6 1465.8 1689.9 1469 1690.2C1472.3 1690.4 1475.6 1689.4 1478.2 1687.7C1480.8 1685.9 1482.2 1682.8 1484.5 1679.6C1486.8 1676.4 1489.5 1672.5 1491.9 1668.5C1494.2 1664.4 1496.5 1660.6 1498.8 1655.4C1501 1650.2 1504.8 1641.8 1505.3 1637.2C1505.8 1632.6 1503.1 1630.4 1501.8 1627.6C1500.5 1624.8 1498.4 1623.1 1497.6 1620.4C1496.9 1617.8 1496.7 1614.6 1497.2 1611.8C1497.7 1609.1 1499.1 1606.2 1500.7 1604.2C1502.3 1602.2 1504.8 1600.6 1506.7 1599.7C1508.5 1598.8 1510 1598.7 1511.7 1598.7C1513.4 1598.7 1515 1598.8 1516.8 1599.7C1518.7 1600.6 1521.2 1602.2 1522.8 1604.2C1524.3 1606.2 1525.7 1609.1 1526.3 1611.8C1526.8 1614.6 1526.6 1617.8 1525.9 1620.4C1525.1 1623.1 1523 1624.8 1521.7 1627.6C1520.4 1630.4 1519.6 1632.6 1518.1 1637.2C1516.6 1641.8 1514.1 1650.2 1512.6 1655.4C1511.1 1660.6 1510 1664.4 1509 1668.5C1508.1 1672.5 1507.4 1676.4 1506.9 1679.6C1506.5 1682.8 1504.8 1685.8 1506.1 1687.7C1507.5 1689.5 1510.7 1690.8 1515.3 1690.7C1519.9 1690.5 1527.7 1687.5 1533.9 1687C1540.1 1686.4 1547.8 1686.6 1552.5 1687.3C1557.3 1688.1 1559.4 1691.2 1562.6 1691.5C1565.8 1691.7 1569.4 1690.7 1571.7 1689C1574.1 1687.2 1574.9 1684 1576.6 1680.8C1578.3 1677.6 1580.3 1673.7 1581.9 1669.6C1583.6 1665.5 1585.1 1661.6 1586.4 1656.4C1587.8 1651.1 1589.9 1642.7 1590 1638C1590.1 1633.4 1588.2 1631.2 1587 1628.4C1585.9 1625.6 1583.8 1623.9 1583.1 1621.2C1582.4 1618.6 1582.2 1615.4 1582.7 1612.6C1583.2 1609.9 1584.5 1607 1586 1605C1587.5 1603 1589.9 1601.4 1591.6 1600.5C1593.4 1599.6 1594.8 1599.5 1596.4 1599.5C1598 1599.5 1599.5 1599.6 1601.2 1600.5C1603 1601.4 1605.4 1603 1606.8 1605C1608.3 1607 1609.7 1609.9 1610.1 1612.6C1610.6 1615.4 1610.5 1618.6 1609.8 1621.2C1609 1623.9 1607 1625.6 1605.8 1628.4C1604.7 1631.2 1603.7 1633.4 1602.8 1638C1601.9 1642.7 1601 1651.1 1600.4 1656.4C1599.9 1661.6 1599.7 1665.5 1599.7 1669.6C1599.7 1673.7 1600 1677.6 1600.3 1680.8C1600.7 1684 1600 1687.1 1601.7 1689C1603.5 1690.8 1606.2 1692.5 1610.9 1692C1615.6 1691.5 1623.5 1686.4 1629.9 1686C1636.2 1685.6 1644 1688.6 1648.9 1689.5C1653.8 1690.5 1656.1 1691.8 1659.4 1691.7C1662.6 1691.6 1666.1 1691.1 1668.5 1689.2C1670.9 1687.3 1671.9 1683.8 1673.9 1680.2C1675.8 1676.6 1678.1 1672.3 1680.1 1667.8C1682.1 1663.3 1684.1 1659 1686 1653.2C1687.9 1647.4 1691.4 1637.8 1691.7 1633C1691.9 1628.2 1688.9 1626.7 1687.4 1624.2C1685.8 1621.6 1683.2 1620 1682.3 1617.5C1681.4 1615.1 1681.2 1612.1 1681.8 1609.6C1682.4 1607.1 1684.1 1604.4 1686 1602.6C1687.9 1600.7 1691 1599.3 1693.3 1598.4C1695.5 1597.6 1697.4 1597.5 1699.4 1597.5C1701.5 1597.5 1703.3 1597.6 1705.6 1598.4C1707.8 1599.3 1710.9 1600.7 1712.8 1602.6C1714.7 1604.4 1716.4 1607.1 1717 1609.6C1717.6 1612.1 1717.4 1615.1 1716.5 1617.5C1715.6 1620 1713 1621.6 1711.4 1624.2C1709.9 1626.7 1708.7 1628.2 1707.1 1633C1705.6 1637.8 1703.7 1647.4 1702.4 1653.2C1701 1659 1700 1663.3 1699.2 1667.8C1698.3 1672.3 1697.7 1676.6 1697.3 1680.2C1696.8 1683.8 1695.1 1687.2 1696.5 1689.2C1697.9 1691.2 1700 1692.3 1705.6 1692.2C1711.2 1692.1 1721.8 1689.3 1729.9 1688.6C1738 1687.9 1747.4 1687.4 1754.1 1687.9C1760.8 1688.4 1765.8 1691.5 1770 1691.7C1774.1 1691.9 1776.4 1691.2 1779.1 1689.2C1781.8 1687.2 1783.6 1683.5 1786 1679.7C1788.4 1675.9 1791.2 1671.4 1793.5 1666.6C1795.7 1661.9 1797.8 1657.3 1799.6 1651.1C1801.4 1645 1804.2 1634.7 1804.4 1629.7C1804.6 1624.8 1802 1623.9 1800.7 1621.6C1799.4 1619.2 1797.1 1617.6 1796.3 1615.4C1795.5 1613.1 1795.4 1610.4 1795.9 1608C1796.5 1605.7 1797.9 1603.2 1799.6 1601.5C1801.2 1599.8 1803.8 1598.4 1805.8 1597.7C1807.7 1596.9 1809.3 1596.8 1811 1596.8C1812.8 1596.8 1814.4 1596.9 1816.3 1597.7C1818.2 1598.4 1820.9 1599.8 1822.5 1601.5C1824.2 1603.2 1825.6 1605.7 1826.2 1608C1826.7 1610.4 1826.5 1613.1 1825.7 1615.4C1824.9 1617.6 1822.7 1619.2 1821.4 1621.6C1820 1623.9 1818.8 1624.8 1817.7 1629.7C1816.6 1634.7 1815.3 1645 1814.7 1651.1C1814.1 1657.3 1813.9 1661.9 1814.1 1666.6C1814.2 1671.4 1814.8 1675.9 1815.4 1679.7C1816 1683.5 1815.8 1687.1 1817.7 1689.2C1819.7 1691.3 1822.2 1692.7 1826.9 1692.2C1831.6 1691.7 1839.7 1686.7 1846.2 1686.5C1852.6 1686.2 1860.4 1689.8 1865.4 1690.7C1870.4 1691.5 1872.8 1691.9 1876.1 1691.7C1879.4 1691.5 1882.9 1690.9 1885.3 1689.2C1887.6 1687.5 1888.5 1684.6 1890.3 1681.6C1892 1678.7 1894 1675 1895.6 1671.3C1897.3 1667.5 1898.8 1663.9 1900.1 1659C1901.4 1654.1 1903.5 1646.2 1903.5 1642C1903.4 1637.8 1901.1 1636.1 1899.7 1633.7C1898.3 1631.3 1896.1 1629.7 1895.3 1627.4C1894.5 1625.2 1894.3 1622.4 1894.8 1620C1895.4 1617.7 1896.9 1615.1 1898.5 1613.4C1900.2 1611.6 1902.9 1610.3 1904.9 1609.5C1906.8 1608.7 1908.5 1608.6 1910.3 1608.6C1912.1 1608.6 1913.7 1608.7 1915.6 1609.5C1917.6 1610.3 1920.3 1611.6 1922 1613.4C1923.6 1615.1 1925.1 1617.7 1925.7 1620C1926.2 1622.4 1926.1 1625.2 1925.2 1627.4C1924.4 1629.7 1922.2 1631.3 1920.8 1633.7C1919.4 1636.1 1918 1637.8 1917 1642C1916.1 1646.2 1915.3 1654.1 1914.9 1659C1914.5 1663.9 1914.4 1667.5 1914.6 1671.3C1914.7 1675 1915.1 1678.7 1915.6 1681.6C1916.1 1684.6 1915.6 1687.4 1917.4 1689.2C1919.2 1691 1922.2 1692.1 1926.5 1692.2C1930.9 1692.3 1939.4 1689.6 1943.5 1689.5C1947.6 1689.5 1948.5 1691.8 1951.3 1691.7C1954.2 1691.6 1958.4 1690.6 1960.5 1689.2C1962.5 1687.8 1962.6 1685.6 1963.7 1683.2C1964.8 1680.9 1966.2 1678 1967.3 1675C1968.4 1672.1 1969.4 1669.2 1970.4 1665.3C1971.4 1661.5 1972.8 1655.1 1973.1 1651.9C1973.4 1648.7 1972.7 1647.8 1972 1646.1C1971.3 1644.4 1969.4 1643.3 1968.9 1641.7C1968.3 1640.1 1968.2 1638.1 1968.6 1636.5C1968.9 1634.9 1970 1633.1 1971.2 1631.8C1972.4 1630.6 1974.3 1629.7 1975.7 1629.1C1977.1 1628.6 1978.2 1628.5 1979.5 1628.5C1980.8 1628.5 1981.9 1628.6 1983.3 1629.1C1984.7 1629.7 1986.6 1630.6 1987.8 1631.8C1989 1633.1 1990 1634.9 1990.4 1636.5C1990.8 1638.1 1990.7 1640.1 1990.1 1641.7C1989.6 1643.3 1987.7 1644.4 1987 1646.1C1986.3 1647.8 1986.4 1648.7 1985.9 1651.9C1985.4 1655.1 1984.4 1661.5 1983.9 1665.3C1983.5 1669.2 1983.2 1672.1 1983 1675C1982.9 1678 1982.9 1680.9 1983 1683.2C1983 1685.6 1981.9 1687.7 1983.5 1689.2C1985.1 1690.7 1989.2 1692 1992.6 1692.2C1996 1692.4 2000.2 1690.8 2003.8 1690.2C2007.4 1689.6 2011.8 1688.4 2014.3 1688.7C2016.8 1689 2018 1690.1 2018.8 1692.2C2019.6 1694.3 2019.2 1699.7 2019.3 1701.2L2019.3 2020L1028.6 2020Z" fill="#b5b6b8"/>
<path d="M1028.6 1777L1035.5 1777L1043.9 1776.9L1053.8 1776.9L1065 1776.8L1077.3 1776.8L1090.4 1776.7L1104.3 1776.7L1118.8 1776.6L1133.7 1776.6L1148.8 1776.5L1164.7 1776.4L1181.9 1776.4L1200 1776.3L1218.9 1776.3L1238.3 1776.2L1257.8 1776.1L1277.2 1776.1L1296.1 1776.1L1314.4 1776L1331.8 1776L1348.3 1776L1364.2 1776L1379.8 1776L1395 1776L1409.9 1776L1424.8 1776L1439.5 1776L1454.3 1776.1L1469.2 1776.1L1484.3 1776.2L1499.5 1776.3L1514.8 1776.3L1530 1776.4L1545.3 1776.5L1560.5 1776.6L1575.8 1776.7L1591 1776.9L1606.3 1777.1L1621.5 1777.4L1636.8 1777.7L1652.2 1778.2L1667.8 1778.8L1683.5 1779.5L1699.2 1780.2L1714.9 1781L1730.5 1781.7L1745.8 1782.4L1760.7 1783L1775.3 1783.4L1789.3 1783.7L1802.8 1783.8L1815.9 1783.8L1828.6 1783.6L1840.9 1783.4L1853.1 1783.1L1864.9 1782.7L1876.7 1782.2L1888.3 1781.7L1899.8 1781.2L1911.3 1780.7L1923.1 1780.1L1935.5 1779.3L1948.1 1778.5L1960.7 1777.6L1972.9 1776.7L1984.5 1775.8L1995.3 1774.9L2004.8 1774.1L2012.9 1773.5L2019.3 1773L2019.3 1932L2013 1932.6L2004.8 1933.3L1995.1 1934.2L1984.3 1935.2L1972.6 1936.2L1960.5 1937.3L1948.2 1938.4L1936.2 1939.4L1924.8 1940.3L1914.3 1941L1904.7 1941.7L1895.5 1942.4L1886.6 1943.1L1877.9 1943.7L1869.2 1944.3L1860.4 1944.8L1851.4 1945.1L1842.1 1945.3L1832.2 1945.3L1821.8 1945L1810.6 1944.4L1798.7 1943.5L1786.2 1942.4L1773.3 1941.1L1760.2 1939.6L1747.2 1938.1L1734.3 1936.7L1721.9 1935.3L1710 1934L1698.8 1933L1688.5 1932.1L1679 1931.1L1670 1930.2L1661.4 1929.3L1653 1928.5L1644.7 1927.8L1636.1 1927.3L1627.1 1927L1617.6 1926.8L1607.3 1927L1596.1 1927.5L1584 1928.4L1571.4 1929.6L1558.4 1931L1545.2 1932.5L1532 1934L1519.1 1935.5L1506.7 1936.9L1495 1938.1L1484.3 1939L1474.5 1939.6L1465.4 1940.2L1456.8 1940.5L1448.8 1940.8L1441 1941L1433.5 1941.2L1426 1941.3L1418.6 1941.3L1410.9 1941.4L1403 1941.5L1394.7 1941.6L1386.3 1941.7L1377.9 1941.8L1369.3 1941.8L1360.9 1941.8L1352.5 1941.8L1344.4 1941.7L1336.5 1941.5L1328.9 1941.3L1321.6 1941L1314.8 1940.6L1308.5 1940.1L1302.4 1939.5L1296.6 1938.8L1291 1938.1L1285.5 1937.4L1279.9 1936.6L1274.4 1935.9L1268.6 1935.2L1262.7 1934.5L1256.6 1933.8L1250.6 1933.1L1244.6 1932.4L1238.6 1931.6L1232.5 1930.9L1226.4 1930.2L1220 1929.6L1213.5 1929.1L1206.7 1928.6L1199.6 1928.3L1192.3 1928.1L1184.7 1928L1176.8 1928.1L1168.8 1928.2L1160.6 1928.4L1152.3 1928.6L1143.9 1928.8L1135.4 1929.1L1126.9 1929.3L1118.3 1929.5L1109.3 1929.7L1099.5 1930L1089.2 1930.2L1078.7 1930.5L1068.4 1930.8L1058.4 1931.1L1049.2 1931.4L1040.9 1931.6L1034 1931.8L1028.6 1932Z" fill="#b3b4b6"/>
<path d="M1031.2 1789.1C1039.1 1789.4 1062.9 1790.3 1078.8 1790.7C1094.7 1791.2 1110.6 1791.8 1126.5 1791.7C1142.4 1791.7 1158.3 1791.2 1174.2 1790.4C1190.1 1789.7 1206 1788.3 1221.9 1787.3C1237.8 1786.4 1253.6 1785.2 1269.5 1784.7C1285.4 1784.2 1301.3 1784.2 1317.2 1784.4C1333.1 1784.6 1349 1785.3 1364.9 1785.8C1380.8 1786.3 1396.7 1787.1 1412.6 1787.3C1428.5 1787.5 1444.4 1787.4 1460.2 1787.1C1476.1 1786.8 1492 1786 1507.9 1785.6C1523.8 1785.1 1539.7 1784.5 1555.6 1784.5C1571.5 1784.5 1587.4 1785 1603.3 1785.7C1619.2 1786.5 1635.1 1787.7 1650.9 1789.1C1666.8 1790.5 1682.7 1792.7 1698.6 1794.1C1714.5 1795.5 1730.4 1797.1 1746.3 1797.6C1762.2 1798.1 1778.1 1797.9 1794 1797.2C1809.9 1796.6 1825.8 1794.7 1841.7 1793.5C1857.5 1792.4 1873.4 1791.1 1889.3 1790.5C1905.2 1789.9 1921.1 1790.4 1937 1789.7C1952.9 1789 1976.7 1786.8 1984.7 1786.2" fill="none" stroke="#999a9c" stroke-width="4.5" stroke-linecap="round"/>
<path d="M1034.3 1806C1042.2 1805.7 1066 1804.5 1081.9 1804C1097.8 1803.6 1113.6 1803.7 1129.5 1803.5C1145.4 1803.3 1161.2 1803.3 1177.1 1803C1193 1802.8 1208.8 1802.4 1224.7 1801.8C1240.6 1801.3 1256.4 1800.5 1272.3 1799.9C1288.2 1799.2 1304 1798.6 1319.9 1798.1C1335.8 1797.6 1351.6 1796.9 1367.5 1796.8C1383.4 1796.6 1399.2 1797 1415.1 1797.3C1431 1797.6 1446.8 1798.2 1462.7 1798.7C1478.6 1799.2 1494.4 1799.8 1510.3 1800.2C1526.2 1800.5 1542 1800.5 1557.9 1800.7C1573.8 1800.9 1589.6 1800.8 1605.5 1801.1C1621.4 1801.5 1637.2 1801.9 1653.1 1802.8C1669 1803.7 1684.8 1805.1 1700.7 1806.4C1716.6 1807.7 1732.4 1809.6 1748.3 1810.7C1764.2 1811.7 1780 1812.7 1795.9 1812.7C1811.8 1812.6 1827.6 1811.3 1843.5 1810.2C1859.4 1809 1875.2 1807.1 1891.1 1805.7C1907 1804.3 1922.8 1803.4 1938.7 1801.7C1954.6 1800 1978.4 1796.7 1986.3 1795.7" fill="none" stroke="#999a9c" stroke-width="4.4" stroke-linecap="round"/>
<path d="M1035.1 1823.4C1043.1 1823.1 1067.1 1822.2 1083.1 1821.3C1099.2 1820.4 1115.2 1819.3 1131.2 1818C1147.2 1816.8 1163.3 1815 1179.3 1813.8C1195.3 1812.6 1211.3 1811.5 1227.4 1810.9C1243.4 1810.4 1259.4 1810.3 1275.4 1810.5C1291.4 1810.7 1307.5 1811.8 1323.5 1812.1C1339.5 1812.5 1355.5 1812.6 1371.6 1812.7C1387.6 1812.7 1403.6 1812.6 1419.6 1812.4C1435.7 1812.1 1451.7 1811.5 1467.7 1811.4C1483.7 1811.2 1499.8 1811.3 1515.8 1811.6C1531.8 1811.9 1547.8 1812.4 1563.8 1813.2C1579.9 1814 1595.9 1815.4 1611.9 1816.6C1627.9 1817.9 1644 1819.6 1660 1820.7C1676 1821.7 1692 1822.6 1708.1 1823.2C1724.1 1823.8 1740.1 1824.2 1756.1 1824.2C1772.2 1824.2 1788.2 1823.9 1804.2 1823.3C1820.2 1822.7 1836.2 1821.3 1852.3 1820.4C1868.3 1819.6 1884.3 1819.1 1900.3 1818.3C1916.4 1817.5 1932.4 1817.1 1948.4 1815.6C1964.4 1814.1 1988.5 1810.3 1996.5 1809.2" fill="none" stroke="#999a9c" stroke-width="4.3" stroke-linecap="round"/>
<path d="M1038.8 1836.5C1046.8 1835.7 1070.8 1832.7 1086.9 1831.4C1102.9 1830.1 1119 1829.4 1135 1828.7C1151 1827.9 1167.1 1827.3 1183.1 1826.9C1199.1 1826.4 1215.2 1826.3 1231.2 1825.9C1247.3 1825.5 1263.3 1825 1279.3 1824.7C1295.4 1824.3 1311.4 1824.1 1327.5 1823.9C1343.5 1823.6 1359.5 1823 1375.6 1823.1C1391.6 1823.2 1407.6 1823.8 1423.7 1824.5C1439.7 1825.1 1455.8 1826.2 1471.8 1827.1C1487.8 1827.9 1503.9 1829.2 1519.9 1829.7C1535.9 1830.2 1552 1830 1568 1830.1C1584.1 1830.2 1600.1 1829.9 1616.1 1830.3C1632.2 1830.6 1648.2 1831.3 1664.3 1832C1680.3 1832.7 1696.3 1833.5 1712.4 1834.6C1728.4 1835.6 1744.4 1837.3 1760.5 1838.1C1776.5 1838.8 1792.6 1839.6 1808.6 1839.1C1824.6 1838.6 1840.7 1836.7 1856.7 1835.2C1872.7 1833.7 1888.8 1831.8 1904.8 1830C1920.9 1828.2 1936.9 1826.3 1952.9 1824.5C1969 1822.6 1993 1819.7 2001.1 1818.7" fill="none" stroke="#999a9c" stroke-width="4.6" stroke-linecap="round"/>
<path d="M1034.2 1851.8C1042.1 1851 1066 1848.8 1081.8 1847.3C1097.7 1845.7 1113.6 1844.2 1129.5 1842.6C1145.4 1841 1161.3 1838.9 1177.1 1837.6C1193 1836.3 1208.9 1835.2 1224.8 1834.8C1240.7 1834.4 1256.5 1834.7 1272.4 1835.3C1288.3 1835.9 1304.2 1837.6 1320.1 1838.4C1336 1839.2 1351.8 1839.5 1367.7 1840C1383.6 1840.4 1399.5 1840.9 1415.4 1841.1C1431.2 1841.2 1447.1 1840.9 1463 1841.1C1478.9 1841.2 1494.8 1841.7 1510.7 1841.9C1526.5 1842.1 1542.4 1842 1558.3 1842.4C1574.2 1842.7 1590.1 1843.4 1605.9 1844.2C1621.8 1845.1 1637.7 1846.8 1653.6 1847.7C1669.5 1848.6 1685.4 1849.1 1701.2 1849.5C1717.1 1849.9 1733 1849.9 1748.9 1849.9C1764.8 1849.8 1780.6 1850 1796.5 1849.4C1812.4 1848.8 1828.3 1847.3 1844.2 1846.3C1860.1 1845.3 1875.9 1844 1891.8 1843.2C1907.7 1842.4 1923.6 1842.5 1939.5 1841.3C1955.3 1840 1979.2 1836.6 1987.1 1835.7" fill="none" stroke="#999a9c" stroke-width="5" stroke-linecap="round"/>
<path d="M1036.9 1861.9C1044.8 1861 1068.5 1857.9 1084.3 1856.6C1100 1855.3 1115.8 1854.9 1131.6 1854.1C1147.4 1853.2 1163.2 1852.3 1179 1851.5C1194.8 1850.8 1210.5 1850 1226.3 1849.5C1242.1 1849 1257.9 1848.4 1273.7 1848.5C1289.5 1848.6 1305.3 1849.6 1321 1850.1C1336.8 1850.7 1352.6 1850.9 1368.4 1851.9C1384.2 1852.8 1400 1854.5 1415.8 1855.6C1431.5 1856.7 1447.3 1857.8 1463.1 1858.6C1478.9 1859.3 1494.7 1860.2 1510.5 1860.1C1526.3 1859.9 1542 1858.5 1557.8 1857.8C1573.6 1857.1 1589.4 1855.8 1605.2 1855.8C1621 1855.8 1636.8 1856.8 1652.5 1857.6C1668.3 1858.4 1684.1 1859.6 1699.9 1860.6C1715.7 1861.6 1731.5 1862.8 1747.3 1863.5C1763 1864.1 1778.8 1865.2 1794.6 1864.7C1810.4 1864.2 1826.2 1862.2 1842 1860.5C1857.8 1858.9 1873.5 1856.1 1889.3 1854.6C1905.1 1853.1 1920.9 1852.7 1936.7 1851.6C1952.5 1850.4 1976.2 1848.3 1984 1847.7" fill="none" stroke="#999a9c" stroke-width="5.1" stroke-linecap="round"/>
<path d="M1032 1873.7C1040.1 1872.8 1064.3 1869.9 1080.5 1868.7C1096.6 1867.5 1112.8 1867.3 1129 1866.5C1145.1 1865.7 1161.3 1864.7 1177.4 1863.9C1193.6 1863.1 1209.7 1862.2 1225.9 1861.7C1242.1 1861.3 1258.2 1860.8 1274.4 1861.3C1290.5 1861.7 1306.7 1863.2 1322.8 1864.2C1339 1865.3 1355.1 1866.1 1371.3 1867.5C1387.5 1868.8 1403.6 1871 1419.8 1872.2C1435.9 1873.5 1452.1 1874.4 1468.2 1874.8C1484.4 1875.2 1500.6 1875.4 1516.7 1874.7C1532.9 1873.9 1549 1871.4 1565.2 1870.3C1581.3 1869.2 1597.5 1867.9 1613.7 1868C1629.8 1868.1 1646 1869.8 1662.1 1870.8C1678.3 1871.7 1694.4 1872.7 1710.6 1873.7C1726.7 1874.7 1742.9 1876.2 1759.1 1876.6C1775.2 1877.1 1791.4 1877.4 1807.5 1876.4C1823.7 1875.4 1839.8 1872.4 1856 1870.7C1872.2 1869 1888.3 1867.1 1904.5 1866C1920.6 1864.8 1936.8 1864.6 1952.9 1864C1969.1 1863.4 1993.3 1862.5 2001.4 1862.2" fill="none" stroke="#999a9c" stroke-width="5.1" stroke-linecap="round"/>
<path d="M1031.1 1886.2C1039.1 1885.1 1063.1 1881.1 1079.1 1879.5C1095.1 1877.9 1111.1 1877.3 1127.2 1876.5C1143.2 1875.8 1159.2 1875.3 1175.2 1875.1C1191.2 1874.9 1207.2 1875 1223.2 1875.3C1239.3 1875.6 1255.3 1876.2 1271.3 1877C1287.3 1877.9 1303.3 1879.6 1319.3 1880.5C1335.3 1881.3 1351.3 1881.3 1367.4 1882.1C1383.4 1883 1399.4 1884.7 1415.4 1885.7C1431.4 1886.8 1447.4 1887.8 1463.4 1888.5C1479.5 1889.2 1495.5 1890.3 1511.5 1889.8C1527.5 1889.4 1543.5 1887.2 1559.5 1885.8C1575.5 1884.4 1591.6 1882.2 1607.6 1881.6C1623.6 1880.9 1639.6 1881.6 1655.6 1882C1671.6 1882.3 1687.6 1882.6 1703.7 1883.4C1719.7 1884.2 1735.7 1885.6 1751.7 1886.6C1767.7 1887.6 1783.7 1889.5 1799.7 1889.5C1815.8 1889.5 1831.8 1887.9 1847.8 1886.6C1863.8 1885.3 1879.8 1883 1895.8 1881.7C1911.8 1880.4 1927.9 1880 1943.9 1878.9C1959.9 1877.9 1983.9 1876.1 1991.9 1875.5" fill="none" stroke="#999a9c" stroke-width="5.1" stroke-linecap="round"/>
<path d="M1034.4 1899.4C1042.3 1898.6 1066.2 1896.3 1082.2 1894.7C1098.1 1893.2 1114.1 1891.7 1130 1890.2C1146 1888.7 1161.9 1886.5 1177.8 1885.7C1193.8 1884.9 1209.7 1884.6 1225.7 1885.3C1241.6 1886 1257.6 1887.8 1273.5 1889.9C1289.4 1892 1305.4 1895.9 1321.3 1897.8C1337.3 1899.8 1353.2 1900.7 1369.1 1901.6C1385.1 1902.5 1401 1903.3 1417 1903.3C1432.9 1903.3 1448.9 1902.3 1464.8 1901.7C1480.7 1901.1 1496.7 1900.9 1512.6 1899.9C1528.6 1898.9 1544.5 1896.8 1560.4 1895.9C1576.4 1895 1592.3 1894.2 1608.3 1894.5C1624.2 1894.7 1640.2 1896.8 1656.1 1897.3C1672 1897.8 1688 1897.6 1703.9 1897.7C1719.9 1897.8 1735.8 1897.6 1751.8 1897.8C1767.7 1898 1783.6 1898.9 1799.6 1898.9C1815.5 1898.9 1831.5 1897.9 1847.4 1897.6C1863.3 1897.2 1879.3 1896.7 1895.2 1896.6C1911.2 1896.6 1927.1 1897.8 1943.1 1897.3C1959 1896.8 1982.9 1894.3 1990.9 1893.6" fill="none" stroke="#999a9c" stroke-width="4.9" stroke-linecap="round"/>
<path d="M1040.7 1910.1C1048.5 1909.4 1072 1907.2 1087.7 1905.9C1103.4 1904.6 1119.1 1903.5 1134.8 1902.4C1150.4 1901.3 1166.1 1899.5 1181.8 1899.2C1197.5 1898.9 1213.1 1899.5 1228.8 1900.6C1244.5 1901.7 1260.2 1903.5 1275.9 1905.7C1291.5 1907.8 1307.2 1911.6 1322.9 1913.4C1338.6 1915.2 1354.3 1915.7 1369.9 1916.4C1385.6 1917.1 1401.3 1917.7 1417 1917.6C1432.6 1917.5 1448.3 1916.4 1464 1915.7C1479.7 1915.1 1495.4 1914.9 1511 1913.7C1526.7 1912.5 1542.4 1909.9 1558.1 1908.6C1573.8 1907.3 1589.4 1905.9 1605.1 1905.8C1620.8 1905.7 1636.5 1907.6 1652.1 1908.1C1667.8 1908.7 1683.5 1909 1699.2 1909.3C1714.9 1909.6 1730.5 1909.4 1746.2 1910C1761.9 1910.6 1777.6 1912.4 1793.3 1912.9C1808.9 1913.4 1824.6 1913.1 1840.3 1912.9C1856 1912.7 1871.7 1911.7 1887.3 1911.6C1903 1911.6 1918.7 1912.9 1934.4 1912.4C1950 1911.9 1973.6 1909.5 1981.4 1908.9" fill="none" stroke="#999a9c" stroke-width="4.8" stroke-linecap="round"/>
<path d="M1039 1921.6C1047 1921 1070.8 1919.1 1086.7 1918.1C1102.6 1917 1118.5 1916.2 1134.4 1915.4C1150.3 1914.6 1166.2 1913.3 1182.1 1913.4C1198 1913.5 1213.9 1914.8 1229.8 1916.2C1245.7 1917.6 1261.5 1919.8 1277.4 1921.9C1293.3 1924 1309.2 1927.5 1325.1 1928.9C1341 1930.4 1356.9 1930.2 1372.8 1930.5C1388.7 1930.7 1404.6 1930.8 1420.5 1930.5C1436.4 1930.1 1452.3 1929 1468.2 1928.3C1484.1 1927.5 1500 1927.4 1515.9 1926.1C1531.8 1924.8 1547.7 1921.9 1563.5 1920.4C1579.4 1919 1595.3 1917.6 1611.2 1917.5C1627.1 1917.5 1643 1919.5 1658.9 1920.1C1674.8 1920.6 1690.7 1920.2 1706.6 1920.8C1722.5 1921.4 1738.4 1922.4 1754.3 1923.7C1770.2 1924.9 1786.1 1927.5 1802 1928.3C1817.9 1929.2 1833.8 1928.9 1849.7 1928.8C1865.6 1928.6 1881.4 1927.9 1897.3 1927.6C1913.2 1927.2 1929.1 1927.7 1945 1926.7C1960.9 1925.8 1984.8 1922.5 1992.7 1921.7" fill="none" stroke="#999a9c" stroke-width="5.4" stroke-linecap="round"/>
<path d="M1028.6 1932L1034 1931.8L1040.9 1931.6L1049.2 1931.4L1058.4 1931.1L1068.4 1930.8L1078.7 1930.5L1089.2 1930.2L1099.5 1930L1109.3 1929.7L1118.3 1929.5L1126.9 1929.3L1135.4 1929.1L1143.9 1928.8L1152.3 1928.6L1160.6 1928.4L1168.8 1928.2L1176.8 1928.1L1184.7 1928L1192.3 1928.1L1199.6 1928.3L1206.7 1928.6L1213.5 1929.1L1220 1929.6L1226.4 1930.2L1232.5 1930.9L1238.6 1931.6L1244.6 1932.4L1250.6 1933.1L1256.6 1933.8L1262.7 1934.5L1268.6 1935.2L1274.4 1935.9L1279.9 1936.6L1285.5 1937.4L1291 1938.1L1296.6 1938.8L1302.4 1939.5L1308.5 1940.1L1314.8 1940.6L1321.6 1941L1328.9 1941.3L1336.5 1941.5L1344.4 1941.7L1352.5 1941.8L1360.9 1941.8L1369.3 1941.8L1377.9 1941.8L1386.3 1941.7L1394.7 1941.6L1403 1941.5L1410.9 1941.4L1418.6 1941.3L1426 1941.3L1433.5 1941.2L1441 1941L1448.8 1940.8L1456.8 1940.5L1465.4 1940.2L1474.5 1939.6L1484.3 1939L1495 1938.1L1506.7 1936.9L1519.1 1935.5L1532 1934L1545.2 1932.5L1558.4 1931L1571.4 1929.6L1584 1928.4L1596.1 1927.5L1607.3 1927L1617.6 1926.8L1627.1 1927L1636.1 1927.3L1644.7 1927.8L1653 1928.5L1661.4 1929.3L1670 1930.2L1679 1931.1L1688.5 1932.1L1698.8 1933L1710 1934L1721.9 1935.3L1734.3 1936.7L1747.2 1938.1L1760.2 1939.6L1773.3 1941.1L1786.2 1942.4L1798.7 1943.5L1810.6 1944.4L1821.8 1945L1832.2 1945.3L1842.1 1945.3L1851.4 1945.1L1860.4 1944.8L1869.2 1944.3L1877.9 1943.7L1886.6 1943.1L1895.5 1942.4L1904.7 1941.7L1914.3 1941L1924.8 1940.3L1936.2 1939.4L1948.2 1938.4L1960.5 1937.3L1972.6 1936.2L1984.3 1935.2L1995.1 1934.2L2004.8 1933.3L2013 1932.6L2019.3 1932L2019.3 2014L1028.6 2014Z" fill="#959698"/>
<rect x="1028.6" y="2013.5" width="990.7" height="40" fill="url(#cr_fade)"/>
<path d="M1028.6 1777C1048.6 1776.9 1098.3 1776.7 1148.8 1776.5C1199.3 1776.3 1275.9 1776 1331.8 1776C1387.7 1776 1433.5 1775.9 1484.3 1776.2C1535.1 1776.5 1586 1776.5 1636.8 1777.7C1687.6 1779 1743.5 1783.2 1789.3 1783.7C1835 1784.2 1872.9 1782.5 1911.3 1780.7C1949.6 1778.9 2001.3 1774.3 2019.3 1773" fill="none" stroke="#5c5c5e" stroke-width="2.2"/>
<path d="M1028.6 1932C1043.5 1931.6 1089.8 1930.1 1118.3 1929.5C1146.8 1928.9 1175.6 1927.5 1199.6 1928.3C1223.7 1929.1 1242.3 1932.4 1262.7 1934.5C1283 1936.6 1298.2 1939.8 1321.6 1941C1345 1942.2 1375.8 1941.8 1403 1941.5C1430.1 1941.2 1450.2 1941.4 1484.3 1939C1518.3 1936.6 1571.5 1928 1607.3 1927C1643.1 1926 1663 1930 1698.8 1933C1734.6 1936 1785.9 1943.7 1821.8 1945C1857.7 1946.3 1881.4 1943.2 1914.3 1941C1947.2 1938.8 2001.8 1933.5 2019.3 1932" fill="none" stroke="#58585a" stroke-width="4" stroke-linecap="round"/>
<g clip-path="url(#cr_clip)">
<path d="M972.9 2000.5C972.9 1967.7 998.7 1944.5 1034.9 1944.5C1071.2 1944.5 1096.9 1967.7 1096.9 2000.5C1096.9 2036.3 1074.6 2056.5 1034.9 2056.5C995.2 2056.5 972.9 2036.3 972.9 2000.5Z" fill="#a6a7a9" stroke="#58585a" stroke-width="3.2"/>
<ellipse cx="1039.9" cy="2012.5" rx="21" ry="21" fill="#c5c6c8" stroke="#5c5c5e" stroke-width="2.3" transform="rotate(0 1039.9 2012.5)"/>
<ellipse cx="1036.9" cy="2013.5" rx="5.6" ry="5.2" fill="#858586"/>
<path d="M1101.6 2001C1101.6 1966.1 1129 1941.4 1167.5 1941.4C1206 1941.4 1233.4 1966.1 1233.4 2001C1233.4 2039.1 1209.7 2060.6 1167.5 2060.6C1125.3 2060.6 1101.6 2039.1 1101.6 2001Z" fill="#a6a7a9" stroke="#58585a" stroke-width="3.2"/>
<ellipse cx="1168.5" cy="2001" rx="21" ry="23" fill="#c5c6c8" stroke="#5c5c5e" stroke-width="2.3" transform="rotate(20 1168.5 2001)"/>
<ellipse cx="1167.5" cy="2001" rx="5.6" ry="5.2" fill="#858586"/>
<path d="M1236.8 2008.5C1236.8 1976.1 1264.9 1953.1 1304.3 1953.1C1343.8 1953.1 1371.8 1976.1 1371.8 2008.5C1371.8 2044 1347.5 2063.9 1304.3 2063.9C1261.1 2063.9 1236.8 2044 1236.8 2008.5Z" fill="#a6a7a9" stroke="#58585a" stroke-width="3.2"/>
<ellipse cx="1307.3" cy="2008.5" rx="17" ry="19" fill="#c5c6c8" stroke="#5c5c5e" stroke-width="2.3" transform="rotate(25 1307.3 2008.5)"/>
<ellipse cx="1310.3" cy="2008.5" rx="5.6" ry="5.2" fill="#858586"/>
<path d="M1378.6 2009.5C1378.6 1978.5 1403.7 1956.5 1439.3 1956.5C1474.8 1956.5 1499.9 1978.5 1499.9 2009.5C1499.9 2043.4 1478.1 2062.5 1439.3 2062.5C1400.4 2062.5 1378.6 2043.4 1378.6 2009.5Z" fill="#a6a7a9" stroke="#58585a" stroke-width="3.2"/>
<ellipse cx="1441.3" cy="2013.5" rx="19" ry="20" fill="#c5c6c8" stroke="#5c5c5e" stroke-width="2.3" transform="rotate(25 1441.3 2013.5)"/>
<ellipse cx="1444.3" cy="2014.5" rx="5.6" ry="5.2" fill="#858586"/>
<path d="M1505.1 2009C1505.1 1975.9 1533.9 1952.4 1574.6 1952.4C1615.2 1952.4 1644 1975.9 1644 2009C1644 2045.2 1619 2065.6 1574.6 2065.6C1530.1 2065.6 1505.1 2045.2 1505.1 2009Z" fill="#a6a7a9" stroke="#58585a" stroke-width="3.2"/>
<ellipse cx="1572.6" cy="2013" rx="15.5" ry="18.5" fill="#c5c6c8" stroke="#5c5c5e" stroke-width="2.3" transform="rotate(-10 1572.6 2013)"/>
<ellipse cx="1572.6" cy="2016" rx="5.6" ry="5.2" fill="#858586"/>
<path d="M1650.2 2009C1650.2 1978.6 1675.7 1957 1711.6 1957C1747.5 1957 1773 1978.6 1773 2009C1773 2042.3 1750.9 2061 1711.6 2061C1672.3 2061 1650.2 2042.3 1650.2 2009Z" fill="#a6a7a9" stroke="#58585a" stroke-width="3.2"/>
<ellipse cx="1712.6" cy="2010" rx="20" ry="14" fill="#c5c6c8" stroke="#5c5c5e" stroke-width="2.3" transform="rotate(-32 1712.6 2010)"/>
<ellipse cx="1712.6" cy="2005" rx="5.6" ry="5.2" fill="#858586"/>
<path d="M1777.6 2009.8C1777.6 1979.7 1802.5 1958.4 1837.6 1958.4C1872.7 1958.4 1897.6 1979.7 1897.6 2009.8C1897.6 2042.7 1876 2061.2 1837.6 2061.2C1799.2 2061.2 1777.6 2042.7 1777.6 2009.8Z" fill="#a6a7a9" stroke="#58585a" stroke-width="3.2"/>
<ellipse cx="1834.6" cy="2009.8" rx="14.5" ry="18.5" fill="#c5c6c8" stroke="#5c5c5e" stroke-width="2.3" transform="rotate(-8 1834.6 2009.8)"/>
<ellipse cx="1835.6" cy="2011.8" rx="5.6" ry="5.2" fill="#858586"/>
<path d="M1903.7 2012.8C1903.7 1988.1 1920.2 1970.5 1943.6 1970.5C1967 1970.5 1983.6 1988.1 1983.6 2012.8C1983.6 2039.9 1969.2 2055.1 1943.6 2055.1C1918 2055.1 1903.7 2039.9 1903.7 2012.8Z" fill="#a6a7a9" stroke="#58585a" stroke-width="3.2"/>
<ellipse cx="1940.6" cy="2012.8" rx="14.5" ry="12.7" fill="#c5c6c8" stroke="#5c5c5e" stroke-width="2.3" transform="rotate(0 1940.6 2012.8)"/>
<ellipse cx="1941.6" cy="2013.8" rx="5.6" ry="5.2" fill="#858586"/>
<path d="M1985.5 2005.5C1985.5 1978 2005.3 1958.5 2033.3 1958.5C2061.2 1958.5 2081.1 1978 2081.1 2005.5C2081.1 2035.6 2063.9 2052.5 2033.3 2052.5C2002.7 2052.5 1985.5 2035.6 1985.5 2005.5Z" fill="#a6a7a9" stroke="#58585a" stroke-width="3.2"/>
</g>
<path d="M1028.6 1682.8C1030.8 1682.5 1036.5 1681.1 1042 1681.3C1047.6 1681.5 1057 1682.7 1062.1 1683.8C1067.3 1684.9 1069.7 1687.5 1073.1 1687.8C1076.4 1688.1 1080 1686.6 1082.2 1685.3C1084.4 1684 1084.7 1682.1 1086.1 1679.9C1087.4 1677.8 1089.1 1675.2 1090.5 1672.6C1091.9 1669.9 1093.2 1667.3 1094.4 1663.8C1095.7 1660.4 1098.1 1655.1 1098 1651.8C1097.9 1648.5 1095.5 1646.2 1094 1643.9C1092.6 1641.6 1090.2 1640.1 1089.3 1637.9C1088.5 1635.8 1088.3 1633.1 1088.9 1630.9C1089.5 1628.6 1091 1626.2 1092.8 1624.5C1094.6 1622.9 1097.4 1621.6 1099.5 1620.8C1101.5 1620.1 1103.3 1620 1105.2 1620C1107.1 1620 1108.8 1620.1 1110.9 1620.8C1112.9 1621.6 1115.8 1622.9 1117.6 1624.5C1119.3 1626.2 1120.9 1628.6 1121.5 1630.9C1122.1 1633.1 1121.9 1635.8 1121 1637.9C1120.2 1640.1 1117.8 1641.6 1116.3 1643.9C1114.9 1646.2 1113.5 1648.5 1112.4 1651.8C1111.2 1655.1 1110.3 1660.4 1109.5 1663.8C1108.8 1667.3 1108.3 1669.9 1107.9 1672.6C1107.6 1675.2 1107.4 1677.8 1107.3 1679.9C1107.2 1682.1 1105.9 1683.9 1107.4 1685.3C1109 1686.7 1112.2 1688.8 1116.6 1688.3C1120.9 1687.8 1127.9 1682.6 1133.6 1682.3C1139.2 1682.1 1146.4 1686 1150.6 1686.9C1154.8 1687.8 1156 1688.1 1159 1687.8C1161.9 1687.5 1166 1686.9 1168.1 1685.3C1170.3 1683.7 1170.6 1680.9 1171.8 1678C1173.1 1675.1 1174.5 1671.5 1175.6 1667.9C1176.7 1664.2 1177.7 1660.7 1178.5 1656C1179.2 1651.2 1180.5 1643.7 1180.2 1639.5C1179.9 1635.2 1178.1 1633 1176.8 1630.3C1175.6 1627.7 1173.4 1626 1172.7 1623.5C1171.9 1621 1171.8 1617.9 1172.3 1615.3C1172.8 1612.7 1174.2 1610 1175.7 1608C1177.3 1606.1 1179.8 1604.6 1181.6 1603.8C1183.4 1602.9 1184.9 1602.8 1186.6 1602.8C1188.3 1602.8 1189.8 1602.9 1191.6 1603.8C1193.4 1604.6 1195.9 1606.1 1197.5 1608C1199 1610 1200.4 1612.7 1200.9 1615.3C1201.4 1617.9 1201.3 1621 1200.5 1623.5C1199.8 1626 1197.7 1627.7 1196.4 1630.3C1195.2 1633 1193.7 1635.2 1193 1639.5C1192.4 1643.7 1192.4 1651.2 1192.4 1656C1192.5 1660.7 1192.8 1664.2 1193.3 1667.9C1193.7 1671.5 1194.5 1675.1 1195.2 1678C1196 1680.9 1195.7 1683.6 1197.6 1685.3C1199.5 1687 1201.7 1688.8 1206.7 1688.3C1211.8 1687.8 1220.7 1682.4 1227.7 1682.1C1234.7 1681.7 1243.2 1685.3 1248.7 1686.2C1254.3 1687.2 1257.6 1688 1261.2 1687.8C1264.8 1687.6 1268.2 1687.2 1270.4 1685.3C1272.6 1683.4 1273 1679.9 1274.3 1676.4C1275.6 1672.9 1277.1 1668.6 1278.1 1664.2C1279.2 1659.7 1280.1 1655.5 1280.7 1649.7C1281.3 1644 1282.4 1634.8 1281.8 1629.7C1281.2 1624.6 1278.8 1622.3 1277.1 1619.3C1275.4 1616.2 1272.6 1614.3 1271.6 1611.4C1270.6 1608.5 1270.4 1605 1271.1 1602C1271.8 1599.1 1273.6 1595.9 1275.7 1593.7C1277.7 1591.5 1281.1 1589.8 1283.5 1588.8C1285.9 1587.8 1287.9 1587.7 1290.1 1587.7C1292.3 1587.7 1294.3 1587.8 1296.8 1588.8C1299.2 1589.8 1302.5 1591.5 1304.5 1593.7C1306.6 1595.9 1308.4 1599.1 1309.1 1602C1309.8 1605 1309.6 1608.5 1308.6 1611.4C1307.6 1614.3 1304.8 1616.2 1303.1 1619.3C1301.4 1622.3 1299.2 1624.6 1298.5 1629.7C1297.7 1634.8 1298.4 1644 1298.8 1649.7C1299.2 1655.5 1299.8 1659.7 1300.7 1664.2C1301.5 1668.6 1302.8 1672.9 1303.9 1676.4C1305 1679.9 1305.3 1683.3 1307.4 1685.3C1309.5 1687.3 1311.6 1688.5 1316.5 1688.3C1321.5 1688.1 1330.2 1684.5 1337 1683.8C1343.8 1683.2 1352.1 1683.6 1357.5 1684.4C1362.9 1685.1 1365.9 1688.3 1369.4 1688.5C1372.9 1688.8 1376.6 1687.8 1378.6 1686C1380.5 1684.3 1380.3 1681.3 1381.1 1678.2C1381.9 1675.1 1382.8 1671.3 1383.4 1667.4C1384 1663.5 1384.4 1659.7 1384.5 1654.6C1384.7 1649.6 1385.1 1641.6 1384.3 1637C1383.5 1632.3 1381.5 1629.6 1379.9 1626.6C1378.3 1623.5 1375.7 1621.6 1374.8 1618.8C1373.8 1615.9 1373.6 1612.4 1374.3 1609.5C1374.9 1606.5 1376.6 1603.4 1378.6 1601.2C1380.5 1599 1383.7 1597.3 1385.9 1596.3C1388.2 1595.3 1390.1 1595.2 1392.2 1595.2C1394.3 1595.2 1396.2 1595.3 1398.4 1596.3C1400.7 1597.3 1403.8 1599 1405.8 1601.2C1407.7 1603.4 1409.4 1606.5 1410.1 1609.5C1410.7 1612.4 1410.5 1615.9 1409.6 1618.8C1408.6 1621.6 1406 1623.5 1404.4 1626.6C1402.8 1629.6 1400.5 1632.3 1400 1637C1399.6 1641.6 1400.8 1649.6 1401.5 1654.6C1402.1 1659.7 1403 1663.5 1404 1667.4C1405 1671.3 1406.4 1675.1 1407.5 1678.2C1408.7 1681.3 1409 1684.2 1411.1 1686C1413.2 1687.8 1415.5 1689.1 1420.2 1689C1425 1689 1433 1686.5 1439.4 1685.9C1445.7 1685.4 1453.5 1685.2 1458.5 1685.9C1463.4 1686.6 1465.8 1689.9 1469 1690.2C1472.3 1690.4 1475.6 1689.4 1478.2 1687.7C1480.8 1685.9 1482.2 1682.8 1484.5 1679.6C1486.8 1676.4 1489.5 1672.5 1491.9 1668.5C1494.2 1664.4 1496.5 1660.6 1498.8 1655.4C1501 1650.2 1504.8 1641.8 1505.3 1637.2C1505.8 1632.6 1503.1 1630.4 1501.8 1627.6C1500.5 1624.8 1498.4 1623.1 1497.6 1620.4C1496.9 1617.8 1496.7 1614.6 1497.2 1611.8C1497.7 1609.1 1499.1 1606.2 1500.7 1604.2C1502.3 1602.2 1504.8 1600.6 1506.7 1599.7C1508.5 1598.8 1510 1598.7 1511.7 1598.7C1513.4 1598.7 1515 1598.8 1516.8 1599.7C1518.7 1600.6 1521.2 1602.2 1522.8 1604.2C1524.3 1606.2 1525.7 1609.1 1526.3 1611.8C1526.8 1614.6 1526.6 1617.8 1525.9 1620.4C1525.1 1623.1 1523 1624.8 1521.7 1627.6C1520.4 1630.4 1519.6 1632.6 1518.1 1637.2C1516.6 1641.8 1514.1 1650.2 1512.6 1655.4C1511.1 1660.6 1510 1664.4 1509 1668.5C1508.1 1672.5 1507.4 1676.4 1506.9 1679.6C1506.5 1682.8 1504.8 1685.8 1506.1 1687.7C1507.5 1689.5 1510.7 1690.8 1515.3 1690.7C1519.9 1690.5 1527.7 1687.5 1533.9 1687C1540.1 1686.4 1547.8 1686.6 1552.5 1687.3C1557.3 1688.1 1559.4 1691.2 1562.6 1691.5C1565.8 1691.7 1569.4 1690.7 1571.7 1689C1574.1 1687.2 1574.9 1684 1576.6 1680.8C1578.3 1677.6 1580.3 1673.7 1581.9 1669.6C1583.6 1665.5 1585.1 1661.6 1586.4 1656.4C1587.8 1651.1 1589.9 1642.7 1590 1638C1590.1 1633.4 1588.2 1631.2 1587 1628.4C1585.9 1625.6 1583.8 1623.9 1583.1 1621.2C1582.4 1618.6 1582.2 1615.4 1582.7 1612.6C1583.2 1609.9 1584.5 1607 1586 1605C1587.5 1603 1589.9 1601.4 1591.6 1600.5C1593.4 1599.6 1594.8 1599.5 1596.4 1599.5C1598 1599.5 1599.5 1599.6 1601.2 1600.5C1603 1601.4 1605.4 1603 1606.8 1605C1608.3 1607 1609.7 1609.9 1610.1 1612.6C1610.6 1615.4 1610.5 1618.6 1609.8 1621.2C1609 1623.9 1607 1625.6 1605.8 1628.4C1604.7 1631.2 1603.7 1633.4 1602.8 1638C1601.9 1642.7 1601 1651.1 1600.4 1656.4C1599.9 1661.6 1599.7 1665.5 1599.7 1669.6C1599.7 1673.7 1600 1677.6 1600.3 1680.8C1600.7 1684 1600 1687.1 1601.7 1689C1603.5 1690.8 1606.2 1692.5 1610.9 1692C1615.6 1691.5 1623.5 1686.4 1629.9 1686C1636.2 1685.6 1644 1688.6 1648.9 1689.5C1653.8 1690.5 1656.1 1691.8 1659.4 1691.7C1662.6 1691.6 1666.1 1691.1 1668.5 1689.2C1670.9 1687.3 1671.9 1683.8 1673.9 1680.2C1675.8 1676.6 1678.1 1672.3 1680.1 1667.8C1682.1 1663.3 1684.1 1659 1686 1653.2C1687.9 1647.4 1691.4 1637.8 1691.7 1633C1691.9 1628.2 1688.9 1626.7 1687.4 1624.2C1685.8 1621.6 1683.2 1620 1682.3 1617.5C1681.4 1615.1 1681.2 1612.1 1681.8 1609.6C1682.4 1607.1 1684.1 1604.4 1686 1602.6C1687.9 1600.7 1691 1599.3 1693.3 1598.4C1695.5 1597.6 1697.4 1597.5 1699.4 1597.5C1701.5 1597.5 1703.3 1597.6 1705.6 1598.4C1707.8 1599.3 1710.9 1600.7 1712.8 1602.6C1714.7 1604.4 1716.4 1607.1 1717 1609.6C1717.6 1612.1 1717.4 1615.1 1716.5 1617.5C1715.6 1620 1713 1621.6 1711.4 1624.2C1709.9 1626.7 1708.7 1628.2 1707.1 1633C1705.6 1637.8 1703.7 1647.4 1702.4 1653.2C1701 1659 1700 1663.3 1699.2 1667.8C1698.3 1672.3 1697.7 1676.6 1697.3 1680.2C1696.8 1683.8 1695.1 1687.2 1696.5 1689.2C1697.9 1691.2 1700 1692.3 1705.6 1692.2C1711.2 1692.1 1721.8 1689.3 1729.9 1688.6C1738 1687.9 1747.4 1687.4 1754.1 1687.9C1760.8 1688.4 1765.8 1691.5 1770 1691.7C1774.1 1691.9 1776.4 1691.2 1779.1 1689.2C1781.8 1687.2 1783.6 1683.5 1786 1679.7C1788.4 1675.9 1791.2 1671.4 1793.5 1666.6C1795.7 1661.9 1797.8 1657.3 1799.6 1651.1C1801.4 1645 1804.2 1634.7 1804.4 1629.7C1804.6 1624.8 1802 1623.9 1800.7 1621.6C1799.4 1619.2 1797.1 1617.6 1796.3 1615.4C1795.5 1613.1 1795.4 1610.4 1795.9 1608C1796.5 1605.7 1797.9 1603.2 1799.6 1601.5C1801.2 1599.8 1803.8 1598.4 1805.8 1597.7C1807.7 1596.9 1809.3 1596.8 1811 1596.8C1812.8 1596.8 1814.4 1596.9 1816.3 1597.7C1818.2 1598.4 1820.9 1599.8 1822.5 1601.5C1824.2 1603.2 1825.6 1605.7 1826.2 1608C1826.7 1610.4 1826.5 1613.1 1825.7 1615.4C1824.9 1617.6 1822.7 1619.2 1821.4 1621.6C1820 1623.9 1818.8 1624.8 1817.7 1629.7C1816.6 1634.7 1815.3 1645 1814.7 1651.1C1814.1 1657.3 1813.9 1661.9 1814.1 1666.6C1814.2 1671.4 1814.8 1675.9 1815.4 1679.7C1816 1683.5 1815.8 1687.1 1817.7 1689.2C1819.7 1691.3 1822.2 1692.7 1826.9 1692.2C1831.6 1691.7 1839.7 1686.7 1846.2 1686.5C1852.6 1686.2 1860.4 1689.8 1865.4 1690.7C1870.4 1691.5 1872.8 1691.9 1876.1 1691.7C1879.4 1691.5 1882.9 1690.9 1885.3 1689.2C1887.6 1687.5 1888.5 1684.6 1890.3 1681.6C1892 1678.7 1894 1675 1895.6 1671.3C1897.3 1667.5 1898.8 1663.9 1900.1 1659C1901.4 1654.1 1903.5 1646.2 1903.5 1642C1903.4 1637.8 1901.1 1636.1 1899.7 1633.7C1898.3 1631.3 1896.1 1629.7 1895.3 1627.4C1894.5 1625.2 1894.3 1622.4 1894.8 1620C1895.4 1617.7 1896.9 1615.1 1898.5 1613.4C1900.2 1611.6 1902.9 1610.3 1904.9 1609.5C1906.8 1608.7 1908.5 1608.6 1910.3 1608.6C1912.1 1608.6 1913.7 1608.7 1915.6 1609.5C1917.6 1610.3 1920.3 1611.6 1922 1613.4C1923.6 1615.1 1925.1 1617.7 1925.7 1620C1926.2 1622.4 1926.1 1625.2 1925.2 1627.4C1924.4 1629.7 1922.2 1631.3 1920.8 1633.7C1919.4 1636.1 1918 1637.8 1917 1642C1916.1 1646.2 1915.3 1654.1 1914.9 1659C1914.5 1663.9 1914.4 1667.5 1914.6 1671.3C1914.7 1675 1915.1 1678.7 1915.6 1681.6C1916.1 1684.6 1915.6 1687.4 1917.4 1689.2C1919.2 1691 1922.2 1692.1 1926.5 1692.2C1930.9 1692.3 1939.4 1689.6 1943.5 1689.5C1947.6 1689.5 1948.5 1691.8 1951.3 1691.7C1954.2 1691.6 1958.4 1690.6 1960.5 1689.2C1962.5 1687.8 1962.6 1685.6 1963.7 1683.2C1964.8 1680.9 1966.2 1678 1967.3 1675C1968.4 1672.1 1969.4 1669.2 1970.4 1665.3C1971.4 1661.5 1972.8 1655.1 1973.1 1651.9C1973.4 1648.7 1972.7 1647.8 1972 1646.1C1971.3 1644.4 1969.4 1643.3 1968.9 1641.7C1968.3 1640.1 1968.2 1638.1 1968.6 1636.5C1968.9 1634.9 1970 1633.1 1971.2 1631.8C1972.4 1630.6 1974.3 1629.7 1975.7 1629.1C1977.1 1628.6 1978.2 1628.5 1979.5 1628.5C1980.8 1628.5 1981.9 1628.6 1983.3 1629.1C1984.7 1629.7 1986.6 1630.6 1987.8 1631.8C1989 1633.1 1990 1634.9 1990.4 1636.5C1990.8 1638.1 1990.7 1640.1 1990.1 1641.7C1989.6 1643.3 1987.7 1644.4 1987 1646.1C1986.3 1647.8 1986.4 1648.7 1985.9 1651.9C1985.4 1655.1 1984.4 1661.5 1983.9 1665.3C1983.5 1669.2 1983.2 1672.1 1983 1675C1982.9 1678 1982.9 1680.9 1983 1683.2C1983 1685.6 1981.9 1687.7 1983.5 1689.2C1985.1 1690.7 1989.2 1692 1992.6 1692.2C1996 1692.4 2000.2 1690.8 2003.8 1690.2C2007.4 1689.6 2011.8 1688.4 2014.3 1688.7C2016.8 1689 2018 1690.1 2018.8 1692.2C2019.6 1694.3 2019.2 1699.7 2019.3 1701.2" fill="none" stroke="#58585a" stroke-width="7.6" stroke-linejoin="round" stroke-linecap="round"/>
<path d="M1028.6 1682.8V2060M2019.3 1693.2V2060" stroke="#58585a" stroke-width="6" stroke-linecap="round" fill="none"/>
<text x="640.2" y="2021" font-size="49" font-weight="bold" fill="#111" text-anchor="start" textLength="368.8" lengthAdjust="spacingAndGlyphs" >Epidermal cells</text>
<line x1="819.5" y1="1941" x2="841.8" y2="1971.1" stroke="#111" stroke-width="3.8" />
<path d="M849 1980.7L836.6 1973.7L845.9 1966.8Z" fill="#111"/>
<text x="364.9" y="2138.8" font-size="58.5" font-weight="bold" fill="#111" text-anchor="start" textLength="403" lengthAdjust="spacingAndGlyphs" >Normal cuticle</text>
<text x="1303.1" y="2138.8" font-size="58" font-weight="bold" fill="#111" text-anchor="start" textLength="508.8" lengthAdjust="spacingAndGlyphs" >Thickening cuticle</text>
<text x="1029.3" y="1591" font-size="49.3" font-weight="bold" fill="#111" text-anchor="start" textLength="238.2" lengthAdjust="spacingAndGlyphs" >Epicuticle</text>
<line x1="1275.4" y1="1644.3" x2="1238.2" y2="1602.7" stroke="#111" stroke-width="3.8" />
<path d="M1230.2 1593.8L1243.2 1599.7L1234.6 1607.3Z" fill="#111"/>
<text x="1382.7" y="1744.8" font-size="49.2" font-weight="bold" fill="#111" text-anchor="start" textLength="250.5" lengthAdjust="spacingAndGlyphs" >Exocuticle</text>
<text x="1369.1" y="1864.9" font-size="49.2" font-weight="bold" fill="#111" text-anchor="start" textLength="284.1" lengthAdjust="spacingAndGlyphs" >Endocuticle</text>
<g fill="none" stroke="#767273" stroke-width="5.1">
<rect x="25.7" y="93" width="1999.8" height="1323.5"/>
<path d="M1022 93V1416.5"/>
<rect x="25.7" y="1528.6" width="2000" height="644"/>
</g>
<path d="M1017.5 1528.6V2172.6" fill="none" stroke="#767273" stroke-width="7"/>
</svg>
</body></html>
